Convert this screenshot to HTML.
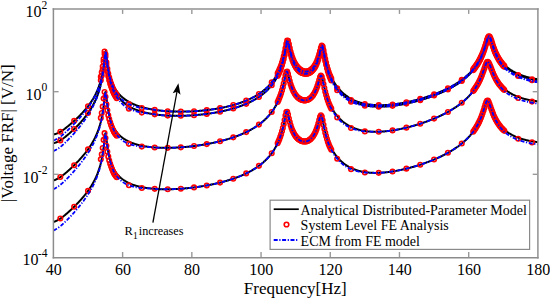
<!DOCTYPE html>
<html><head><meta charset="utf-8"><style>html,body{margin:0;padding:0;background:#fff;width:550px;height:299px;overflow:hidden}svg{display:block}</style></head>
<body><svg width="550" height="299" viewBox="0 0 550 299">
<rect width="550" height="299" fill="#fff"/>
<defs><clipPath id="cp"><rect x="53.4" y="9" width="484.5" height="248.75"/></clipPath></defs>
<g clip-path="url(#cp)"><g transform="matrix(1.001033,0,0,1,0.3452,0)">
<polyline fill="none" stroke="#000" stroke-width="2" stroke-linejoin="round" points="53.00,134.49 53.35,134.42 53.69,134.35 54.04,134.27 54.38,134.18 54.73,134.08 55.07,133.98 55.42,133.86 55.77,133.74 56.11,133.61 56.46,133.48 56.80,133.34 57.15,133.19 57.49,133.03 57.84,132.86 58.19,132.69 58.53,132.52 58.88,132.33 59.22,132.14 59.57,131.95 59.91,131.74 60.26,131.54 60.61,131.32 60.95,131.11 61.30,130.88 61.64,130.66 61.99,130.42 62.33,130.19 62.68,129.95 63.03,129.70 63.37,129.45 63.72,129.20 64.06,128.95 64.41,128.69 64.75,128.42 65.10,128.16 65.45,127.89 65.79,127.62 66.14,127.35 66.48,127.07 66.83,126.79 67.17,126.51 67.52,126.23 67.87,125.94 68.21,125.66 68.56,125.37 68.90,125.08 69.25,124.79 69.59,124.49 69.94,124.20 70.29,123.90 70.63,123.60 70.98,123.30 71.32,123.00 71.67,122.69 72.01,122.39 72.36,122.08 72.71,121.78 73.05,121.47 73.40,121.16 73.74,120.85 74.09,120.54 74.43,120.22 74.78,119.91 75.13,119.59 75.47,119.27 75.82,118.94 76.16,118.62 76.51,118.29 76.85,117.96 77.20,117.63 77.55,117.29 77.89,116.96 78.24,116.62 78.58,116.27 78.93,115.93 79.27,115.58 79.62,115.23 79.97,114.88 80.31,114.52 80.66,114.16 81.00,113.80 81.35,113.44 81.69,113.07 82.04,112.70 82.39,112.32 82.73,111.94 83.08,111.56 83.42,111.18 83.77,110.79 84.11,110.39 84.46,110.00 84.81,109.59 85.15,109.19 85.50,108.78 85.84,108.36 86.19,107.94 86.53,107.52 86.88,107.08 87.23,106.65 87.57,106.21 87.92,105.76 88.26,105.30 88.61,104.84 88.95,104.37 89.30,103.90 89.65,103.41 89.99,102.92 90.34,102.42 90.68,101.91 91.03,101.40 91.37,100.87 91.72,100.33 92.07,99.78 92.41,99.22 92.76,98.65 93.10,98.06 93.45,97.46 93.79,96.84 94.14,96.21 94.49,95.56 94.83,94.90 95.18,94.21 95.52,93.51 95.87,92.78 96.21,92.03 96.56,91.25 96.91,90.45 97.25,89.61 97.60,88.75 97.94,87.85 98.29,86.91 98.63,85.93 98.98,84.90 99.33,83.83 99.67,82.69 100.02,81.50 100.36,80.27 100.71,78.97 101.05,77.59 101.40,76.12 101.75,74.54 102.09,72.82 102.44,70.95 102.78,68.88 103.13,66.59 103.47,64.03 103.82,61.19 104.17,58.09 104.51,54.93 104.86,52.23 105.20,50.98 105.55,51.84 105.89,54.29 106.24,57.31 106.59,60.31 106.93,63.06 107.28,65.52 107.62,67.71 107.97,69.66 108.31,71.41 108.66,73.00 109.01,74.43 109.35,75.75 109.70,76.96 110.04,78.09 110.39,79.14 110.73,80.14 111.08,81.08 111.43,81.98 111.77,82.85 112.12,83.68 112.46,84.47 112.81,85.21 113.15,85.93 113.50,86.61 113.85,87.26 114.19,87.88 114.54,88.48 114.88,89.05 115.23,89.60 115.57,90.13 115.92,90.65 116.27,91.14 116.61,91.61 116.96,92.07 117.30,92.52 117.65,92.95 117.99,93.36 118.34,93.77 118.69,94.16 119.03,94.54 119.38,94.91 119.72,95.26 120.07,95.61 120.41,95.95 120.76,96.28 121.11,96.60 121.45,96.91 121.80,97.22 122.14,97.51 122.49,97.80 122.83,98.09 123.18,98.36 123.53,98.63 123.87,98.89 124.22,99.15 124.56,99.40 124.91,99.64 125.25,99.88 125.60,100.12 125.95,100.35 126.29,100.57 126.64,100.79 126.98,101.01 127.33,101.22 127.67,101.42 128.02,101.62 128.37,101.82 128.71,102.01 129.06,102.20 129.40,102.39 129.75,102.57 130.09,102.75 130.44,102.93 130.79,103.10 131.13,103.27 131.48,103.43 131.82,103.60 132.17,103.76 132.51,103.91 132.86,104.07 133.21,104.22 133.55,104.37 133.90,104.51 134.24,104.65 134.59,104.79 134.93,104.93 135.28,105.07 135.63,105.20 135.97,105.33 136.32,105.46 136.66,105.59 137.01,105.71 137.35,105.83 137.70,105.95 138.05,106.07 138.39,106.19 138.74,106.30 139.08,106.41 139.43,106.52 139.77,106.63 140.12,106.74 140.47,106.84 140.81,106.94 141.16,107.05 141.50,107.14 141.85,107.24 142.19,107.34 142.54,107.43 142.89,107.53 143.23,107.62 143.58,107.71 143.92,107.80 144.27,107.88 144.61,107.97 144.96,108.05 145.31,108.14 145.65,108.22 146.00,108.30 146.34,108.38 146.69,108.45 147.03,108.53 147.38,108.60 147.73,108.68 148.07,108.75 148.42,108.82 148.76,108.89 149.11,108.96 149.45,109.03 149.80,109.09 150.15,109.16 150.49,109.22 150.84,109.29 151.18,109.35 151.53,109.41 151.87,109.47 152.22,109.53 152.57,109.59 152.91,109.64 153.26,109.70 153.60,109.75 153.95,109.81 154.29,109.86 154.64,109.91 154.99,109.96 155.33,110.01 155.68,110.06 156.02,110.11 156.37,110.16 156.71,110.20 157.06,110.25 157.41,110.29 157.75,110.34 158.10,110.38 158.44,110.42 158.79,110.46 159.13,110.50 159.48,110.54 159.83,110.58 160.17,110.62 160.52,110.66 160.86,110.69 161.21,110.73 161.55,110.76 161.90,110.80 162.25,110.83 162.59,110.86 162.94,110.89 163.28,110.93 163.63,110.96 163.97,110.98 164.32,111.01 164.67,111.04 165.01,111.07 165.36,111.10 165.70,111.12 166.05,111.15 166.39,111.17 166.74,111.19 167.09,111.22 167.43,111.24 167.78,111.26 168.12,111.28 168.47,111.30 168.81,111.32 169.16,111.34 169.51,111.36 169.85,111.38 170.20,111.40 170.54,111.41 170.89,111.43 171.23,111.44 171.58,111.46 171.93,111.47 172.27,111.49 172.62,111.50 172.96,111.51 173.31,111.52 173.65,111.53 174.00,111.54 174.35,111.55 174.69,111.56 175.04,111.57 175.38,111.58 175.73,111.59 176.07,111.60 176.42,111.60 176.77,111.61 177.11,111.61 177.46,111.62 177.80,111.62 178.15,111.62 178.49,111.63 178.84,111.63 179.19,111.63 179.53,111.63 179.88,111.63 180.22,111.63 180.57,111.63 180.91,111.63 181.26,111.63 181.61,111.63 181.95,111.63 182.30,111.62 182.64,111.62 182.99,111.61 183.33,111.61 183.68,111.60 184.03,111.60 184.37,111.59 184.72,111.59 185.06,111.58 185.41,111.57 185.75,111.56 186.10,111.55 186.45,111.54 186.79,111.53 187.14,111.52 187.48,111.51 187.83,111.50 188.17,111.49 188.52,111.47 188.87,111.46 189.21,111.45 189.56,111.43 189.90,111.42 190.25,111.40 190.59,111.39 190.94,111.37 191.29,111.35 191.63,111.34 191.98,111.32 192.32,111.30 192.67,111.28 193.01,111.26 193.36,111.24 193.71,111.22 194.05,111.20 194.40,111.18 194.74,111.15 195.09,111.13 195.43,111.11 195.78,111.09 196.13,111.06 196.47,111.04 196.82,111.01 197.16,110.98 197.51,110.96 197.85,110.93 198.20,110.90 198.55,110.88 198.89,110.85 199.24,110.82 199.58,110.79 199.93,110.76 200.27,110.73 200.62,110.70 200.97,110.66 201.31,110.63 201.66,110.60 202.00,110.57 202.35,110.53 202.69,110.50 203.04,110.46 203.39,110.43 203.73,110.39 204.08,110.35 204.42,110.32 204.77,110.28 205.11,110.24 205.46,110.20 205.81,110.16 206.15,110.12 206.50,110.08 206.84,110.04 207.19,110.00 207.53,109.96 207.88,109.91 208.23,109.87 208.57,109.82 208.92,109.78 209.26,109.73 209.61,109.69 209.95,109.64 210.30,109.60 210.65,109.55 210.99,109.50 211.34,109.45 211.68,109.40 212.03,109.35 212.37,109.30 212.72,109.25 213.07,109.20 213.41,109.14 213.76,109.09 214.10,109.04 214.45,108.98 214.79,108.93 215.14,108.87 215.49,108.81 215.83,108.76 216.18,108.70 216.52,108.64 216.87,108.58 217.21,108.52 217.56,108.46 217.91,108.40 218.25,108.34 218.60,108.28 218.94,108.21 219.29,108.15 219.63,108.08 219.98,108.02 220.33,107.95 220.67,107.89 221.02,107.82 221.36,107.75 221.71,107.68 222.05,107.61 222.40,107.54 222.75,107.47 223.09,107.40 223.44,107.32 223.78,107.25 224.13,107.18 224.47,107.10 224.82,107.02 225.17,106.95 225.51,106.87 225.86,106.79 226.20,106.71 226.55,106.63 226.89,106.55 227.24,106.47 227.59,106.39 227.93,106.30 228.28,106.22 228.62,106.13 228.97,106.05 229.31,105.96 229.66,105.87 230.01,105.78 230.35,105.69 230.70,105.60 231.04,105.51 231.39,105.42 231.73,105.32 232.08,105.23 232.43,105.13 232.77,105.04 233.12,104.94 233.46,104.84 233.81,104.74 234.15,104.64 234.50,104.54 234.85,104.44 235.19,104.33 235.54,104.23 235.88,104.12 236.23,104.01 236.57,103.90 236.92,103.80 237.27,103.68 237.61,103.57 237.96,103.46 238.30,103.35 238.65,103.23 238.99,103.11 239.34,102.99 239.69,102.88 240.03,102.75 240.38,102.63 240.72,102.51 241.07,102.39 241.41,102.26 241.76,102.13 242.11,102.00 242.45,101.87 242.80,101.74 243.14,101.61 243.49,101.47 243.83,101.34 244.18,101.20 244.53,101.06 244.87,100.92 245.22,100.78 245.56,100.64 245.91,100.49 246.25,100.34 246.60,100.19 246.95,100.04 247.29,99.89 247.64,99.74 247.98,99.58 248.33,99.42 248.67,99.27 249.02,99.10 249.37,98.94 249.71,98.78 250.06,98.61 250.40,98.44 250.75,98.27 251.09,98.10 251.44,97.92 251.79,97.74 252.13,97.56 252.48,97.38 252.82,97.20 253.17,97.01 253.51,96.82 253.86,96.63 254.21,96.44 254.55,96.24 254.90,96.04 255.24,95.84 255.59,95.64 255.93,95.43 256.28,95.22 256.63,95.01 256.97,94.79 257.32,94.57 257.66,94.35 258.01,94.13 258.35,93.90 258.70,93.67 259.05,93.44 259.39,93.20 259.74,92.96 260.08,92.72 260.43,92.47 260.77,92.22 261.12,91.96 261.47,91.70 261.81,91.44 262.16,91.17 262.50,90.90 262.85,90.63 263.19,90.35 263.54,90.06 263.89,89.77 264.23,89.48 264.58,89.18 264.92,88.88 265.27,88.57 265.61,88.26 265.96,87.94 266.31,87.61 266.65,87.28 267.00,86.95 267.34,86.60 267.69,86.26 268.03,85.90 268.38,85.54 268.73,85.17 269.07,84.79 269.42,84.41 269.76,84.02 270.11,83.62 270.45,83.21 270.80,82.79 271.15,82.37 271.49,81.93 271.84,81.49 272.18,81.03 272.53,80.57 272.87,80.09 273.22,79.60 273.57,79.10 273.91,78.59 274.26,78.06 274.60,77.52 274.95,76.97 275.29,76.40 275.64,75.81 275.99,75.21 276.33,74.59 276.68,73.95 277.02,73.29 277.37,72.60 277.71,71.90 278.06,71.17 278.41,70.42 278.75,69.63 279.10,68.82 279.44,67.98 279.79,67.10 280.13,66.18 280.48,65.23 280.83,64.23 281.17,63.18 281.52,62.08 281.86,60.93 282.21,59.72 282.55,58.44 282.90,57.09 283.25,55.66 283.59,54.15 283.94,52.56 284.28,50.88 284.63,49.13 284.97,47.33 285.32,45.51 285.67,43.77 286.01,42.21 286.36,41.00 286.70,40.32 287.05,40.28 287.39,40.86 287.74,41.94 288.09,43.33 288.43,44.89 288.78,46.49 289.12,48.07 289.47,49.59 289.81,51.03 290.16,52.39 290.51,53.66 290.85,54.85 291.20,55.97 291.54,57.01 291.89,57.99 292.23,58.90 292.58,59.77 292.93,60.57 293.27,61.34 293.62,62.05 293.96,62.73 294.31,63.37 294.65,63.97 295.00,64.53 295.35,65.07 295.69,65.58 296.04,66.06 296.38,66.51 296.73,66.94 297.07,67.34 297.42,67.72 297.77,68.08 298.11,68.41 298.46,68.73 298.80,69.03 299.15,69.31 299.49,69.57 299.84,69.81 300.19,70.03 300.53,70.24 300.88,70.44 301.22,70.61 301.57,70.77 301.91,70.92 302.26,71.05 302.61,71.16 302.95,71.26 303.30,71.34 303.64,71.41 303.99,71.47 304.33,71.51 304.68,71.53 305.03,71.55 305.37,71.54 305.72,71.52 306.06,71.49 306.41,71.44 306.75,71.37 307.10,71.29 307.45,71.20 307.79,71.08 308.14,70.96 308.48,70.81 308.83,70.65 309.17,70.46 309.52,70.26 309.87,70.05 310.21,69.81 310.56,69.55 310.90,69.27 311.25,68.96 311.59,68.64 311.94,68.29 312.29,67.91 312.63,67.51 312.98,67.08 313.32,66.62 313.67,66.13 314.01,65.60 314.36,65.04 314.71,64.44 315.05,63.80 315.40,63.12 315.74,62.39 316.09,61.61 316.43,60.77 316.78,59.88 317.13,58.93 317.47,57.91 317.82,56.82 318.16,55.65 318.51,54.42 318.85,53.12 319.20,51.77 319.55,50.38 319.89,49.01 320.24,47.73 320.58,46.63 320.93,45.85 321.27,45.52 321.62,45.72 321.97,46.45 322.31,47.61 322.66,49.07 323.00,50.70 323.35,52.40 323.69,54.12 324.04,55.79 324.39,57.42 324.73,58.97 325.08,60.45 325.42,61.87 325.77,63.21 326.11,64.49 326.46,65.71 326.81,66.87 327.15,67.98 327.50,69.04 327.84,70.06 328.19,71.03 328.53,71.97 328.88,72.86 329.23,73.73 329.57,74.56 329.92,75.36 330.26,76.14 330.61,76.89 330.95,77.61 331.30,78.32 331.65,78.99 331.99,79.65 332.34,80.29 332.68,80.91 333.03,81.51 333.37,82.10 333.72,82.67 334.07,83.22 334.41,83.76 334.76,84.28 335.10,84.80 335.45,85.29 335.79,85.78 336.14,86.25 336.49,86.71 336.83,87.17 337.18,87.60 337.52,88.03 337.87,88.45 338.21,88.86 338.56,89.26 338.91,89.65 339.25,90.04 339.60,90.41 339.94,90.78 340.29,91.13 340.63,91.48 340.98,91.83 341.33,92.16 341.67,92.49 342.02,92.81 342.36,93.12 342.71,93.43 343.05,93.73 343.40,94.02 343.75,94.31 344.09,94.59 344.44,94.87 344.78,95.14 345.13,95.40 345.47,95.66 345.82,95.91 346.17,96.16 346.51,96.40 346.86,96.64 347.20,96.88 347.55,97.10 347.89,97.33 348.24,97.55 348.59,97.76 348.93,97.97 349.28,98.18 349.62,98.38 349.97,98.57 350.31,98.77 350.66,98.95 351.01,99.14 351.35,99.32 351.70,99.50 352.04,99.67 352.39,99.84 352.73,100.00 353.08,100.17 353.43,100.32 353.77,100.48 354.12,100.63 354.46,100.78 354.81,100.92 355.15,101.07 355.50,101.20 355.85,101.34 356.19,101.47 356.54,101.60 356.88,101.73 357.23,101.85 357.57,101.97 357.92,102.09 358.27,102.20 358.61,102.31 358.96,102.42 359.30,102.53 359.65,102.63 359.99,102.74 360.34,102.83 360.69,102.93 361.03,103.02 361.38,103.12 361.72,103.20 362.07,103.29 362.41,103.37 362.76,103.46 363.11,103.54 363.45,103.61 363.80,103.69 364.14,103.76 364.49,103.83 364.83,103.90 365.18,103.97 365.53,104.03 365.87,104.09 366.22,104.15 366.56,104.21 366.91,104.27 367.25,104.32 367.60,104.37 367.95,104.43 368.29,104.47 368.64,104.52 368.98,104.57 369.33,104.61 369.67,104.65 370.02,104.69 370.37,104.73 370.71,104.77 371.06,104.80 371.40,104.83 371.75,104.86 372.09,104.89 372.44,104.92 372.79,104.95 373.13,104.97 373.48,105.00 373.82,105.02 374.17,105.04 374.51,105.06 374.86,105.08 375.21,105.09 375.55,105.11 375.90,105.12 376.24,105.13 376.59,105.14 376.93,105.15 377.28,105.16 377.63,105.17 377.97,105.17 378.32,105.18 378.66,105.18 379.01,105.18 379.35,105.18 379.70,105.18 380.05,105.18 380.39,105.17 380.74,105.17 381.08,105.16 381.43,105.16 381.77,105.15 382.12,105.14 382.47,105.13 382.81,105.12 383.16,105.10 383.50,105.09 383.85,105.07 384.19,105.06 384.54,105.04 384.89,105.02 385.23,105.00 385.58,104.98 385.92,104.96 386.27,104.94 386.61,104.92 386.96,104.89 387.31,104.87 387.65,104.84 388.00,104.81 388.34,104.78 388.69,104.75 389.03,104.72 389.38,104.69 389.73,104.66 390.07,104.63 390.42,104.59 390.76,104.56 391.11,104.52 391.45,104.48 391.80,104.45 392.15,104.41 392.49,104.37 392.84,104.33 393.18,104.29 393.53,104.25 393.87,104.20 394.22,104.16 394.57,104.11 394.91,104.07 395.26,104.02 395.60,103.97 395.95,103.93 396.29,103.88 396.64,103.83 396.99,103.78 397.33,103.73 397.68,103.68 398.02,103.62 398.37,103.57 398.71,103.51 399.06,103.46 399.41,103.40 399.75,103.35 400.10,103.29 400.44,103.23 400.79,103.17 401.13,103.11 401.48,103.05 401.83,102.99 402.17,102.93 402.52,102.87 402.86,102.80 403.21,102.74 403.55,102.67 403.90,102.61 404.25,102.54 404.59,102.47 404.94,102.41 405.28,102.34 405.63,102.27 405.97,102.20 406.32,102.13 406.67,102.06 407.01,101.98 407.36,101.91 407.70,101.84 408.05,101.76 408.39,101.69 408.74,101.61 409.09,101.53 409.43,101.46 409.78,101.38 410.12,101.30 410.47,101.22 410.81,101.14 411.16,101.06 411.51,100.98 411.85,100.90 412.20,100.81 412.54,100.73 412.89,100.65 413.23,100.56 413.58,100.48 413.93,100.39 414.27,100.30 414.62,100.21 414.96,100.13 415.31,100.04 415.65,99.95 416.00,99.86 416.35,99.76 416.69,99.67 417.04,99.58 417.38,99.49 417.73,99.39 418.07,99.30 418.42,99.20 418.77,99.11 419.11,99.01 419.46,98.91 419.80,98.81 420.15,98.71 420.49,98.61 420.84,98.51 421.19,98.41 421.53,98.31 421.88,98.21 422.22,98.10 422.57,98.00 422.91,97.89 423.26,97.79 423.61,97.68 423.95,97.57 424.30,97.46 424.64,97.35 424.99,97.24 425.33,97.13 425.68,97.02 426.03,96.91 426.37,96.80 426.72,96.68 427.06,96.57 427.41,96.45 427.75,96.34 428.10,96.22 428.45,96.10 428.79,95.98 429.14,95.87 429.48,95.75 429.83,95.62 430.17,95.50 430.52,95.38 430.87,95.26 431.21,95.13 431.56,95.01 431.90,94.88 432.25,94.75 432.59,94.63 432.94,94.50 433.29,94.37 433.63,94.24 433.98,94.10 434.32,93.97 434.67,93.84 435.01,93.70 435.36,93.57 435.71,93.43 436.05,93.29 436.40,93.16 436.74,93.02 437.09,92.88 437.43,92.74 437.78,92.59 438.13,92.45 438.47,92.31 438.82,92.16 439.16,92.01 439.51,91.87 439.85,91.72 440.20,91.57 440.55,91.42 440.89,91.27 441.24,91.11 441.58,90.96 441.93,90.80 442.27,90.65 442.62,90.49 442.97,90.33 443.31,90.17 443.66,90.01 444.00,89.85 444.35,89.68 444.69,89.52 445.04,89.35 445.39,89.18 445.73,89.01 446.08,88.84 446.42,88.67 446.77,88.50 447.11,88.32 447.46,88.15 447.81,87.97 448.15,87.79 448.50,87.61 448.84,87.43 449.19,87.25 449.53,87.06 449.88,86.87 450.23,86.69 450.57,86.50 450.92,86.30 451.26,86.11 451.61,85.92 451.95,85.72 452.30,85.52 452.65,85.32 452.99,85.12 453.34,84.92 453.68,84.71 454.03,84.50 454.37,84.29 454.72,84.08 455.07,83.87 455.41,83.65 455.76,83.43 456.10,83.21 456.45,82.99 456.79,82.77 457.14,82.54 457.49,82.31 457.83,82.08 458.18,81.84 458.52,81.61 458.87,81.37 459.21,81.13 459.56,80.88 459.91,80.64 460.25,80.39 460.60,80.13 460.94,79.88 461.29,79.62 461.63,79.36 461.98,79.09 462.33,78.83 462.67,78.56 463.02,78.28 463.36,78.00 463.71,77.72 464.05,77.44 464.40,77.15 464.75,76.86 465.09,76.56 465.44,76.26 465.78,75.96 466.13,75.65 466.47,75.33 466.82,75.02 467.17,74.69 467.51,74.37 467.86,74.03 468.20,73.70 468.55,73.36 468.89,73.01 469.24,72.65 469.59,72.30 469.93,71.93 470.28,71.56 470.62,71.18 470.97,70.80 471.31,70.41 471.66,70.01 472.01,69.60 472.35,69.19 472.70,68.77 473.04,68.34 473.39,67.90 473.73,67.45 474.08,66.99 474.43,66.53 474.77,66.05 475.12,65.56 475.46,65.07 475.81,64.56 476.15,64.03 476.50,63.50 476.85,62.95 477.19,62.38 477.54,61.81 477.88,61.21 478.23,60.60 478.57,59.98 478.92,59.33 479.27,58.66 479.61,57.98 479.96,57.27 480.30,56.54 480.65,55.79 480.99,55.01 481.34,54.20 481.69,53.37 482.03,52.50 482.38,51.61 482.72,50.68 483.07,49.72 483.41,48.72 483.76,47.69 484.11,46.63 484.45,45.54 484.80,44.42 485.14,43.28 485.49,42.14 485.83,41.00 486.18,39.90 486.53,38.86 486.87,37.92 487.22,37.14 487.56,36.55 487.91,36.21 488.25,36.12 488.60,36.31 488.95,36.74 489.29,37.39 489.64,38.20 489.98,39.12 490.33,40.12 490.67,41.16 491.02,42.22 491.37,43.28 491.71,44.32 492.06,45.33 492.40,46.31 492.75,47.27 493.09,48.18 493.44,49.07 493.79,49.92 494.13,50.74 494.48,51.52 494.82,52.28 495.17,53.01 495.51,53.71 495.86,54.38 496.21,55.03 496.55,55.66 496.90,56.26 497.24,56.85 497.59,57.41 497.93,57.96 498.28,58.48 498.63,58.99 498.97,59.49 499.32,59.97 499.66,60.44 500.01,60.89 500.35,61.33 500.70,61.75 501.05,62.17 501.39,62.57 501.74,62.96 502.08,63.34 502.43,63.72 502.77,64.08 503.12,64.43 503.47,64.78 503.81,65.11 504.16,65.44 504.50,65.76 504.85,66.07 505.19,66.38 505.54,66.68 505.89,66.97 506.23,67.25 506.58,67.53 506.92,67.80 507.27,68.07 507.61,68.33 507.96,68.59 508.31,68.84 508.65,69.08 509.00,69.32 509.34,69.56 509.69,69.79 510.03,70.01 510.38,70.24 510.73,70.45 511.07,70.66 511.42,70.87 511.76,71.08 512.11,71.28 512.45,71.48 512.80,71.67 513.15,71.86 513.49,72.04 513.84,72.23 514.18,72.41 514.53,72.58 514.87,72.76 515.22,72.92 515.57,73.09 515.91,73.26 516.26,73.42 516.60,73.57 516.95,73.73 517.29,73.88 517.64,74.03 517.99,74.18 518.33,74.32 518.68,74.46 519.02,74.60 519.37,74.74 519.71,74.88 520.06,75.01 520.41,75.14 520.75,75.27 521.10,75.39 521.44,75.51 521.79,75.64 522.13,75.75 522.48,75.87 522.83,75.99 523.17,76.10 523.52,76.21 523.86,76.32 524.21,76.43 524.55,76.53 524.90,76.64 525.25,76.74 525.59,76.84 525.94,76.94 526.28,77.03 526.63,77.13 526.97,77.22 527.32,77.31 527.67,77.40 528.01,77.49 528.36,77.58 528.70,77.66 529.05,77.74 529.39,77.83 529.74,77.91 530.09,77.99 530.43,78.06 530.78,78.14 531.12,78.21 531.47,78.29 531.81,78.36 532.16,78.43 532.51,78.50 532.85,78.57 533.20,78.63 533.54,78.70 533.89,78.76 534.23,78.82 534.58,78.88 534.93,78.94 535.27,79.00 535.62,79.06 535.96,79.12 536.31,79.17 536.65,79.23 537.00,79.28"/>
<polyline fill="none" stroke="#000" stroke-width="2" stroke-linejoin="round" points="53.00,143.19 53.35,143.12 53.69,143.05 54.04,142.96 54.38,142.87 54.73,142.78 55.07,142.67 55.42,142.55 55.77,142.43 56.11,142.30 56.46,142.16 56.80,142.01 57.15,141.86 57.49,141.70 57.84,141.53 58.19,141.35 58.53,141.17 58.88,140.98 59.22,140.79 59.57,140.58 59.91,140.38 60.26,140.16 60.61,139.94 60.95,139.72 61.30,139.49 61.64,139.25 61.99,139.01 62.33,138.77 62.68,138.52 63.03,138.27 63.37,138.01 63.72,137.75 64.06,137.48 64.41,137.21 64.75,136.94 65.10,136.67 65.45,136.39 65.79,136.11 66.14,135.82 66.48,135.54 66.83,135.25 67.17,134.96 67.52,134.66 67.87,134.36 68.21,134.07 68.56,133.77 68.90,133.46 69.25,133.16 69.59,132.85 69.94,132.54 70.29,132.23 70.63,131.92 70.98,131.61 71.32,131.29 71.67,130.98 72.01,130.66 72.36,130.34 72.71,130.02 73.05,129.70 73.40,129.37 73.74,129.05 74.09,128.72 74.43,128.39 74.78,128.06 75.13,127.72 75.47,127.38 75.82,127.03 76.16,126.68 76.51,126.33 76.85,125.97 77.20,125.61 77.55,125.25 77.89,124.88 78.24,124.51 78.58,124.14 78.93,123.76 79.27,123.38 79.62,123.00 79.97,122.61 80.31,122.21 80.66,121.82 81.00,121.42 81.35,121.01 81.69,120.61 82.04,120.19 82.39,119.78 82.73,119.36 83.08,118.94 83.42,118.51 83.77,118.08 84.11,117.64 84.46,117.20 84.81,116.75 85.15,116.30 85.50,115.85 85.84,115.39 86.19,114.92 86.53,114.45 86.88,113.97 87.23,113.49 87.57,113.01 87.92,112.51 88.26,112.01 88.61,111.50 88.95,110.99 89.30,110.46 89.65,109.93 89.99,109.39 90.34,108.84 90.68,108.28 91.03,107.72 91.37,107.14 91.72,106.54 92.07,105.94 92.41,105.32 92.76,104.69 93.10,104.04 93.45,103.38 93.79,102.71 94.14,102.01 94.49,101.30 94.83,100.57 95.18,99.81 95.52,99.04 95.87,98.24 96.21,97.42 96.56,96.57 96.91,95.69 97.25,94.78 97.60,93.83 97.94,92.85 98.29,91.82 98.63,90.72 98.98,89.57 99.33,88.35 99.67,87.07 100.02,85.72 100.36,84.32 100.71,82.85 101.05,81.30 101.40,79.66 101.75,77.92 102.09,76.04 102.44,74.02 102.78,71.82 103.13,69.40 103.47,66.74 103.82,63.81 104.17,60.65 104.51,57.44 104.86,54.73 105.20,53.48 105.55,54.35 105.89,56.80 106.24,59.83 106.59,62.84 106.93,65.61 107.28,68.08 107.62,70.29 107.97,72.26 108.31,74.03 108.66,75.63 109.01,77.09 109.35,78.43 109.70,79.67 110.04,80.82 110.39,81.91 110.73,82.92 111.08,83.89 111.43,84.82 111.77,85.72 112.12,86.57 112.46,87.39 112.81,88.16 113.15,88.90 113.50,89.61 113.85,90.29 114.19,90.94 114.54,91.56 114.88,92.17 115.23,92.76 115.57,93.32 115.92,93.87 116.27,94.41 116.61,94.92 116.96,95.43 117.30,95.91 117.65,96.39 117.99,96.85 118.34,97.30 118.69,97.74 119.03,98.17 119.38,98.58 119.72,98.99 120.07,99.39 120.41,99.77 120.76,100.15 121.11,100.52 121.45,100.88 121.80,101.23 122.14,101.57 122.49,101.90 122.83,102.23 123.18,102.55 123.53,102.86 123.87,103.16 124.22,103.46 124.56,103.74 124.91,104.02 125.25,104.29 125.60,104.56 125.95,104.82 126.29,105.07 126.64,105.31 126.98,105.54 127.33,105.77 127.67,105.99 128.02,106.21 128.37,106.41 128.71,106.61 129.06,106.80 129.40,106.99 129.75,107.17 130.09,107.35 130.44,107.53 130.79,107.70 131.13,107.87 131.48,108.03 131.82,108.19 132.17,108.35 132.51,108.51 132.86,108.66 133.21,108.81 133.55,108.96 133.90,109.11 134.24,109.25 134.59,109.39 134.93,109.53 135.28,109.66 135.63,109.79 135.97,109.92 136.32,110.05 136.66,110.18 137.01,110.30 137.35,110.42 137.70,110.54 138.05,110.66 138.39,110.77 138.74,110.88 139.08,110.99 139.43,111.10 139.77,111.21 140.12,111.32 140.47,111.42 140.81,111.52 141.16,111.62 141.50,111.72 141.85,111.82 142.19,111.91 142.54,112.00 142.89,112.10 143.23,112.19 143.58,112.27 143.92,112.36 144.27,112.45 144.61,112.53 144.96,112.61 145.31,112.70 145.65,112.78 146.00,112.85 146.34,112.93 146.69,113.01 147.03,113.08 147.38,113.15 147.73,113.23 148.07,113.30 148.42,113.37 148.76,113.43 149.11,113.50 149.45,113.57 149.80,113.63 150.15,113.70 150.49,113.76 150.84,113.82 151.18,113.88 151.53,113.94 151.87,114.00 152.22,114.05 152.57,114.11 152.91,114.16 153.26,114.22 153.60,114.27 153.95,114.32 154.29,114.37 154.64,114.42 154.99,114.47 155.33,114.52 155.68,114.57 156.02,114.61 156.37,114.66 156.71,114.70 157.06,114.75 157.41,114.79 157.75,114.83 158.10,114.87 158.44,114.91 158.79,114.95 159.13,114.99 159.48,115.02 159.83,115.06 160.17,115.09 160.52,115.13 160.86,115.16 161.21,115.19 161.55,115.22 161.90,115.25 162.25,115.28 162.59,115.31 162.94,115.34 163.28,115.37 163.63,115.39 163.97,115.42 164.32,115.44 164.67,115.47 165.01,115.49 165.36,115.51 165.70,115.53 166.05,115.56 166.39,115.58 166.74,115.59 167.09,115.61 167.43,115.63 167.78,115.65 168.12,115.66 168.47,115.68 168.81,115.69 169.16,115.71 169.51,115.72 169.85,115.73 170.20,115.75 170.54,115.76 170.89,115.77 171.23,115.78 171.58,115.79 171.93,115.79 172.27,115.80 172.62,115.81 172.96,115.82 173.31,115.82 173.65,115.83 174.00,115.83 174.35,115.84 174.69,115.84 175.04,115.84 175.38,115.85 175.73,115.85 176.07,115.85 176.42,115.85 176.77,115.85 177.11,115.85 177.46,115.85 177.80,115.84 178.15,115.84 178.49,115.84 178.84,115.84 179.19,115.83 179.53,115.83 179.88,115.82 180.22,115.81 180.57,115.81 180.91,115.80 181.26,115.79 181.61,115.79 181.95,115.78 182.30,115.77 182.64,115.76 182.99,115.75 183.33,115.74 183.68,115.73 184.03,115.71 184.37,115.70 184.72,115.69 185.06,115.68 185.41,115.66 185.75,115.65 186.10,115.63 186.45,115.62 186.79,115.60 187.14,115.59 187.48,115.57 187.83,115.55 188.17,115.53 188.52,115.52 188.87,115.50 189.21,115.48 189.56,115.46 189.90,115.44 190.25,115.42 190.59,115.40 190.94,115.38 191.29,115.35 191.63,115.33 191.98,115.31 192.32,115.28 192.67,115.26 193.01,115.24 193.36,115.21 193.71,115.18 194.05,115.16 194.40,115.13 194.74,115.10 195.09,115.08 195.43,115.05 195.78,115.02 196.13,114.99 196.47,114.96 196.82,114.93 197.16,114.90 197.51,114.87 197.85,114.84 198.20,114.80 198.55,114.77 198.89,114.74 199.24,114.70 199.58,114.67 199.93,114.63 200.27,114.60 200.62,114.56 200.97,114.52 201.31,114.49 201.66,114.45 202.00,114.41 202.35,114.37 202.69,114.33 203.04,114.29 203.39,114.25 203.73,114.21 204.08,114.17 204.42,114.13 204.77,114.08 205.11,114.04 205.46,114.00 205.81,113.95 206.15,113.91 206.50,113.86 206.84,113.81 207.19,113.77 207.53,113.72 207.88,113.67 208.23,113.62 208.57,113.57 208.92,113.53 209.26,113.47 209.61,113.42 209.95,113.37 210.30,113.32 210.65,113.27 210.99,113.21 211.34,113.16 211.68,113.11 212.03,113.05 212.37,112.99 212.72,112.94 213.07,112.88 213.41,112.82 213.76,112.77 214.10,112.71 214.45,112.65 214.79,112.59 215.14,112.53 215.49,112.46 215.83,112.40 216.18,112.34 216.52,112.28 216.87,112.21 217.21,112.15 217.56,112.08 217.91,112.01 218.25,111.95 218.60,111.88 218.94,111.81 219.29,111.74 219.63,111.67 219.98,111.60 220.33,111.53 220.67,111.46 221.02,111.39 221.36,111.31 221.71,111.24 222.05,111.17 222.40,111.09 222.75,111.01 223.09,110.94 223.44,110.86 223.78,110.78 224.13,110.70 224.47,110.62 224.82,110.54 225.17,110.46 225.51,110.37 225.86,110.29 226.20,110.21 226.55,110.12 226.89,110.04 227.24,109.95 227.59,109.86 227.93,109.77 228.28,109.68 228.62,109.59 228.97,109.50 229.31,109.41 229.66,109.32 230.01,109.22 230.35,109.13 230.70,109.03 231.04,108.94 231.39,108.84 231.73,108.74 232.08,108.64 232.43,108.54 232.77,108.44 233.12,108.34 233.46,108.23 233.81,108.13 234.15,108.02 234.50,107.92 234.85,107.81 235.19,107.70 235.54,107.59 235.88,107.48 236.23,107.37 236.57,107.25 236.92,107.14 237.27,107.02 237.61,106.91 237.96,106.79 238.30,106.67 238.65,106.55 238.99,106.43 239.34,106.30 239.69,106.18 240.03,106.05 240.38,105.93 240.72,105.80 241.07,105.67 241.41,105.54 241.76,105.41 242.11,105.27 242.45,105.14 242.80,105.00 243.14,104.86 243.49,104.73 243.83,104.58 244.18,104.44 244.53,104.30 244.87,104.15 245.22,104.01 245.56,103.86 245.91,103.71 246.25,103.55 246.60,103.40 246.95,103.25 247.29,103.09 247.64,102.93 247.98,102.77 248.33,102.61 248.67,102.44 249.02,102.28 249.37,102.11 249.71,101.94 250.06,101.77 250.40,101.59 250.75,101.41 251.09,101.24 251.44,101.06 251.79,100.87 252.13,100.69 252.48,100.50 252.82,100.31 253.17,100.12 253.51,99.93 253.86,99.73 254.21,99.53 254.55,99.33 254.90,99.13 255.24,98.92 255.59,98.71 255.93,98.50 256.28,98.28 256.63,98.07 256.97,97.85 257.32,97.62 257.66,97.40 258.01,97.17 258.35,96.93 258.70,96.70 259.05,96.46 259.39,96.22 259.74,95.97 260.08,95.72 260.43,95.47 260.77,95.21 261.12,94.95 261.47,94.69 261.81,94.42 262.16,94.15 262.50,93.87 262.85,93.59 263.19,93.30 263.54,93.01 263.89,92.72 264.23,92.42 264.58,92.11 264.92,91.81 265.27,91.49 265.61,91.17 265.96,90.85 266.31,90.52 266.65,90.18 267.00,89.84 267.34,89.49 267.69,89.13 268.03,88.77 268.38,88.40 268.73,88.03 269.07,87.64 269.42,87.25 269.76,86.86 270.11,86.45 270.45,86.04 270.80,85.61 271.15,85.18 271.49,84.74 271.84,84.29 272.18,83.83 272.53,83.36 272.87,82.87 273.22,82.38 273.57,81.87 273.91,81.35 274.26,80.82 274.60,80.27 274.95,79.71 275.29,79.14 275.64,78.54 275.99,77.93 276.33,77.31 276.68,76.66 277.02,75.99 277.37,75.30 277.71,74.59 278.06,73.86 278.41,73.10 278.75,72.31 279.10,71.49 279.44,70.64 279.79,69.75 280.13,68.83 280.48,67.87 280.83,66.86 281.17,65.81 281.52,64.71 281.86,63.55 282.21,62.33 282.55,61.04 282.90,59.69 283.25,58.25 283.59,56.74 283.94,55.14 284.28,53.46 284.63,51.70 284.97,49.89 285.32,48.07 285.67,46.32 286.01,44.75 286.36,43.54 286.70,42.85 287.05,42.80 287.39,43.38 287.74,44.45 288.09,45.84 288.43,47.39 288.78,48.99 289.12,50.56 289.47,52.07 289.81,53.51 290.16,54.86 290.51,56.13 290.85,57.31 291.20,58.42 291.54,59.46 291.89,60.43 292.23,61.35 292.58,62.20 292.93,63.01 293.27,63.76 293.62,64.47 293.96,65.14 294.31,65.78 294.65,66.37 295.00,66.93 295.35,67.47 295.69,67.97 296.04,68.44 296.38,68.89 296.73,69.31 297.07,69.71 297.42,70.08 297.77,70.44 298.11,70.77 298.46,71.08 298.80,71.37 299.15,71.65 299.49,71.90 299.84,72.14 300.19,72.36 300.53,72.57 300.88,72.75 301.22,72.92 301.57,73.08 301.91,73.22 302.26,73.34 302.61,73.45 302.95,73.55 303.30,73.63 303.64,73.69 303.99,73.74 304.33,73.78 304.68,73.80 305.03,73.81 305.37,73.80 305.72,73.77 306.06,73.73 306.41,73.68 306.75,73.61 307.10,73.53 307.45,73.42 307.79,73.31 308.14,73.17 308.48,73.02 308.83,72.85 309.17,72.67 309.52,72.46 309.87,72.24 310.21,72.00 310.56,71.73 310.90,71.45 311.25,71.14 311.59,70.81 311.94,70.45 312.29,70.07 312.63,69.67 312.98,69.23 313.32,68.77 313.67,68.27 314.01,67.74 314.36,67.18 314.71,66.57 315.05,65.93 315.40,65.24 315.74,64.50 316.09,63.72 316.43,62.88 316.78,61.98 317.13,61.02 317.47,60.00 317.82,58.91 318.16,57.74 318.51,56.50 318.85,55.20 319.20,53.84 319.55,52.45 319.89,51.07 320.24,49.78 320.58,48.68 320.93,47.90 321.27,47.57 321.62,47.77 321.97,48.49 322.31,49.64 322.66,51.09 323.00,52.72 323.35,54.42 323.69,56.13 324.04,57.81 324.39,59.42 324.73,60.97 325.08,62.45 325.42,63.86 325.77,65.20 326.11,66.47 326.46,67.69 326.81,68.85 327.15,69.95 327.50,71.01 327.84,72.02 328.19,72.99 328.53,73.92 328.88,74.82 329.23,75.68 329.57,76.51 329.92,77.30 330.26,78.08 330.61,78.82 330.95,79.54 331.30,80.24 331.65,80.91 331.99,81.57 332.34,82.20 332.68,82.82 333.03,83.42 333.37,84.00 333.72,84.56 334.07,85.11 334.41,85.65 334.76,86.17 335.10,86.68 335.45,87.17 335.79,87.65 336.14,88.12 336.49,88.58 336.83,89.03 337.18,89.46 337.52,89.89 337.87,90.30 338.21,90.71 338.56,91.10 338.91,91.49 339.25,91.87 339.60,92.24 339.94,92.60 340.29,92.96 340.63,93.30 340.98,93.64 341.33,93.97 341.67,94.29 342.02,94.61 342.36,94.92 342.71,95.22 343.05,95.52 343.40,95.81 343.75,96.10 344.09,96.37 344.44,96.65 344.78,96.91 345.13,97.17 345.47,97.43 345.82,97.68 346.17,97.92 346.51,98.16 346.86,98.40 347.20,98.63 347.55,98.85 347.89,99.07 348.24,99.29 348.59,99.50 348.93,99.70 349.28,99.91 349.62,100.10 349.97,100.30 350.31,100.49 350.66,100.67 351.01,100.85 351.35,101.03 351.70,101.20 352.04,101.37 352.39,101.54 352.73,101.70 353.08,101.86 353.43,102.02 353.77,102.17 354.12,102.32 354.46,102.46 354.81,102.60 355.15,102.74 355.50,102.88 355.85,103.01 356.19,103.14 356.54,103.26 356.88,103.39 357.23,103.51 357.57,103.62 357.92,103.74 358.27,103.85 358.61,103.96 358.96,104.07 359.30,104.17 359.65,104.27 359.99,104.37 360.34,104.46 360.69,104.56 361.03,104.65 361.38,104.74 361.72,104.82 362.07,104.91 362.41,104.99 362.76,105.07 363.11,105.14 363.45,105.22 363.80,105.29 364.14,105.36 364.49,105.43 364.83,105.49 365.18,105.56 365.53,105.62 365.87,105.68 366.22,105.74 366.56,105.79 366.91,105.85 367.25,105.90 367.60,105.95 367.95,106.00 368.29,106.04 368.64,106.09 368.98,106.13 369.33,106.17 369.67,106.21 370.02,106.25 370.37,106.28 370.71,106.32 371.06,106.35 371.40,106.38 371.75,106.41 372.09,106.43 372.44,106.46 372.79,106.48 373.13,106.51 373.48,106.53 373.82,106.55 374.17,106.57 374.51,106.58 374.86,106.60 375.21,106.61 375.55,106.62 375.90,106.63 376.24,106.64 376.59,106.65 376.93,106.66 377.28,106.66 377.63,106.67 377.97,106.67 378.32,106.67 378.66,106.67 379.01,106.67 379.35,106.67 379.70,106.67 380.05,106.66 380.39,106.66 380.74,106.65 381.08,106.64 381.43,106.63 381.77,106.62 382.12,106.61 382.47,106.60 382.81,106.58 383.16,106.57 383.50,106.55 383.85,106.53 384.19,106.51 384.54,106.49 384.89,106.47 385.23,106.45 385.58,106.43 385.92,106.41 386.27,106.38 386.61,106.36 386.96,106.33 387.31,106.30 387.65,106.27 388.00,106.24 388.34,106.21 388.69,106.18 389.03,106.15 389.38,106.11 389.73,106.08 390.07,106.04 390.42,106.01 390.76,105.97 391.11,105.93 391.45,105.89 391.80,105.85 392.15,105.81 392.49,105.77 392.84,105.73 393.18,105.69 393.53,105.64 393.87,105.60 394.22,105.55 394.57,105.50 394.91,105.46 395.26,105.41 395.60,105.36 395.95,105.31 396.29,105.26 396.64,105.21 396.99,105.15 397.33,105.10 397.68,105.05 398.02,104.99 398.37,104.94 398.71,104.88 399.06,104.82 399.41,104.77 399.75,104.71 400.10,104.65 400.44,104.59 400.79,104.53 401.13,104.46 401.48,104.40 401.83,104.34 402.17,104.27 402.52,104.21 402.86,104.14 403.21,104.08 403.55,104.01 403.90,103.94 404.25,103.88 404.59,103.81 404.94,103.74 405.28,103.67 405.63,103.60 405.97,103.52 406.32,103.45 406.67,103.38 407.01,103.30 407.36,103.23 407.70,103.15 408.05,103.08 408.39,103.00 408.74,102.92 409.09,102.84 409.43,102.76 409.78,102.68 410.12,102.60 410.47,102.52 410.81,102.44 411.16,102.36 411.51,102.28 411.85,102.19 412.20,102.11 412.54,102.02 412.89,101.94 413.23,101.85 413.58,101.76 413.93,101.67 414.27,101.59 414.62,101.50 414.96,101.41 415.31,101.31 415.65,101.22 416.00,101.13 416.35,101.04 416.69,100.94 417.04,100.85 417.38,100.75 417.73,100.66 418.07,100.56 418.42,100.46 418.77,100.37 419.11,100.27 419.46,100.17 419.80,100.07 420.15,99.97 420.49,99.87 420.84,99.76 421.19,99.66 421.53,99.56 421.88,99.45 422.22,99.35 422.57,99.24 422.91,99.13 423.26,99.03 423.61,98.92 423.95,98.81 424.30,98.70 424.64,98.59 424.99,98.48 425.33,98.37 425.68,98.25 426.03,98.14 426.37,98.03 426.72,97.91 427.06,97.79 427.41,97.68 427.75,97.56 428.10,97.44 428.45,97.32 428.79,97.20 429.14,97.08 429.48,96.96 429.83,96.84 430.17,96.71 430.52,96.59 430.87,96.47 431.21,96.34 431.56,96.21 431.90,96.09 432.25,95.96 432.59,95.83 432.94,95.70 433.29,95.57 433.63,95.43 433.98,95.30 434.32,95.17 434.67,95.03 435.01,94.90 435.36,94.76 435.71,94.62 436.05,94.48 436.40,94.34 436.74,94.20 437.09,94.06 437.43,93.92 437.78,93.78 438.13,93.63 438.47,93.49 438.82,93.34 439.16,93.19 439.51,93.04 439.85,92.89 440.20,92.74 440.55,92.59 440.89,92.44 441.24,92.28 441.58,92.13 441.93,91.97 442.27,91.81 442.62,91.65 442.97,91.49 443.31,91.33 443.66,91.17 444.00,91.01 444.35,90.84 444.69,90.67 445.04,90.51 445.39,90.34 445.73,90.17 446.08,90.00 446.42,89.82 446.77,89.65 447.11,89.47 447.46,89.29 447.81,89.12 448.15,88.94 448.50,88.75 448.84,88.57 449.19,88.39 449.53,88.20 449.88,88.01 450.23,87.82 450.57,87.63 450.92,87.44 451.26,87.24 451.61,87.05 451.95,86.85 452.30,86.65 452.65,86.45 452.99,86.25 453.34,86.04 453.68,85.83 454.03,85.62 454.37,85.41 454.72,85.20 455.07,84.99 455.41,84.77 455.76,84.55 456.10,84.33 456.45,84.10 456.79,83.88 457.14,83.65 457.49,83.42 457.83,83.19 458.18,82.95 458.52,82.71 458.87,82.47 459.21,82.23 459.56,81.99 459.91,81.74 460.25,81.49 460.60,81.23 460.94,80.98 461.29,80.72 461.63,80.45 461.98,80.19 462.33,79.92 462.67,79.65 463.02,79.37 463.36,79.09 463.71,78.81 464.05,78.52 464.40,78.23 464.75,77.94 465.09,77.64 465.44,77.34 465.78,77.04 466.13,76.73 466.47,76.41 466.82,76.09 467.17,75.77 467.51,75.44 467.86,75.11 468.20,74.77 468.55,74.43 468.89,74.08 469.24,73.72 469.59,73.36 469.93,73.00 470.28,72.63 470.62,72.25 470.97,71.86 471.31,71.47 471.66,71.07 472.01,70.66 472.35,70.25 472.70,69.83 473.04,69.39 473.39,68.96 473.73,68.51 474.08,68.05 474.43,67.58 474.77,67.10 475.12,66.61 475.46,66.11 475.81,65.60 476.15,65.08 476.50,64.54 476.85,63.99 477.19,63.43 477.54,62.85 477.88,62.25 478.23,61.64 478.57,61.01 478.92,60.37 479.27,59.70 479.61,59.01 479.96,58.31 480.30,57.58 480.65,56.82 480.99,56.04 481.34,55.23 481.69,54.40 482.03,53.53 482.38,52.63 482.72,51.70 483.07,50.74 483.41,49.75 483.76,48.72 484.11,47.65 484.45,46.56 484.80,45.44 485.14,44.30 485.49,43.15 485.83,42.02 486.18,40.91 486.53,39.87 486.87,38.94 487.22,38.15 487.56,37.57 487.91,37.22 488.25,37.13 488.60,37.32 488.95,37.75 489.29,38.39 489.64,39.20 489.98,40.13 490.33,41.13 490.67,42.17 491.02,43.22 491.37,44.28 491.71,45.32 492.06,46.33 492.40,47.31 492.75,48.26 493.09,49.18 493.44,50.06 493.79,50.91 494.13,51.73 494.48,52.51 494.82,53.27 495.17,54.00 495.51,54.70 495.86,55.37 496.21,56.02 496.55,56.64 496.90,57.25 497.24,57.83 497.59,58.39 497.93,58.94 498.28,59.47 498.63,59.98 498.97,60.47 499.32,60.95 499.66,61.41 500.01,61.87 500.35,62.30 500.70,62.73 501.05,63.14 501.39,63.54 501.74,63.94 502.08,64.32 502.43,64.69 502.77,65.05 503.12,65.40 503.47,65.75 503.81,66.08 504.16,66.41 504.50,66.73 504.85,67.04 505.19,67.34 505.54,67.64 505.89,67.93 506.23,68.22 506.58,68.49 506.92,68.76 507.27,69.03 507.61,69.29 507.96,69.55 508.31,69.79 508.65,70.04 509.00,70.28 509.34,70.51 509.69,70.74 510.03,70.97 510.38,71.19 510.73,71.40 511.07,71.62 511.42,71.82 511.76,72.03 512.11,72.23 512.45,72.42 512.80,72.62 513.15,72.80 513.49,72.99 513.84,73.17 514.18,73.35 514.53,73.53 514.87,73.70 515.22,73.87 515.57,74.03 515.91,74.20 516.26,74.36 516.60,74.51 516.95,74.67 517.29,74.82 517.64,74.97 517.99,75.11 518.33,75.26 518.68,75.40 519.02,75.54 519.37,75.67 519.71,75.81 520.06,75.94 520.41,76.07 520.75,76.20 521.10,76.32 521.44,76.44 521.79,76.56 522.13,76.68 522.48,76.80 522.83,76.91 523.17,77.03 523.52,77.14 523.86,77.25 524.21,77.35 524.55,77.46 524.90,77.56 525.25,77.66 525.59,77.76 525.94,77.86 526.28,77.95 526.63,78.05 526.97,78.14 527.32,78.23 527.67,78.32 528.01,78.41 528.36,78.49 528.70,78.58 529.05,78.66 529.39,78.74 529.74,78.82 530.09,78.90 530.43,78.98 530.78,79.05 531.12,79.13 531.47,79.20 531.81,79.27 532.16,79.34 532.51,79.41 532.85,79.48 533.20,79.54 533.54,79.61 533.89,79.67 534.23,79.73 534.58,79.79 534.93,79.85 535.27,79.91 535.62,79.97 535.96,80.02 536.31,80.08 536.65,80.13 537.00,80.18"/>
<polyline fill="none" stroke="#000" stroke-width="2" stroke-linejoin="round" points="53.00,180.50 53.35,180.39 53.69,180.27 54.04,180.15 54.38,180.02 54.73,179.88 55.07,179.74 55.42,179.59 55.77,179.43 56.11,179.27 56.46,179.10 56.80,178.92 57.15,178.74 57.49,178.55 57.84,178.35 58.19,178.15 58.53,177.94 58.88,177.73 59.22,177.51 59.57,177.29 59.91,177.06 60.26,176.83 60.61,176.59 60.95,176.34 61.30,176.10 61.64,175.84 61.99,175.59 62.33,175.33 62.68,175.06 63.03,174.80 63.37,174.53 63.72,174.25 64.06,173.97 64.41,173.69 64.75,173.41 65.10,173.12 65.45,172.83 65.79,172.54 66.14,172.25 66.48,171.95 66.83,171.65 67.17,171.35 67.52,171.04 67.87,170.73 68.21,170.43 68.56,170.11 68.90,169.80 69.25,169.49 69.59,169.17 69.94,168.85 70.29,168.53 70.63,168.21 70.98,167.88 71.32,167.55 71.67,167.23 72.01,166.90 72.36,166.56 72.71,166.23 73.05,165.89 73.40,165.55 73.74,165.21 74.09,164.87 74.43,164.53 74.78,164.18 75.13,163.83 75.47,163.48 75.82,163.13 76.16,162.78 76.51,162.42 76.85,162.06 77.20,161.70 77.55,161.34 77.89,160.97 78.24,160.60 78.58,160.23 78.93,159.86 79.27,159.48 79.62,159.10 79.97,158.72 80.31,158.34 80.66,157.95 81.00,157.56 81.35,157.17 81.69,156.77 82.04,156.37 82.39,155.96 82.73,155.55 83.08,155.14 83.42,154.73 83.77,154.31 84.11,153.88 84.46,153.45 84.81,153.02 85.15,152.58 85.50,152.14 85.84,151.69 86.19,151.24 86.53,150.78 86.88,150.31 87.23,149.84 87.57,149.36 87.92,148.88 88.26,148.39 88.61,147.89 88.95,147.39 89.30,146.87 89.65,146.35 89.99,145.82 90.34,145.29 90.68,144.74 91.03,144.18 91.37,143.61 91.72,143.03 92.07,142.44 92.41,141.84 92.76,141.22 93.10,140.59 93.45,139.95 93.79,139.29 94.14,138.61 94.49,137.92 94.83,137.21 95.18,136.48 95.52,135.73 95.87,134.95 96.21,134.15 96.56,133.33 96.91,132.47 97.25,131.59 97.60,130.67 97.94,129.72 98.29,128.72 98.63,127.68 98.98,126.60 99.33,125.46 99.67,124.26 100.02,122.99 100.36,121.64 100.71,120.21 101.05,118.69 101.40,117.05 101.75,115.28 102.09,113.35 102.44,111.26 102.78,108.95 103.13,106.40 103.47,103.60 103.82,100.53 104.17,97.31 104.51,94.29 104.86,92.26 105.20,92.13 105.55,93.90 105.89,96.69 106.24,99.69 106.59,102.54 106.93,105.13 107.28,107.46 107.62,109.56 107.97,111.44 108.31,113.14 108.66,114.70 109.01,116.12 109.35,117.43 109.70,118.64 110.04,119.76 110.39,120.81 110.73,121.79 111.08,122.71 111.43,123.58 111.77,124.40 112.12,125.17 112.46,125.90 112.81,126.60 113.15,127.26 113.50,127.89 113.85,128.50 114.19,129.07 114.54,129.63 114.88,130.16 115.23,130.66 115.57,131.15 115.92,131.62 116.27,132.07 116.61,132.51 116.96,132.93 117.30,133.34 117.65,133.73 117.99,134.11 118.34,134.47 118.69,134.83 119.03,135.17 119.38,135.50 119.72,135.82 120.07,136.13 120.41,136.44 120.76,136.73 121.11,137.02 121.45,137.30 121.80,137.57 122.14,137.83 122.49,138.08 122.83,138.33 123.18,138.57 123.53,138.81 123.87,139.04 124.22,139.26 124.56,139.48 124.91,139.69 125.25,139.90 125.60,140.10 125.95,140.30 126.29,140.49 126.64,140.68 126.98,140.86 127.33,141.04 127.67,141.21 128.02,141.38 128.37,141.55 128.71,141.71 129.06,141.87 129.40,142.03 129.75,142.18 130.09,142.32 130.44,142.47 130.79,142.61 131.13,142.75 131.48,142.88 131.82,143.02 132.17,143.15 132.51,143.27 132.86,143.40 133.21,143.52 133.55,143.64 133.90,143.75 134.24,143.86 134.59,143.97 134.93,144.08 135.28,144.19 135.63,144.29 135.97,144.39 136.32,144.49 136.66,144.59 137.01,144.69 137.35,144.78 137.70,144.87 138.05,144.96 138.39,145.04 138.74,145.13 139.08,145.21 139.43,145.29 139.77,145.37 140.12,145.45 140.47,145.53 140.81,145.60 141.16,145.68 141.50,145.75 141.85,145.82 142.19,145.88 142.54,145.95 142.89,146.02 143.23,146.08 143.58,146.14 143.92,146.20 144.27,146.26 144.61,146.32 144.96,146.37 145.31,146.43 145.65,146.48 146.00,146.54 146.34,146.59 146.69,146.64 147.03,146.68 147.38,146.73 147.73,146.78 148.07,146.82 148.42,146.87 148.76,146.91 149.11,146.95 149.45,146.99 149.80,147.03 150.15,147.07 150.49,147.11 150.84,147.14 151.18,147.18 151.53,147.21 151.87,147.24 152.22,147.28 152.57,147.31 152.91,147.34 153.26,147.37 153.60,147.40 153.95,147.42 154.29,147.45 154.64,147.47 154.99,147.50 155.33,147.52 155.68,147.54 156.02,147.57 156.37,147.59 156.71,147.61 157.06,147.63 157.41,147.64 157.75,147.66 158.10,147.68 158.44,147.70 158.79,147.71 159.13,147.72 159.48,147.74 159.83,147.75 160.17,147.76 160.52,147.77 160.86,147.78 161.21,147.79 161.55,147.80 161.90,147.81 162.25,147.82 162.59,147.83 162.94,147.83 163.28,147.84 163.63,147.84 163.97,147.85 164.32,147.85 164.67,147.85 165.01,147.85 165.36,147.86 165.70,147.86 166.05,147.86 166.39,147.86 166.74,147.85 167.09,147.85 167.43,147.85 167.78,147.85 168.12,147.84 168.47,147.84 168.81,147.83 169.16,147.83 169.51,147.82 169.85,147.81 170.20,147.81 170.54,147.80 170.89,147.79 171.23,147.78 171.58,147.77 171.93,147.76 172.27,147.75 172.62,147.74 172.96,147.72 173.31,147.71 173.65,147.70 174.00,147.68 174.35,147.67 174.69,147.65 175.04,147.64 175.38,147.62 175.73,147.60 176.07,147.59 176.42,147.57 176.77,147.55 177.11,147.53 177.46,147.51 177.80,147.49 178.15,147.47 178.49,147.45 178.84,147.43 179.19,147.41 179.53,147.38 179.88,147.36 180.22,147.34 180.57,147.31 180.91,147.29 181.26,147.26 181.61,147.24 181.95,147.21 182.30,147.18 182.64,147.16 182.99,147.13 183.33,147.10 183.68,147.07 184.03,147.04 184.37,147.01 184.72,146.98 185.06,146.95 185.41,146.92 185.75,146.89 186.10,146.85 186.45,146.82 186.79,146.79 187.14,146.75 187.48,146.72 187.83,146.68 188.17,146.65 188.52,146.61 188.87,146.57 189.21,146.54 189.56,146.50 189.90,146.46 190.25,146.42 190.59,146.38 190.94,146.35 191.29,146.31 191.63,146.26 191.98,146.22 192.32,146.18 192.67,146.14 193.01,146.10 193.36,146.05 193.71,146.01 194.05,145.97 194.40,145.92 194.74,145.88 195.09,145.83 195.43,145.79 195.78,145.74 196.13,145.69 196.47,145.64 196.82,145.60 197.16,145.55 197.51,145.50 197.85,145.45 198.20,145.40 198.55,145.35 198.89,145.30 199.24,145.25 199.58,145.19 199.93,145.14 200.27,145.09 200.62,145.03 200.97,144.98 201.31,144.92 201.66,144.87 202.00,144.81 202.35,144.76 202.69,144.70 203.04,144.64 203.39,144.58 203.73,144.53 204.08,144.47 204.42,144.41 204.77,144.35 205.11,144.29 205.46,144.23 205.81,144.16 206.15,144.10 206.50,144.04 206.84,143.98 207.19,143.91 207.53,143.85 207.88,143.78 208.23,143.72 208.57,143.65 208.92,143.58 209.26,143.52 209.61,143.45 209.95,143.38 210.30,143.31 210.65,143.24 210.99,143.17 211.34,143.10 211.68,143.03 212.03,142.96 212.37,142.88 212.72,142.81 213.07,142.74 213.41,142.66 213.76,142.59 214.10,142.51 214.45,142.43 214.79,142.36 215.14,142.28 215.49,142.20 215.83,142.12 216.18,142.04 216.52,141.96 216.87,141.88 217.21,141.80 217.56,141.72 217.91,141.64 218.25,141.55 218.60,141.47 218.94,141.38 219.29,141.30 219.63,141.21 219.98,141.12 220.33,141.04 220.67,140.95 221.02,140.86 221.36,140.77 221.71,140.68 222.05,140.59 222.40,140.49 222.75,140.40 223.09,140.31 223.44,140.21 223.78,140.12 224.13,140.02 224.47,139.93 224.82,139.83 225.17,139.73 225.51,139.63 225.86,139.53 226.20,139.43 226.55,139.33 226.89,139.23 227.24,139.12 227.59,139.02 227.93,138.91 228.28,138.81 228.62,138.70 228.97,138.59 229.31,138.48 229.66,138.37 230.01,138.26 230.35,138.15 230.70,138.04 231.04,137.93 231.39,137.81 231.73,137.70 232.08,137.58 232.43,137.47 232.77,137.35 233.12,137.23 233.46,137.11 233.81,136.99 234.15,136.86 234.50,136.74 234.85,136.62 235.19,136.49 235.54,136.36 235.88,136.24 236.23,136.11 236.57,135.98 236.92,135.85 237.27,135.71 237.61,135.58 237.96,135.45 238.30,135.31 238.65,135.17 238.99,135.03 239.34,134.89 239.69,134.75 240.03,134.61 240.38,134.47 240.72,134.32 241.07,134.18 241.41,134.03 241.76,133.88 242.11,133.73 242.45,133.58 242.80,133.42 243.14,133.27 243.49,133.11 243.83,132.96 244.18,132.80 244.53,132.63 244.87,132.47 245.22,132.31 245.56,132.14 245.91,131.97 246.25,131.81 246.60,131.63 246.95,131.46 247.29,131.29 247.64,131.11 247.98,130.93 248.33,130.75 248.67,130.57 249.02,130.39 249.37,130.20 249.71,130.01 250.06,129.83 250.40,129.63 250.75,129.44 251.09,129.24 251.44,129.05 251.79,128.84 252.13,128.64 252.48,128.44 252.82,128.23 253.17,128.02 253.51,127.81 253.86,127.59 254.21,127.38 254.55,127.16 254.90,126.93 255.24,126.71 255.59,126.48 255.93,126.25 256.28,126.02 256.63,125.78 256.97,125.54 257.32,125.30 257.66,125.05 258.01,124.81 258.35,124.55 258.70,124.30 259.05,124.04 259.39,123.78 259.74,123.51 260.08,123.24 260.43,122.97 260.77,122.69 261.12,122.41 261.47,122.13 261.81,121.84 262.16,121.54 262.50,121.25 262.85,120.95 263.19,120.64 263.54,120.33 263.89,120.01 264.23,119.69 264.58,119.36 264.92,119.03 265.27,118.70 265.61,118.35 265.96,118.00 266.31,117.65 266.65,117.29 267.00,116.92 267.34,116.55 267.69,116.17 268.03,115.78 268.38,115.39 268.73,114.99 269.07,114.58 269.42,114.16 269.76,113.74 270.11,113.30 270.45,112.86 270.80,112.41 271.15,111.94 271.49,111.47 271.84,110.99 272.18,110.50 272.53,109.99 272.87,109.47 273.22,108.94 273.57,108.40 273.91,107.84 274.26,107.27 274.60,106.69 274.95,106.08 275.29,105.46 275.64,104.83 275.99,104.17 276.33,103.49 276.68,102.80 277.02,102.08 277.37,101.33 277.71,100.56 278.06,99.77 278.41,98.94 278.75,98.08 279.10,97.19 279.44,96.26 279.79,95.30 280.13,94.29 280.48,93.24 280.83,92.13 281.17,90.98 281.52,89.76 281.86,88.49 282.21,87.15 282.55,85.74 282.90,84.25 283.25,82.70 283.59,81.08 283.94,79.40 284.28,77.69 284.63,76.00 284.97,74.40 285.32,73.01 285.67,71.97 286.01,71.40 286.36,71.38 286.70,71.89 287.05,72.84 287.39,74.08 287.74,75.47 288.09,76.92 288.43,78.37 288.78,79.78 289.12,81.13 289.47,82.41 289.81,83.61 290.16,84.74 290.51,85.80 290.85,86.80 291.20,87.73 291.54,88.61 291.89,89.43 292.23,90.21 292.58,90.93 292.93,91.62 293.27,92.27 293.62,92.88 293.96,93.45 294.31,94.00 294.65,94.51 295.00,94.99 295.35,95.44 295.69,95.87 296.04,96.28 296.38,96.66 296.73,97.02 297.07,97.35 297.42,97.67 297.77,97.97 298.11,98.24 298.46,98.50 298.80,98.74 299.15,98.96 299.49,99.17 299.84,99.36 300.19,99.53 300.53,99.69 300.88,99.83 301.22,99.95 301.57,100.06 301.91,100.16 302.26,100.24 302.61,100.30 302.95,100.35 303.30,100.38 303.64,100.40 303.99,100.41 304.33,100.40 304.68,100.38 305.03,100.34 305.37,100.28 305.72,100.21 306.06,100.13 306.41,100.03 306.75,99.91 307.10,99.77 307.45,99.62 307.79,99.45 308.14,99.27 308.48,99.06 308.83,98.84 309.17,98.60 309.52,98.34 309.87,98.05 310.21,97.75 310.56,97.42 310.90,97.07 311.25,96.70 311.59,96.29 311.94,95.87 312.29,95.41 312.63,94.92 312.98,94.40 313.32,93.85 313.67,93.26 314.01,92.63 314.36,91.96 314.71,91.25 315.05,90.49 315.40,89.68 315.74,88.82 316.09,87.90 316.43,86.93 316.78,85.89 317.13,84.80 317.47,83.65 317.82,82.45 318.16,81.21 318.51,79.96 318.85,78.74 319.20,77.61 319.55,76.65 319.89,75.96 320.24,75.64 320.58,75.76 320.93,76.31 321.27,77.25 321.62,78.48 321.97,79.89 322.31,81.41 322.66,82.97 323.00,84.52 323.35,86.04 323.69,87.51 324.04,88.93 324.39,90.28 324.73,91.58 325.08,92.82 325.42,94.00 325.77,95.14 326.11,96.22 326.46,97.26 326.81,98.26 327.15,99.21 327.50,100.13 327.84,101.01 328.19,101.86 328.53,102.68 328.88,103.47 329.23,104.23 329.57,104.97 329.92,105.68 330.26,106.37 330.61,107.04 330.95,107.68 331.30,108.31 331.65,108.92 331.99,109.51 332.34,110.09 332.68,110.65 333.03,111.19 333.37,111.72 333.72,112.23 334.07,112.73 334.41,113.22 334.76,113.70 335.10,114.16 335.45,114.61 335.79,115.05 336.14,115.48 336.49,115.90 336.83,116.31 337.18,116.71 337.52,117.10 337.87,117.49 338.21,117.86 338.56,118.22 338.91,118.58 339.25,118.93 339.60,119.27 339.94,119.60 340.29,119.92 340.63,120.24 340.98,120.55 341.33,120.85 341.67,121.15 342.02,121.44 342.36,121.73 342.71,122.00 343.05,122.28 343.40,122.54 343.75,122.80 344.09,123.06 344.44,123.31 344.78,123.55 345.13,123.79 345.47,124.02 345.82,124.25 346.17,124.47 346.51,124.69 346.86,124.90 347.20,125.11 347.55,125.31 347.89,125.51 348.24,125.71 348.59,125.90 348.93,126.09 349.28,126.27 349.62,126.45 349.97,126.62 350.31,126.79 350.66,126.96 351.01,127.12 351.35,127.28 351.70,127.43 352.04,127.58 352.39,127.73 352.73,127.88 353.08,128.02 353.43,128.16 353.77,128.29 354.12,128.42 354.46,128.55 354.81,128.67 355.15,128.79 355.50,128.91 355.85,129.03 356.19,129.14 356.54,129.25 356.88,129.36 357.23,129.46 357.57,129.56 357.92,129.66 358.27,129.76 358.61,129.85 358.96,129.94 359.30,130.03 359.65,130.11 359.99,130.19 360.34,130.27 360.69,130.35 361.03,130.43 361.38,130.50 361.72,130.57 362.07,130.64 362.41,130.70 362.76,130.77 363.11,130.83 363.45,130.89 363.80,130.95 364.14,131.00 364.49,131.05 364.83,131.10 365.18,131.15 365.53,131.20 365.87,131.24 366.22,131.29 366.56,131.33 366.91,131.37 367.25,131.40 367.60,131.44 367.95,131.47 368.29,131.51 368.64,131.54 368.98,131.56 369.33,131.59 369.67,131.61 370.02,131.64 370.37,131.66 370.71,131.68 371.06,131.70 371.40,131.71 371.75,131.73 372.09,131.74 372.44,131.75 372.79,131.76 373.13,131.77 373.48,131.78 373.82,131.79 374.17,131.79 374.51,131.79 374.86,131.79 375.21,131.79 375.55,131.79 375.90,131.79 376.24,131.79 376.59,131.78 376.93,131.77 377.28,131.77 377.63,131.76 377.97,131.75 378.32,131.73 378.66,131.72 379.01,131.71 379.35,131.69 379.70,131.67 380.05,131.66 380.39,131.64 380.74,131.62 381.08,131.59 381.43,131.57 381.77,131.55 382.12,131.52 382.47,131.50 382.81,131.47 383.16,131.44 383.50,131.41 383.85,131.38 384.19,131.35 384.54,131.32 384.89,131.28 385.23,131.25 385.58,131.21 385.92,131.18 386.27,131.14 386.61,131.10 386.96,131.06 387.31,131.02 387.65,130.98 388.00,130.94 388.34,130.89 388.69,130.85 389.03,130.80 389.38,130.76 389.73,130.71 390.07,130.66 390.42,130.61 390.76,130.56 391.11,130.51 391.45,130.46 391.80,130.41 392.15,130.36 392.49,130.30 392.84,130.25 393.18,130.19 393.53,130.13 393.87,130.08 394.22,130.02 394.57,129.96 394.91,129.90 395.26,129.84 395.60,129.77 395.95,129.71 396.29,129.65 396.64,129.58 396.99,129.52 397.33,129.45 397.68,129.39 398.02,129.32 398.37,129.25 398.71,129.18 399.06,129.11 399.41,129.04 399.75,128.97 400.10,128.90 400.44,128.83 400.79,128.75 401.13,128.68 401.48,128.60 401.83,128.53 402.17,128.45 402.52,128.37 402.86,128.30 403.21,128.22 403.55,128.14 403.90,128.06 404.25,127.98 404.59,127.90 404.94,127.81 405.28,127.73 405.63,127.65 405.97,127.56 406.32,127.48 406.67,127.39 407.01,127.31 407.36,127.22 407.70,127.13 408.05,127.04 408.39,126.95 408.74,126.86 409.09,126.77 409.43,126.68 409.78,126.59 410.12,126.49 410.47,126.40 410.81,126.31 411.16,126.21 411.51,126.12 411.85,126.02 412.20,125.92 412.54,125.82 412.89,125.73 413.23,125.63 413.58,125.53 413.93,125.43 414.27,125.32 414.62,125.22 414.96,125.12 415.31,125.02 415.65,124.91 416.00,124.81 416.35,124.70 416.69,124.60 417.04,124.49 417.38,124.38 417.73,124.27 418.07,124.16 418.42,124.05 418.77,123.94 419.11,123.83 419.46,123.72 419.80,123.61 420.15,123.49 420.49,123.38 420.84,123.26 421.19,123.15 421.53,123.03 421.88,122.91 422.22,122.80 422.57,122.68 422.91,122.56 423.26,122.44 423.61,122.32 423.95,122.20 424.30,122.07 424.64,121.95 424.99,121.83 425.33,121.70 425.68,121.57 426.03,121.45 426.37,121.32 426.72,121.19 427.06,121.06 427.41,120.93 427.75,120.80 428.10,120.67 428.45,120.54 428.79,120.41 429.14,120.27 429.48,120.14 429.83,120.00 430.17,119.87 430.52,119.73 430.87,119.59 431.21,119.45 431.56,119.31 431.90,119.17 432.25,119.03 432.59,118.89 432.94,118.74 433.29,118.60 433.63,118.45 433.98,118.31 434.32,118.16 434.67,118.01 435.01,117.86 435.36,117.71 435.71,117.56 436.05,117.41 436.40,117.26 436.74,117.10 437.09,116.95 437.43,116.79 437.78,116.63 438.13,116.47 438.47,116.31 438.82,116.15 439.16,115.99 439.51,115.83 439.85,115.67 440.20,115.50 440.55,115.33 440.89,115.17 441.24,115.00 441.58,114.83 441.93,114.66 442.27,114.49 442.62,114.31 442.97,114.14 443.31,113.96 443.66,113.78 444.00,113.61 444.35,113.43 444.69,113.25 445.04,113.06 445.39,112.88 445.73,112.69 446.08,112.51 446.42,112.32 446.77,112.13 447.11,111.94 447.46,111.75 447.81,111.55 448.15,111.36 448.50,111.16 448.84,110.96 449.19,110.76 449.53,110.56 449.88,110.35 450.23,110.15 450.57,109.94 450.92,109.73 451.26,109.52 451.61,109.31 451.95,109.10 452.30,108.88 452.65,108.66 452.99,108.44 453.34,108.22 453.68,108.00 454.03,107.77 454.37,107.54 454.72,107.31 455.07,107.08 455.41,106.84 455.76,106.61 456.10,106.37 456.45,106.13 456.79,105.88 457.14,105.63 457.49,105.39 457.83,105.13 458.18,104.88 458.52,104.62 458.87,104.36 459.21,104.10 459.56,103.83 459.91,103.57 460.25,103.30 460.60,103.02 460.94,102.74 461.29,102.46 461.63,102.18 461.98,101.89 462.33,101.60 462.67,101.31 463.02,101.01 463.36,100.71 463.71,100.40 464.05,100.09 464.40,99.78 464.75,99.46 465.09,99.14 465.44,98.81 465.78,98.48 466.13,98.14 466.47,97.80 466.82,97.46 467.17,97.10 467.51,96.75 467.86,96.39 468.20,96.02 468.55,95.65 468.89,95.27 469.24,94.88 469.59,94.49 469.93,94.09 470.28,93.68 470.62,93.27 470.97,92.85 471.31,92.42 471.66,91.98 472.01,91.54 472.35,91.09 472.70,90.62 473.04,90.15 473.39,89.67 473.73,89.18 474.08,88.67 474.43,88.16 474.77,87.63 475.12,87.10 475.46,86.54 475.81,85.98 476.15,85.40 476.50,84.81 476.85,84.20 477.19,83.57 477.54,82.93 477.88,82.27 478.23,81.59 478.57,80.89 478.92,80.18 479.27,79.44 479.61,78.67 479.96,77.89 480.30,77.08 480.65,76.24 480.99,75.38 481.34,74.49 481.69,73.58 482.03,72.64 482.38,71.68 482.72,70.70 483.07,69.70 483.41,68.68 483.76,67.67 484.11,66.66 484.45,65.68 484.80,64.75 485.14,63.89 485.49,63.13 485.83,62.51 486.18,62.05 486.53,61.78 486.87,61.72 487.22,61.86 487.56,62.19 487.91,62.68 488.25,63.32 488.60,64.06 488.95,64.88 489.29,65.75 489.64,66.65 489.98,67.55 490.33,68.46 490.67,69.36 491.02,70.24 491.37,71.10 491.71,71.93 492.06,72.74 492.40,73.52 492.75,74.28 493.09,75.02 493.44,75.72 493.79,76.41 494.13,77.06 494.48,77.70 494.82,78.32 495.17,78.91 495.51,79.49 495.86,80.04 496.21,80.58 496.55,81.10 496.90,81.60 497.24,82.09 497.59,82.57 497.93,83.03 498.28,83.47 498.63,83.91 498.97,84.33 499.32,84.74 499.66,85.13 500.01,85.52 500.35,85.90 500.70,86.26 501.05,86.62 501.39,86.97 501.74,87.31 502.08,87.64 502.43,87.96 502.77,88.27 503.12,88.58 503.47,88.88 503.81,89.17 504.16,89.46 504.50,89.74 504.85,90.01 505.19,90.28 505.54,90.54 505.89,90.79 506.23,91.04 506.58,91.29 506.92,91.53 507.27,91.76 507.61,91.99 507.96,92.21 508.31,92.43 508.65,92.65 509.00,92.86 509.34,93.06 509.69,93.27 510.03,93.46 510.38,93.66 510.73,93.85 511.07,94.04 511.42,94.22 511.76,94.40 512.11,94.57 512.45,94.75 512.80,94.92 513.15,95.08 513.49,95.24 513.84,95.40 514.18,95.56 514.53,95.72 514.87,95.87 515.22,96.01 515.57,96.16 515.91,96.30 516.26,96.44 516.60,96.58 516.95,96.72 517.29,96.85 517.64,96.98 517.99,97.11 518.33,97.23 518.68,97.35 519.02,97.47 519.37,97.59 519.71,97.71 520.06,97.82 520.41,97.94 520.75,98.05 521.10,98.15 521.44,98.26 521.79,98.36 522.13,98.47 522.48,98.57 522.83,98.66 523.17,98.76 523.52,98.85 523.86,98.95 524.21,99.04 524.55,99.13 524.90,99.22 525.25,99.30 525.59,99.39 525.94,99.47 526.28,99.55 526.63,99.63 526.97,99.71 527.32,99.78 527.67,99.86 528.01,99.93 528.36,100.00 528.70,100.07 529.05,100.14 529.39,100.21 529.74,100.27 530.09,100.34 530.43,100.40 530.78,100.46 531.12,100.52 531.47,100.58 531.81,100.64 532.16,100.70 532.51,100.75 532.85,100.81 533.20,100.86 533.54,100.91 533.89,100.96 534.23,101.01 534.58,101.06 534.93,101.10 535.27,101.15 535.62,101.19 535.96,101.24 536.31,101.28 536.65,101.32 537.00,101.36"/>
<polyline fill="none" stroke="#000" stroke-width="2" stroke-linejoin="round" points="53.00,222.01 53.35,221.90 53.69,221.79 54.04,221.66 54.38,221.53 54.73,221.40 55.07,221.25 55.42,221.10 55.77,220.94 56.11,220.78 56.46,220.61 56.80,220.43 57.15,220.25 57.49,220.06 57.84,219.86 58.19,219.66 58.53,219.45 58.88,219.24 59.22,219.02 59.57,218.80 59.91,218.57 60.26,218.34 60.61,218.10 60.95,217.85 61.30,217.61 61.64,217.35 61.99,217.10 62.33,216.84 62.68,216.57 63.03,216.31 63.37,216.03 63.72,215.76 64.06,215.48 64.41,215.20 64.75,214.92 65.10,214.63 65.45,214.34 65.79,214.05 66.14,213.75 66.48,213.45 66.83,213.15 67.17,212.85 67.52,212.55 67.87,212.24 68.21,211.93 68.56,211.62 68.90,211.31 69.25,210.99 69.59,210.67 69.94,210.35 70.29,210.03 70.63,209.71 70.98,209.38 71.32,209.06 71.67,208.73 72.01,208.40 72.36,208.06 72.71,207.73 73.05,207.39 73.40,207.05 73.74,206.71 74.09,206.37 74.43,206.03 74.78,205.68 75.13,205.33 75.47,204.98 75.82,204.63 76.16,204.28 76.51,203.92 76.85,203.56 77.20,203.20 77.55,202.83 77.89,202.47 78.24,202.10 78.58,201.73 78.93,201.35 79.27,200.98 79.62,200.60 79.97,200.22 80.31,199.83 80.66,199.44 81.00,199.05 81.35,198.66 81.69,198.26 82.04,197.86 82.39,197.45 82.73,197.05 83.08,196.63 83.42,196.22 83.77,195.80 84.11,195.37 84.46,194.94 84.81,194.51 85.15,194.07 85.50,193.63 85.84,193.18 86.19,192.73 86.53,192.27 86.88,191.80 87.23,191.33 87.57,190.85 87.92,190.37 88.26,189.88 88.61,189.38 88.95,188.87 89.30,188.36 89.65,187.84 89.99,187.31 90.34,186.77 90.68,186.22 91.03,185.66 91.37,185.09 91.72,184.51 92.07,183.92 92.41,183.32 92.76,182.70 93.10,182.07 93.45,181.43 93.79,180.77 94.14,180.09 94.49,179.40 94.83,178.69 95.18,177.96 95.52,177.20 95.87,176.43 96.21,175.63 96.56,174.80 96.91,173.95 97.25,173.06 97.60,172.14 97.94,171.19 98.29,170.19 98.63,169.15 98.98,168.06 99.33,166.92 99.67,165.72 100.02,164.45 100.36,163.10 100.71,161.67 101.05,160.14 101.40,158.50 101.75,156.72 102.09,154.79 102.44,152.68 102.78,150.36 103.13,147.80 103.47,144.97 103.82,141.86 104.17,138.59 104.51,135.51 104.86,133.43 105.20,133.31 105.55,135.15 105.89,138.00 106.24,141.05 106.59,143.94 106.93,146.56 107.28,148.90 107.62,151.00 107.97,152.89 108.31,154.60 108.66,156.15 109.01,157.58 109.35,158.89 109.70,160.10 110.04,161.23 110.39,162.28 110.73,163.26 111.08,164.18 111.43,165.04 111.77,165.86 112.12,166.64 112.46,167.37 112.81,168.07 113.15,168.73 113.50,169.36 113.85,169.96 114.19,170.54 114.54,171.09 114.88,171.62 115.23,172.13 115.57,172.62 115.92,173.09 116.27,173.54 116.61,173.97 116.96,174.39 117.30,174.80 117.65,175.19 117.99,175.57 118.34,175.93 118.69,176.29 119.03,176.63 119.38,176.96 119.72,177.28 120.07,177.60 120.41,177.90 120.76,178.19 121.11,178.48 121.45,178.76 121.80,179.03 122.14,179.29 122.49,179.54 122.83,179.79 123.18,180.03 123.53,180.27 123.87,180.50 124.22,180.72 124.56,180.94 124.91,181.15 125.25,181.36 125.60,181.56 125.95,181.75 126.29,181.94 126.64,182.13 126.98,182.31 127.33,182.49 127.67,182.67 128.02,182.84 128.37,183.00 128.71,183.16 129.06,183.32 129.40,183.48 129.75,183.63 130.09,183.78 130.44,183.92 130.79,184.06 131.13,184.20 131.48,184.33 131.82,184.47 132.17,184.59 132.51,184.72 132.86,184.84 133.21,184.96 133.55,185.08 133.90,185.20 134.24,185.31 134.59,185.42 134.93,185.53 135.28,185.63 135.63,185.74 135.97,185.84 136.32,185.94 136.66,186.03 137.01,186.13 137.35,186.22 137.70,186.31 138.05,186.40 138.39,186.49 138.74,186.57 139.08,186.65 139.43,186.74 139.77,186.81 140.12,186.89 140.47,186.97 140.81,187.04 141.16,187.11 141.50,187.19 141.85,187.25 142.19,187.32 142.54,187.39 142.89,187.45 143.23,187.52 143.58,187.58 143.92,187.64 144.27,187.70 144.61,187.75 144.96,187.81 145.31,187.86 145.65,187.92 146.00,187.97 146.34,188.02 146.69,188.07 147.03,188.12 147.38,188.16 147.73,188.21 148.07,188.26 148.42,188.30 148.76,188.34 149.11,188.38 149.45,188.42 149.80,188.46 150.15,188.50 150.49,188.54 150.84,188.57 151.18,188.61 151.53,188.64 151.87,188.67 152.22,188.70 152.57,188.73 152.91,188.76 153.26,188.79 153.60,188.82 153.95,188.85 154.29,188.87 154.64,188.90 154.99,188.92 155.33,188.95 155.68,188.97 156.02,188.99 156.37,189.01 156.71,189.03 157.06,189.05 157.41,189.07 157.75,189.08 158.10,189.10 158.44,189.11 158.79,189.13 159.13,189.14 159.48,189.16 159.83,189.17 160.17,189.18 160.52,189.19 160.86,189.20 161.21,189.21 161.55,189.22 161.90,189.23 162.25,189.23 162.59,189.24 162.94,189.25 163.28,189.25 163.63,189.26 163.97,189.26 164.32,189.26 164.67,189.26 165.01,189.27 165.36,189.27 165.70,189.27 166.05,189.27 166.39,189.27 166.74,189.26 167.09,189.26 167.43,189.26 167.78,189.25 168.12,189.25 168.47,189.24 168.81,189.24 169.16,189.23 169.51,189.23 169.85,189.22 170.20,189.21 170.54,189.20 170.89,189.19 171.23,189.18 171.58,189.17 171.93,189.16 172.27,189.15 172.62,189.14 172.96,189.13 173.31,189.11 173.65,189.10 174.00,189.08 174.35,189.07 174.69,189.05 175.04,189.04 175.38,189.02 175.73,189.00 176.07,188.99 176.42,188.97 176.77,188.95 177.11,188.93 177.46,188.91 177.80,188.89 178.15,188.87 178.49,188.85 178.84,188.82 179.19,188.80 179.53,188.78 179.88,188.75 180.22,188.73 180.57,188.70 180.91,188.68 181.26,188.65 181.61,188.63 181.95,188.60 182.30,188.57 182.64,188.54 182.99,188.52 183.33,188.49 183.68,188.46 184.03,188.43 184.37,188.40 184.72,188.37 185.06,188.34 185.41,188.30 185.75,188.27 186.10,188.24 186.45,188.20 186.79,188.17 187.14,188.14 187.48,188.10 187.83,188.07 188.17,188.03 188.52,187.99 188.87,187.96 189.21,187.92 189.56,187.88 189.90,187.84 190.25,187.80 190.59,187.76 190.94,187.72 191.29,187.68 191.63,187.64 191.98,187.60 192.32,187.56 192.67,187.52 193.01,187.47 193.36,187.43 193.71,187.38 194.05,187.34 194.40,187.30 194.74,187.25 195.09,187.20 195.43,187.16 195.78,187.11 196.13,187.06 196.47,187.01 196.82,186.97 197.16,186.92 197.51,186.87 197.85,186.82 198.20,186.77 198.55,186.72 198.89,186.66 199.24,186.61 199.58,186.56 199.93,186.51 200.27,186.45 200.62,186.40 200.97,186.34 201.31,186.29 201.66,186.23 202.00,186.18 202.35,186.12 202.69,186.06 203.04,186.00 203.39,185.94 203.73,185.89 204.08,185.83 204.42,185.77 204.77,185.71 205.11,185.64 205.46,185.58 205.81,185.52 206.15,185.46 206.50,185.39 206.84,185.33 207.19,185.27 207.53,185.20 207.88,185.14 208.23,185.07 208.57,185.00 208.92,184.94 209.26,184.87 209.61,184.80 209.95,184.73 210.30,184.66 210.65,184.59 210.99,184.52 211.34,184.45 211.68,184.38 212.03,184.30 212.37,184.23 212.72,184.16 213.07,184.08 213.41,184.01 213.76,183.93 214.10,183.85 214.45,183.78 214.79,183.70 215.14,183.62 215.49,183.54 215.83,183.46 216.18,183.38 216.52,183.30 216.87,183.22 217.21,183.14 217.56,183.06 217.91,182.97 218.25,182.89 218.60,182.80 218.94,182.72 219.29,182.63 219.63,182.55 219.98,182.46 220.33,182.37 220.67,182.28 221.02,182.19 221.36,182.10 221.71,182.01 222.05,181.92 222.40,181.82 222.75,181.73 223.09,181.64 223.44,181.54 223.78,181.45 224.13,181.35 224.47,181.25 224.82,181.15 225.17,181.06 225.51,180.96 225.86,180.86 226.20,180.75 226.55,180.65 226.89,180.55 227.24,180.44 227.59,180.34 227.93,180.23 228.28,180.13 228.62,180.02 228.97,179.91 229.31,179.80 229.66,179.69 230.01,179.58 230.35,179.47 230.70,179.36 231.04,179.24 231.39,179.13 231.73,179.01 232.08,178.90 232.43,178.78 232.77,178.66 233.12,178.54 233.46,178.42 233.81,178.30 234.15,178.17 234.50,178.05 234.85,177.93 235.19,177.80 235.54,177.67 235.88,177.54 236.23,177.41 236.57,177.28 236.92,177.15 237.27,177.02 237.61,176.88 237.96,176.75 238.30,176.61 238.65,176.47 238.99,176.34 239.34,176.20 239.69,176.05 240.03,175.91 240.38,175.77 240.72,175.62 241.07,175.47 241.41,175.33 241.76,175.18 242.11,175.02 242.45,174.87 242.80,174.72 243.14,174.56 243.49,174.41 243.83,174.25 244.18,174.09 244.53,173.92 244.87,173.76 245.22,173.60 245.56,173.43 245.91,173.26 246.25,173.09 246.60,172.92 246.95,172.75 247.29,172.57 247.64,172.40 247.98,172.22 248.33,172.04 248.67,171.85 249.02,171.67 249.37,171.48 249.71,171.29 250.06,171.10 250.40,170.91 250.75,170.72 251.09,170.52 251.44,170.32 251.79,170.12 252.13,169.92 252.48,169.71 252.82,169.50 253.17,169.29 253.51,169.08 253.86,168.86 254.21,168.64 254.55,168.42 254.90,168.20 255.24,167.97 255.59,167.75 255.93,167.51 256.28,167.28 256.63,167.04 256.97,166.80 257.32,166.56 257.66,166.31 258.01,166.06 258.35,165.81 258.70,165.55 259.05,165.29 259.39,165.03 259.74,164.76 260.08,164.49 260.43,164.22 260.77,163.94 261.12,163.66 261.47,163.37 261.81,163.08 262.16,162.79 262.50,162.49 262.85,162.19 263.19,161.88 263.54,161.57 263.89,161.25 264.23,160.93 264.58,160.60 264.92,160.27 265.27,159.93 265.61,159.59 265.96,159.24 266.31,158.88 266.65,158.52 267.00,158.15 267.34,157.78 267.69,157.39 268.03,157.01 268.38,156.61 268.73,156.21 269.07,155.80 269.42,155.38 269.76,154.95 270.11,154.51 270.45,154.07 270.80,153.61 271.15,153.15 271.49,152.67 271.84,152.19 272.18,151.69 272.53,151.18 272.87,150.66 273.22,150.13 273.57,149.59 273.91,149.03 274.26,148.45 274.60,147.86 274.95,147.25 275.29,146.63 275.64,145.99 275.99,145.33 276.33,144.65 276.68,143.94 277.02,143.22 277.37,142.47 277.71,141.69 278.06,140.89 278.41,140.05 278.75,139.18 279.10,138.28 279.44,137.34 279.79,136.36 280.13,135.34 280.48,134.27 280.83,133.15 281.17,131.97 281.52,130.73 281.86,129.42 282.21,128.05 282.55,126.59 282.90,125.06 283.25,123.44 283.59,121.74 283.94,119.97 284.28,118.16 284.63,116.35 284.97,114.62 285.32,113.11 285.67,111.97 286.01,111.39 286.36,111.43 286.70,112.08 287.05,113.19 287.39,114.58 287.74,116.12 288.09,117.69 288.43,119.23 288.78,120.72 289.12,122.12 289.47,123.44 289.81,124.67 290.16,125.83 290.51,126.91 290.85,127.93 291.20,128.87 291.54,129.76 291.89,130.59 292.23,131.38 292.58,132.11 292.93,132.80 293.27,133.45 293.62,134.07 293.96,134.64 294.31,135.19 294.65,135.70 295.00,136.18 295.35,136.64 295.69,137.07 296.04,137.47 296.38,137.85 296.73,138.21 297.07,138.55 297.42,138.86 297.77,139.16 298.11,139.44 298.46,139.69 298.80,139.93 299.15,140.15 299.49,140.36 299.84,140.54 300.19,140.71 300.53,140.87 300.88,141.01 301.22,141.13 301.57,141.24 301.91,141.33 302.26,141.41 302.61,141.47 302.95,141.52 303.30,141.55 303.64,141.57 303.99,141.57 304.33,141.56 304.68,141.53 305.03,141.49 305.37,141.43 305.72,141.36 306.06,141.27 306.41,141.17 306.75,141.05 307.10,140.91 307.45,140.75 307.79,140.58 308.14,140.39 308.48,140.18 308.83,139.95 309.17,139.71 309.52,139.44 309.87,139.15 310.21,138.84 310.56,138.50 310.90,138.14 311.25,137.76 311.59,137.35 311.94,136.91 312.29,136.44 312.63,135.94 312.98,135.41 313.32,134.84 313.67,134.24 314.01,133.59 314.36,132.90 314.71,132.16 315.05,131.38 315.40,130.54 315.74,129.64 316.09,128.68 316.43,127.66 316.78,126.57 317.13,125.40 317.47,124.17 317.82,122.88 318.16,121.53 318.51,120.15 318.85,118.78 319.20,117.50 319.55,116.40 319.89,115.62 320.24,115.27 320.58,115.44 320.93,116.12 321.27,117.23 321.62,118.65 321.97,120.25 322.31,121.92 322.66,123.61 323.00,125.27 323.35,126.87 323.69,128.41 324.04,129.88 324.39,131.28 324.73,132.61 325.08,133.87 325.42,135.08 325.77,136.23 326.11,137.33 326.46,138.38 326.81,139.39 327.15,140.35 327.50,141.28 327.84,142.17 328.19,143.02 328.53,143.84 328.88,144.64 329.23,145.40 329.57,146.14 329.92,146.86 330.26,147.55 330.61,148.22 330.95,148.87 331.30,149.49 331.65,150.10 331.99,150.70 332.34,151.27 332.68,151.83 333.03,152.37 333.37,152.90 333.72,153.42 334.07,153.92 334.41,154.41 334.76,154.88 335.10,155.34 335.45,155.80 335.79,156.24 336.14,156.67 336.49,157.09 336.83,157.49 337.18,157.89 337.52,158.28 337.87,158.67 338.21,159.04 338.56,159.40 338.91,159.76 339.25,160.10 339.60,160.44 339.94,160.77 340.29,161.10 340.63,161.41 340.98,161.72 341.33,162.03 341.67,162.32 342.02,162.61 342.36,162.90 342.71,163.17 343.05,163.44 343.40,163.71 343.75,163.97 344.09,164.22 344.44,164.47 344.78,164.71 345.13,164.95 345.47,165.18 345.82,165.41 346.17,165.63 346.51,165.85 346.86,166.06 347.20,166.27 347.55,166.47 347.89,166.67 348.24,166.86 348.59,167.05 348.93,167.24 349.28,167.42 349.62,167.60 349.97,167.77 350.31,167.94 350.66,168.11 351.01,168.27 351.35,168.43 351.70,168.58 352.04,168.73 352.39,168.88 352.73,169.02 353.08,169.16 353.43,169.30 353.77,169.43 354.12,169.56 354.46,169.69 354.81,169.81 355.15,169.93 355.50,170.05 355.85,170.17 356.19,170.28 356.54,170.39 356.88,170.49 357.23,170.59 357.57,170.69 357.92,170.79 358.27,170.89 358.61,170.98 358.96,171.07 359.30,171.16 359.65,171.24 359.99,171.32 360.34,171.40 360.69,171.48 361.03,171.55 361.38,171.62 361.72,171.69 362.07,171.76 362.41,171.83 362.76,171.89 363.11,171.95 363.45,172.01 363.80,172.06 364.14,172.12 364.49,172.17 364.83,172.22 365.18,172.27 365.53,172.31 365.87,172.36 366.22,172.40 366.56,172.44 366.91,172.48 367.25,172.51 367.60,172.55 367.95,172.58 368.29,172.61 368.64,172.64 368.98,172.67 369.33,172.69 369.67,172.72 370.02,172.74 370.37,172.76 370.71,172.78 371.06,172.80 371.40,172.81 371.75,172.83 372.09,172.84 372.44,172.85 372.79,172.86 373.13,172.87 373.48,172.87 373.82,172.88 374.17,172.88 374.51,172.89 374.86,172.89 375.21,172.88 375.55,172.88 375.90,172.88 376.24,172.87 376.59,172.87 376.93,172.86 377.28,172.85 377.63,172.84 377.97,172.83 378.32,172.82 378.66,172.80 379.01,172.79 379.35,172.77 379.70,172.75 380.05,172.74 380.39,172.72 380.74,172.69 381.08,172.67 381.43,172.65 381.77,172.62 382.12,172.60 382.47,172.57 382.81,172.54 383.16,172.51 383.50,172.48 383.85,172.45 384.19,172.42 384.54,172.39 384.89,172.35 385.23,172.32 385.58,172.28 385.92,172.24 386.27,172.20 386.61,172.16 386.96,172.12 387.31,172.08 387.65,172.04 388.00,172.00 388.34,171.95 388.69,171.91 389.03,171.86 389.38,171.81 389.73,171.77 390.07,171.72 390.42,171.67 390.76,171.62 391.11,171.56 391.45,171.51 391.80,171.46 392.15,171.40 392.49,171.35 392.84,171.29 393.18,171.24 393.53,171.18 393.87,171.12 394.22,171.06 394.57,171.00 394.91,170.94 395.26,170.88 395.60,170.82 395.95,170.75 396.29,170.69 396.64,170.62 396.99,170.56 397.33,170.49 397.68,170.42 398.02,170.35 398.37,170.29 398.71,170.22 399.06,170.14 399.41,170.07 399.75,170.00 400.10,169.93 400.44,169.85 400.79,169.78 401.13,169.71 401.48,169.63 401.83,169.55 402.17,169.48 402.52,169.40 402.86,169.32 403.21,169.24 403.55,169.16 403.90,169.08 404.25,169.00 404.59,168.91 404.94,168.83 405.28,168.75 405.63,168.66 405.97,168.58 406.32,168.49 406.67,168.40 407.01,168.32 407.36,168.23 407.70,168.14 408.05,168.05 408.39,167.96 408.74,167.87 409.09,167.78 409.43,167.68 409.78,167.59 410.12,167.50 410.47,167.40 410.81,167.31 411.16,167.21 411.51,167.12 411.85,167.02 412.20,166.92 412.54,166.82 412.89,166.72 413.23,166.62 413.58,166.52 413.93,166.42 414.27,166.32 414.62,166.21 414.96,166.11 415.31,166.01 415.65,165.90 416.00,165.79 416.35,165.69 416.69,165.58 417.04,165.47 417.38,165.36 417.73,165.25 418.07,165.14 418.42,165.03 418.77,164.92 419.11,164.81 419.46,164.70 419.80,164.58 420.15,164.47 420.49,164.35 420.84,164.24 421.19,164.12 421.53,164.00 421.88,163.88 422.22,163.77 422.57,163.65 422.91,163.53 423.26,163.40 423.61,163.28 423.95,163.16 424.30,163.04 424.64,162.91 424.99,162.79 425.33,162.66 425.68,162.53 426.03,162.41 426.37,162.28 426.72,162.15 427.06,162.02 427.41,161.89 427.75,161.76 428.10,161.62 428.45,161.49 428.79,161.36 429.14,161.22 429.48,161.09 429.83,160.95 430.17,160.81 430.52,160.67 430.87,160.53 431.21,160.39 431.56,160.25 431.90,160.11 432.25,159.97 432.59,159.82 432.94,159.68 433.29,159.53 433.63,159.39 433.98,159.24 434.32,159.09 434.67,158.94 435.01,158.79 435.36,158.64 435.71,158.49 436.05,158.33 436.40,158.18 436.74,158.02 437.09,157.87 437.43,157.71 437.78,157.55 438.13,157.39 438.47,157.23 438.82,157.07 439.16,156.91 439.51,156.74 439.85,156.58 440.20,156.41 440.55,156.24 440.89,156.08 441.24,155.91 441.58,155.73 441.93,155.56 442.27,155.39 442.62,155.21 442.97,155.04 443.31,154.86 443.66,154.68 444.00,154.50 444.35,154.32 444.69,154.14 445.04,153.96 445.39,153.77 445.73,153.58 446.08,153.40 446.42,153.21 446.77,153.02 447.11,152.82 447.46,152.63 447.81,152.43 448.15,152.24 448.50,152.04 448.84,151.84 449.19,151.64 449.53,151.43 449.88,151.23 450.23,151.02 450.57,150.81 450.92,150.60 451.26,150.39 451.61,150.17 451.95,149.96 452.30,149.74 452.65,149.52 452.99,149.30 453.34,149.07 453.68,148.85 454.03,148.62 454.37,148.39 454.72,148.16 455.07,147.92 455.41,147.69 455.76,147.45 456.10,147.21 456.45,146.96 456.79,146.72 457.14,146.47 457.49,146.22 457.83,145.96 458.18,145.71 458.52,145.45 458.87,145.19 459.21,144.92 459.56,144.65 459.91,144.38 460.25,144.11 460.60,143.83 460.94,143.55 461.29,143.27 461.63,142.98 461.98,142.69 462.33,142.40 462.67,142.10 463.02,141.80 463.36,141.49 463.71,141.18 464.05,140.87 464.40,140.55 464.75,140.23 465.09,139.91 465.44,139.58 465.78,139.24 466.13,138.90 466.47,138.56 466.82,138.21 467.17,137.85 467.51,137.49 467.86,137.12 468.20,136.75 468.55,136.37 468.89,135.99 469.24,135.60 469.59,135.20 469.93,134.80 470.28,134.38 470.62,133.96 470.97,133.54 471.31,133.10 471.66,132.66 472.01,132.21 472.35,131.74 472.70,131.27 473.04,130.79 473.39,130.30 473.73,129.80 474.08,129.28 474.43,128.76 474.77,128.22 475.12,127.67 475.46,127.11 475.81,126.53 476.15,125.93 476.50,125.32 476.85,124.70 477.19,124.05 477.54,123.39 477.88,122.71 478.23,122.00 478.57,121.28 478.92,120.53 479.27,119.76 479.61,118.96 479.96,118.13 480.30,117.28 480.65,116.40 480.99,115.48 481.34,114.54 481.69,113.56 482.03,112.55 482.38,111.50 482.72,110.43 483.07,109.32 483.41,108.20 483.76,107.06 484.11,105.92 484.45,104.81 484.80,103.74 485.14,102.75 485.49,101.88 485.83,101.18 486.18,100.69 486.53,100.45 486.87,100.47 487.22,100.74 487.56,101.24 487.91,101.93 488.25,102.76 488.60,103.69 488.95,104.68 489.29,105.70 489.64,106.73 489.98,107.76 490.33,108.76 490.67,109.74 491.02,110.69 491.37,111.61 491.71,112.50 492.06,113.35 492.40,114.17 492.75,114.96 493.09,115.72 493.44,116.45 493.79,117.15 494.13,117.83 494.48,118.48 494.82,119.11 495.17,119.71 495.51,120.30 495.86,120.86 496.21,121.41 496.55,121.93 496.90,122.44 497.24,122.94 497.59,123.41 497.93,123.88 498.28,124.33 498.63,124.76 498.97,125.18 499.32,125.59 499.66,125.99 500.01,126.38 500.35,126.76 500.70,127.13 501.05,127.48 501.39,127.83 501.74,128.17 502.08,128.50 502.43,128.82 502.77,129.14 503.12,129.44 503.47,129.74 503.81,130.04 504.16,130.32 504.50,130.60 504.85,130.87 505.19,131.14 505.54,131.40 505.89,131.65 506.23,131.90 506.58,132.14 506.92,132.38 507.27,132.61 507.61,132.84 507.96,133.07 508.31,133.28 508.65,133.50 509.00,133.71 509.34,133.91 509.69,134.11 510.03,134.31 510.38,134.50 510.73,134.69 511.07,134.88 511.42,135.06 511.76,135.24 512.11,135.41 512.45,135.59 512.80,135.75 513.15,135.92 513.49,136.08 513.84,136.24 514.18,136.39 514.53,136.55 514.87,136.70 515.22,136.84 515.57,136.99 515.91,137.13 516.26,137.27 516.60,137.41 516.95,137.54 517.29,137.67 517.64,137.80 517.99,137.93 518.33,138.05 518.68,138.17 519.02,138.29 519.37,138.41 519.71,138.52 520.06,138.64 520.41,138.75 520.75,138.86 521.10,138.96 521.44,139.07 521.79,139.17 522.13,139.27 522.48,139.37 522.83,139.47 523.17,139.56 523.52,139.66 523.86,139.75 524.21,139.84 524.55,139.93 524.90,140.01 525.25,140.10 525.59,140.18 525.94,140.26 526.28,140.34 526.63,140.42 526.97,140.50 527.32,140.57 527.67,140.65 528.01,140.72 528.36,140.79 528.70,140.86 529.05,140.93 529.39,140.99 529.74,141.06 530.09,141.12 530.43,141.18 530.78,141.24 531.12,141.30 531.47,141.36 531.81,141.42 532.16,141.47 532.51,141.53 532.85,141.58 533.20,141.63 533.54,141.68 533.89,141.73 534.23,141.78 534.58,141.82 534.93,141.87 535.27,141.91 535.62,141.96 535.96,142.00 536.31,142.04 536.65,142.08 537.00,142.12"/>
<g fill="none" stroke="#f00" stroke-width="1.6"><circle cx="59.91" cy="131.74" r="2.25"/><circle cx="73.74" cy="120.85" r="2.25"/><circle cx="87.57" cy="106.21" r="2.25"/><circle cx="100.36" cy="76.72" r="2.25"/><circle cx="101.30" cy="72.24" r="2.25"/><circle cx="102.23" cy="66.59" r="2.25"/><circle cx="103.16" cy="59.14" r="2.25"/><circle cx="104.10" cy="51.52" r="2.25"/><circle cx="105.03" cy="54.27" r="2.25"/><circle cx="105.96" cy="62.37" r="2.25"/><circle cx="106.90" cy="68.70" r="2.25"/><circle cx="107.83" cy="73.71" r="2.25"/><circle cx="108.76" cy="77.64" r="2.25"/><circle cx="109.70" cy="80.86" r="2.25"/><circle cx="110.63" cy="83.64" r="2.25"/><circle cx="111.56" cy="86.13" r="2.25"/><circle cx="112.50" cy="88.43" r="2.25"/><circle cx="113.43" cy="90.51" r="2.25"/><circle cx="114.36" cy="92.20" r="2.25"/><circle cx="115.30" cy="93.59" r="2.25"/><circle cx="116.23" cy="94.85" r="2.25"/><circle cx="128.40" cy="104.14" r="2.25"/><circle cx="141.30" cy="108.00" r="2.25"/><circle cx="154.20" cy="109.85" r="2.25"/><circle cx="167.20" cy="111.23" r="2.25"/><circle cx="180.30" cy="111.63" r="2.25"/><circle cx="193.50" cy="111.23" r="2.25"/><circle cx="206.20" cy="110.12" r="2.25"/><circle cx="219.50" cy="108.11" r="2.25"/><circle cx="232.70" cy="105.06" r="2.25"/><circle cx="245.60" cy="100.62" r="2.25"/><circle cx="258.30" cy="93.94" r="2.25"/><circle cx="271.10" cy="82.42" r="2.25"/><circle cx="277.02" cy="73.29" r="2.25"/><circle cx="277.89" cy="71.54" r="2.25"/><circle cx="278.75" cy="69.63" r="2.25"/><circle cx="279.62" cy="67.54" r="2.25"/><circle cx="280.48" cy="65.23" r="2.25"/><circle cx="281.34" cy="62.64" r="2.25"/><circle cx="282.21" cy="59.72" r="2.25"/><circle cx="283.07" cy="56.38" r="2.25"/><circle cx="283.94" cy="52.56" r="2.25"/><circle cx="284.80" cy="48.24" r="2.25"/><circle cx="285.67" cy="43.77" r="2.25"/><circle cx="286.53" cy="40.58" r="2.25"/><circle cx="287.39" cy="40.86" r="2.25"/><circle cx="288.26" cy="44.10" r="2.25"/><circle cx="289.12" cy="48.07" r="2.25"/><circle cx="289.99" cy="51.72" r="2.25"/><circle cx="290.85" cy="54.85" r="2.25"/><circle cx="291.72" cy="57.51" r="2.25"/><circle cx="292.58" cy="59.77" r="2.25"/><circle cx="293.44" cy="61.70" r="2.25"/><circle cx="294.31" cy="63.37" r="2.25"/><circle cx="295.17" cy="64.81" r="2.25"/><circle cx="296.04" cy="66.06" r="2.25"/><circle cx="296.90" cy="67.14" r="2.25"/><circle cx="297.77" cy="68.08" r="2.25"/><circle cx="298.63" cy="68.88" r="2.25"/><circle cx="299.49" cy="69.57" r="2.25"/><circle cx="300.36" cy="70.14" r="2.25"/><circle cx="301.22" cy="70.61" r="2.25"/><circle cx="302.09" cy="70.98" r="2.25"/><circle cx="302.95" cy="71.26" r="2.25"/><circle cx="303.82" cy="71.44" r="2.25"/><circle cx="304.68" cy="71.53" r="2.25"/><circle cx="305.54" cy="71.53" r="2.25"/><circle cx="306.41" cy="71.44" r="2.25"/><circle cx="307.27" cy="71.25" r="2.25"/><circle cx="308.14" cy="70.96" r="2.25"/><circle cx="309.00" cy="70.56" r="2.25"/><circle cx="309.87" cy="70.05" r="2.25"/><circle cx="310.73" cy="69.41" r="2.25"/><circle cx="311.59" cy="68.64" r="2.25"/><circle cx="312.46" cy="67.71" r="2.25"/><circle cx="313.32" cy="66.62" r="2.25"/><circle cx="314.19" cy="65.33" r="2.25"/><circle cx="315.05" cy="63.80" r="2.25"/><circle cx="315.92" cy="62.00" r="2.25"/><circle cx="316.78" cy="59.88" r="2.25"/><circle cx="317.64" cy="57.37" r="2.25"/><circle cx="318.51" cy="54.42" r="2.25"/><circle cx="319.37" cy="51.08" r="2.25"/><circle cx="320.24" cy="47.73" r="2.25"/><circle cx="321.10" cy="45.62" r="2.25"/><circle cx="321.97" cy="46.61" r="2.25"/><circle cx="322.83" cy="50.23" r="2.25"/><circle cx="323.69" cy="54.68" r="2.25"/><circle cx="324.56" cy="58.96" r="2.25"/><circle cx="325.42" cy="62.83" r="2.25"/><circle cx="326.29" cy="66.27" r="2.25"/><circle cx="327.15" cy="69.34" r="2.25"/><circle cx="328.02" cy="72.11" r="2.25"/><circle cx="328.88" cy="74.46" r="2.25"/><circle cx="329.74" cy="76.57" r="2.25"/><circle cx="330.61" cy="78.49" r="2.25"/><circle cx="336.49" cy="88.31" r="2.25"/><circle cx="350.31" cy="99.97" r="2.25"/><circle cx="364.14" cy="104.16" r="2.25"/><circle cx="377.97" cy="105.17" r="2.25"/><circle cx="391.80" cy="104.45" r="2.25"/><circle cx="405.63" cy="102.27" r="2.25"/><circle cx="419.46" cy="98.91" r="2.25"/><circle cx="433.29" cy="94.37" r="2.25"/><circle cx="447.11" cy="88.32" r="2.25"/><circle cx="460.94" cy="79.88" r="2.25"/><circle cx="472.35" cy="69.19" r="2.25"/><circle cx="473.22" cy="68.12" r="2.25"/><circle cx="474.08" cy="66.99" r="2.25"/><circle cx="474.94" cy="65.81" r="2.25"/><circle cx="475.81" cy="64.56" r="2.25"/><circle cx="476.67" cy="63.22" r="2.25"/><circle cx="477.54" cy="61.81" r="2.25"/><circle cx="478.40" cy="60.29" r="2.25"/><circle cx="479.27" cy="58.66" r="2.25"/><circle cx="480.13" cy="56.91" r="2.25"/><circle cx="480.99" cy="55.01" r="2.25"/><circle cx="481.86" cy="52.94" r="2.25"/><circle cx="482.72" cy="50.68" r="2.25"/><circle cx="483.59" cy="48.21" r="2.25"/><circle cx="484.45" cy="45.54" r="2.25"/><circle cx="485.32" cy="42.71" r="2.25"/><circle cx="486.18" cy="39.90" r="2.25"/><circle cx="487.04" cy="37.51" r="2.25"/><circle cx="487.91" cy="36.21" r="2.25"/><circle cx="488.77" cy="36.50" r="2.25"/><circle cx="489.64" cy="38.20" r="2.25"/><circle cx="490.50" cy="40.64" r="2.25"/><circle cx="491.37" cy="43.28" r="2.25"/><circle cx="492.23" cy="45.96" r="2.25"/><circle cx="493.09" cy="48.42" r="2.25"/><circle cx="493.96" cy="50.65" r="2.25"/><circle cx="494.82" cy="52.68" r="2.25"/><circle cx="495.69" cy="54.53" r="2.25"/><circle cx="496.55" cy="56.22" r="2.25"/><circle cx="497.42" cy="57.76" r="2.25"/><circle cx="498.28" cy="59.19" r="2.25"/><circle cx="499.14" cy="60.50" r="2.25"/><circle cx="500.01" cy="61.73" r="2.25"/><circle cx="500.87" cy="62.87" r="2.25"/><circle cx="501.74" cy="63.94" r="2.25"/><circle cx="502.60" cy="64.94" r="2.25"/><circle cx="503.47" cy="65.88" r="2.25"/><circle cx="517.29" cy="74.98" r="2.25"/><circle cx="531.12" cy="79.31" r="2.25"/></g>
<g fill="none" stroke="#f00" stroke-width="1.6"><circle cx="59.91" cy="140.38" r="2.25"/><circle cx="73.74" cy="129.05" r="2.25"/><circle cx="87.57" cy="113.01" r="2.25"/><circle cx="100.36" cy="80.35" r="2.25"/><circle cx="101.30" cy="75.43" r="2.25"/><circle cx="102.23" cy="69.41" r="2.25"/><circle cx="103.16" cy="61.72" r="2.25"/><circle cx="104.10" cy="54.02" r="2.25"/><circle cx="105.03" cy="56.79" r="2.25"/><circle cx="105.96" cy="64.91" r="2.25"/><circle cx="106.90" cy="71.29" r="2.25"/><circle cx="107.83" cy="76.35" r="2.25"/><circle cx="108.76" cy="80.34" r="2.25"/><circle cx="109.70" cy="83.64" r="2.25"/><circle cx="110.63" cy="86.49" r="2.25"/><circle cx="111.56" cy="89.05" r="2.25"/><circle cx="112.50" cy="91.42" r="2.25"/><circle cx="113.43" cy="93.57" r="2.25"/><circle cx="114.36" cy="95.36" r="2.25"/><circle cx="115.30" cy="96.85" r="2.25"/><circle cx="116.23" cy="98.22" r="2.25"/><circle cx="128.40" cy="108.73" r="2.25"/><circle cx="141.30" cy="112.58" r="2.25"/><circle cx="154.20" cy="114.36" r="2.25"/><circle cx="167.20" cy="115.62" r="2.25"/><circle cx="180.30" cy="115.81" r="2.25"/><circle cx="193.50" cy="115.20" r="2.25"/><circle cx="206.20" cy="113.90" r="2.25"/><circle cx="219.50" cy="111.70" r="2.25"/><circle cx="232.70" cy="108.46" r="2.25"/><circle cx="245.60" cy="103.84" r="2.25"/><circle cx="258.30" cy="96.97" r="2.25"/><circle cx="271.10" cy="85.24" r="2.25"/><circle cx="277.02" cy="75.99" r="2.25"/><circle cx="277.89" cy="74.23" r="2.25"/><circle cx="278.75" cy="72.31" r="2.25"/><circle cx="279.62" cy="70.20" r="2.25"/><circle cx="280.48" cy="67.87" r="2.25"/><circle cx="281.34" cy="65.27" r="2.25"/><circle cx="282.21" cy="62.33" r="2.25"/><circle cx="283.07" cy="58.98" r="2.25"/><circle cx="283.94" cy="55.14" r="2.25"/><circle cx="284.80" cy="50.80" r="2.25"/><circle cx="285.67" cy="46.32" r="2.25"/><circle cx="286.53" cy="43.12" r="2.25"/><circle cx="287.39" cy="43.38" r="2.25"/><circle cx="288.26" cy="46.60" r="2.25"/><circle cx="289.12" cy="50.56" r="2.25"/><circle cx="289.99" cy="54.20" r="2.25"/><circle cx="290.85" cy="57.31" r="2.25"/><circle cx="291.72" cy="59.96" r="2.25"/><circle cx="292.58" cy="62.20" r="2.25"/><circle cx="293.44" cy="64.12" r="2.25"/><circle cx="294.31" cy="65.78" r="2.25"/><circle cx="295.17" cy="67.20" r="2.25"/><circle cx="296.04" cy="68.44" r="2.25"/><circle cx="296.90" cy="69.51" r="2.25"/><circle cx="297.77" cy="70.44" r="2.25"/><circle cx="298.63" cy="71.23" r="2.25"/><circle cx="299.49" cy="71.90" r="2.25"/><circle cx="300.36" cy="72.47" r="2.25"/><circle cx="301.22" cy="72.92" r="2.25"/><circle cx="302.09" cy="73.28" r="2.25"/><circle cx="302.95" cy="73.55" r="2.25"/><circle cx="303.82" cy="73.72" r="2.25"/><circle cx="304.68" cy="73.80" r="2.25"/><circle cx="305.54" cy="73.79" r="2.25"/><circle cx="306.41" cy="73.68" r="2.25"/><circle cx="307.27" cy="73.48" r="2.25"/><circle cx="308.14" cy="73.17" r="2.25"/><circle cx="309.00" cy="72.76" r="2.25"/><circle cx="309.87" cy="72.24" r="2.25"/><circle cx="310.73" cy="71.59" r="2.25"/><circle cx="311.59" cy="70.81" r="2.25"/><circle cx="312.46" cy="69.87" r="2.25"/><circle cx="313.32" cy="68.77" r="2.25"/><circle cx="314.19" cy="67.46" r="2.25"/><circle cx="315.05" cy="65.93" r="2.25"/><circle cx="315.92" cy="64.12" r="2.25"/><circle cx="316.78" cy="61.98" r="2.25"/><circle cx="317.64" cy="59.46" r="2.25"/><circle cx="318.51" cy="56.50" r="2.25"/><circle cx="319.37" cy="53.15" r="2.25"/><circle cx="320.24" cy="49.78" r="2.25"/><circle cx="321.10" cy="47.67" r="2.25"/><circle cx="321.97" cy="48.65" r="2.25"/><circle cx="322.83" cy="52.25" r="2.25"/><circle cx="323.69" cy="56.69" r="2.25"/><circle cx="324.56" cy="60.97" r="2.25"/><circle cx="325.42" cy="64.82" r="2.25"/><circle cx="326.29" cy="68.25" r="2.25"/><circle cx="327.15" cy="71.31" r="2.25"/><circle cx="328.02" cy="74.07" r="2.25"/><circle cx="328.88" cy="76.42" r="2.25"/><circle cx="329.74" cy="78.51" r="2.25"/><circle cx="330.61" cy="80.42" r="2.25"/><circle cx="336.49" cy="90.18" r="2.25"/><circle cx="350.31" cy="101.69" r="2.25"/><circle cx="364.14" cy="105.76" r="2.25"/><circle cx="377.97" cy="106.67" r="2.25"/><circle cx="391.80" cy="105.85" r="2.25"/><circle cx="405.63" cy="103.60" r="2.25"/><circle cx="419.46" cy="100.17" r="2.25"/><circle cx="433.29" cy="95.57" r="2.25"/><circle cx="447.11" cy="89.47" r="2.25"/><circle cx="460.94" cy="80.98" r="2.25"/><circle cx="472.35" cy="70.25" r="2.25"/><circle cx="473.22" cy="69.18" r="2.25"/><circle cx="474.08" cy="68.05" r="2.25"/><circle cx="474.94" cy="66.86" r="2.25"/><circle cx="475.81" cy="65.60" r="2.25"/><circle cx="476.67" cy="64.27" r="2.25"/><circle cx="477.54" cy="62.85" r="2.25"/><circle cx="478.40" cy="61.33" r="2.25"/><circle cx="479.27" cy="59.70" r="2.25"/><circle cx="480.13" cy="57.94" r="2.25"/><circle cx="480.99" cy="56.04" r="2.25"/><circle cx="481.86" cy="53.97" r="2.25"/><circle cx="482.72" cy="51.70" r="2.25"/><circle cx="483.59" cy="49.24" r="2.25"/><circle cx="484.45" cy="46.56" r="2.25"/><circle cx="485.32" cy="43.73" r="2.25"/><circle cx="486.18" cy="40.91" r="2.25"/><circle cx="487.04" cy="38.52" r="2.25"/><circle cx="487.91" cy="37.22" r="2.25"/><circle cx="488.77" cy="37.50" r="2.25"/><circle cx="489.64" cy="39.20" r="2.25"/><circle cx="490.50" cy="41.64" r="2.25"/><circle cx="491.37" cy="44.28" r="2.25"/><circle cx="492.23" cy="46.96" r="2.25"/><circle cx="493.09" cy="49.41" r="2.25"/><circle cx="493.96" cy="51.65" r="2.25"/><circle cx="494.82" cy="53.67" r="2.25"/><circle cx="495.69" cy="55.52" r="2.25"/><circle cx="496.55" cy="57.20" r="2.25"/><circle cx="497.42" cy="58.75" r="2.25"/><circle cx="498.28" cy="60.17" r="2.25"/><circle cx="499.14" cy="61.48" r="2.25"/><circle cx="500.01" cy="62.71" r="2.25"/><circle cx="500.87" cy="63.84" r="2.25"/><circle cx="501.74" cy="64.91" r="2.25"/><circle cx="502.60" cy="65.91" r="2.25"/><circle cx="503.47" cy="66.85" r="2.25"/><circle cx="517.29" cy="75.92" r="2.25"/><circle cx="531.12" cy="80.23" r="2.25"/></g>
<g fill="none" stroke="#f00" stroke-width="1.6"><circle cx="59.91" cy="177.06" r="2.25"/><circle cx="73.74" cy="165.21" r="2.25"/><circle cx="87.57" cy="149.36" r="2.25"/><circle cx="100.36" cy="117.88" r="2.25"/><circle cx="101.30" cy="112.95" r="2.25"/><circle cx="102.23" cy="106.67" r="2.25"/><circle cx="103.16" cy="98.60" r="2.25"/><circle cx="104.10" cy="92.00" r="2.25"/><circle cx="105.03" cy="96.69" r="2.25"/><circle cx="105.96" cy="104.39" r="2.25"/><circle cx="106.90" cy="110.33" r="2.25"/><circle cx="107.83" cy="115.18" r="2.25"/><circle cx="108.76" cy="119.09" r="2.25"/><circle cx="109.70" cy="122.35" r="2.25"/><circle cx="110.63" cy="125.14" r="2.25"/><circle cx="111.56" cy="127.57" r="2.25"/><circle cx="112.50" cy="129.74" r="2.25"/><circle cx="113.43" cy="131.69" r="2.25"/><circle cx="114.36" cy="133.26" r="2.25"/><circle cx="115.30" cy="134.54" r="2.25"/><circle cx="116.23" cy="135.69" r="2.25"/><circle cx="128.40" cy="143.86" r="2.25"/><circle cx="141.30" cy="146.62" r="2.25"/><circle cx="154.20" cy="147.44" r="2.25"/><circle cx="167.20" cy="147.85" r="2.25"/><circle cx="180.30" cy="147.33" r="2.25"/><circle cx="193.50" cy="146.04" r="2.25"/><circle cx="206.20" cy="144.09" r="2.25"/><circle cx="219.50" cy="141.24" r="2.25"/><circle cx="232.70" cy="137.37" r="2.25"/><circle cx="245.60" cy="132.12" r="2.25"/><circle cx="258.30" cy="124.59" r="2.25"/><circle cx="271.10" cy="112.01" r="2.25"/><circle cx="277.02" cy="102.08" r="2.25"/><circle cx="277.89" cy="100.17" r="2.25"/><circle cx="278.75" cy="98.08" r="2.25"/><circle cx="279.62" cy="95.79" r="2.25"/><circle cx="280.48" cy="93.24" r="2.25"/><circle cx="281.34" cy="90.38" r="2.25"/><circle cx="282.21" cy="87.15" r="2.25"/><circle cx="283.07" cy="83.49" r="2.25"/><circle cx="283.94" cy="79.40" r="2.25"/><circle cx="284.80" cy="75.19" r="2.25"/><circle cx="285.67" cy="71.97" r="2.25"/><circle cx="286.53" cy="71.57" r="2.25"/><circle cx="287.39" cy="74.08" r="2.25"/><circle cx="288.26" cy="77.65" r="2.25"/><circle cx="289.12" cy="81.13" r="2.25"/><circle cx="289.99" cy="84.18" r="2.25"/><circle cx="290.85" cy="86.80" r="2.25"/><circle cx="291.72" cy="89.02" r="2.25"/><circle cx="292.58" cy="90.93" r="2.25"/><circle cx="293.44" cy="92.58" r="2.25"/><circle cx="294.31" cy="94.00" r="2.25"/><circle cx="295.17" cy="95.22" r="2.25"/><circle cx="296.04" cy="96.28" r="2.25"/><circle cx="296.90" cy="97.19" r="2.25"/><circle cx="297.77" cy="97.97" r="2.25"/><circle cx="298.63" cy="98.62" r="2.25"/><circle cx="299.49" cy="99.17" r="2.25"/><circle cx="300.36" cy="99.61" r="2.25"/><circle cx="301.22" cy="99.95" r="2.25"/><circle cx="302.09" cy="100.20" r="2.25"/><circle cx="302.95" cy="100.35" r="2.25"/><circle cx="303.82" cy="100.41" r="2.25"/><circle cx="304.68" cy="100.38" r="2.25"/><circle cx="305.54" cy="100.25" r="2.25"/><circle cx="306.41" cy="100.03" r="2.25"/><circle cx="307.27" cy="99.70" r="2.25"/><circle cx="308.14" cy="99.27" r="2.25"/><circle cx="309.00" cy="98.72" r="2.25"/><circle cx="309.87" cy="98.05" r="2.25"/><circle cx="310.73" cy="97.25" r="2.25"/><circle cx="311.59" cy="96.29" r="2.25"/><circle cx="312.46" cy="95.17" r="2.25"/><circle cx="313.32" cy="93.85" r="2.25"/><circle cx="314.19" cy="92.30" r="2.25"/><circle cx="315.05" cy="90.49" r="2.25"/><circle cx="315.92" cy="88.37" r="2.25"/><circle cx="316.78" cy="85.89" r="2.25"/><circle cx="317.64" cy="83.05" r="2.25"/><circle cx="318.51" cy="79.96" r="2.25"/><circle cx="319.37" cy="77.10" r="2.25"/><circle cx="320.24" cy="75.64" r="2.25"/><circle cx="321.10" cy="76.74" r="2.25"/><circle cx="321.97" cy="80.05" r="2.25"/><circle cx="322.83" cy="84.11" r="2.25"/><circle cx="323.69" cy="88.07" r="2.25"/><circle cx="324.56" cy="91.70" r="2.25"/><circle cx="325.42" cy="94.96" r="2.25"/><circle cx="326.29" cy="97.91" r="2.25"/><circle cx="327.15" cy="100.57" r="2.25"/><circle cx="328.02" cy="103.00" r="2.25"/><circle cx="328.88" cy="105.07" r="2.25"/><circle cx="329.74" cy="106.93" r="2.25"/><circle cx="330.61" cy="108.64" r="2.25"/><circle cx="336.49" cy="117.50" r="2.25"/><circle cx="350.31" cy="127.99" r="2.25"/><circle cx="364.14" cy="131.40" r="2.25"/><circle cx="377.97" cy="131.75" r="2.25"/><circle cx="391.80" cy="130.41" r="2.25"/><circle cx="405.63" cy="127.65" r="2.25"/><circle cx="419.46" cy="123.72" r="2.25"/><circle cx="433.29" cy="118.60" r="2.25"/><circle cx="447.11" cy="111.94" r="2.25"/><circle cx="460.94" cy="102.74" r="2.25"/><circle cx="472.35" cy="91.09" r="2.25"/><circle cx="473.22" cy="89.91" r="2.25"/><circle cx="474.08" cy="88.67" r="2.25"/><circle cx="474.94" cy="87.37" r="2.25"/><circle cx="475.81" cy="85.98" r="2.25"/><circle cx="476.67" cy="84.51" r="2.25"/><circle cx="477.54" cy="82.93" r="2.25"/><circle cx="478.40" cy="81.25" r="2.25"/><circle cx="479.27" cy="79.44" r="2.25"/><circle cx="480.13" cy="77.48" r="2.25"/><circle cx="480.99" cy="75.38" r="2.25"/><circle cx="481.86" cy="73.11" r="2.25"/><circle cx="482.72" cy="70.70" r="2.25"/><circle cx="483.59" cy="68.18" r="2.25"/><circle cx="484.45" cy="65.68" r="2.25"/><circle cx="485.32" cy="63.50" r="2.25"/><circle cx="486.18" cy="62.05" r="2.25"/><circle cx="487.04" cy="61.76" r="2.25"/><circle cx="487.91" cy="62.68" r="2.25"/><circle cx="488.77" cy="64.46" r="2.25"/><circle cx="489.64" cy="66.65" r="2.25"/><circle cx="490.50" cy="68.91" r="2.25"/><circle cx="491.37" cy="71.10" r="2.25"/><circle cx="492.23" cy="73.27" r="2.25"/><circle cx="493.09" cy="75.25" r="2.25"/><circle cx="493.96" cy="77.06" r="2.25"/><circle cx="494.82" cy="78.72" r="2.25"/><circle cx="495.69" cy="80.25" r="2.25"/><circle cx="496.55" cy="81.66" r="2.25"/><circle cx="497.42" cy="82.96" r="2.25"/><circle cx="498.28" cy="84.18" r="2.25"/><circle cx="499.14" cy="85.30" r="2.25"/><circle cx="500.01" cy="86.36" r="2.25"/><circle cx="500.87" cy="87.35" r="2.25"/><circle cx="501.74" cy="88.28" r="2.25"/><circle cx="502.60" cy="89.15" r="2.25"/><circle cx="503.47" cy="89.98" r="2.25"/><circle cx="517.29" cy="97.95" r="2.25"/><circle cx="531.12" cy="101.62" r="2.25"/></g>
<g fill="none" stroke="#f00" stroke-width="1.6"><circle cx="59.91" cy="218.57" r="2.25"/><circle cx="73.74" cy="206.71" r="2.25"/><circle cx="87.57" cy="190.85" r="2.25"/><circle cx="100.36" cy="159.33" r="2.25"/><circle cx="101.30" cy="154.38" r="2.25"/><circle cx="102.23" cy="148.07" r="2.25"/><circle cx="103.16" cy="139.91" r="2.25"/><circle cx="104.10" cy="133.16" r="2.25"/><circle cx="105.03" cy="138.00" r="2.25"/><circle cx="105.96" cy="145.80" r="2.25"/><circle cx="106.90" cy="151.78" r="2.25"/><circle cx="107.83" cy="156.64" r="2.25"/><circle cx="108.76" cy="160.55" r="2.25"/><circle cx="109.70" cy="163.81" r="2.25"/><circle cx="110.63" cy="166.60" r="2.25"/><circle cx="111.56" cy="169.04" r="2.25"/><circle cx="112.50" cy="171.20" r="2.25"/><circle cx="113.43" cy="173.15" r="2.25"/><circle cx="114.36" cy="174.73" r="2.25"/><circle cx="115.30" cy="176.01" r="2.25"/><circle cx="116.23" cy="177.16" r="2.25"/><circle cx="128.40" cy="185.32" r="2.25"/><circle cx="141.30" cy="188.06" r="2.25"/><circle cx="154.20" cy="188.87" r="2.25"/><circle cx="167.20" cy="189.26" r="2.25"/><circle cx="180.30" cy="188.72" r="2.25"/><circle cx="193.50" cy="187.41" r="2.25"/><circle cx="206.20" cy="185.45" r="2.25"/><circle cx="219.50" cy="182.58" r="2.25"/><circle cx="232.70" cy="178.68" r="2.25"/><circle cx="245.60" cy="173.41" r="2.25"/><circle cx="258.30" cy="165.85" r="2.25"/><circle cx="271.10" cy="153.21" r="2.25"/><circle cx="277.02" cy="143.22" r="2.25"/><circle cx="277.89" cy="141.29" r="2.25"/><circle cx="278.75" cy="139.18" r="2.25"/><circle cx="279.62" cy="136.86" r="2.25"/><circle cx="280.48" cy="134.27" r="2.25"/><circle cx="281.34" cy="131.36" r="2.25"/><circle cx="282.21" cy="128.05" r="2.25"/><circle cx="283.07" cy="124.26" r="2.25"/><circle cx="283.94" cy="119.97" r="2.25"/><circle cx="284.80" cy="115.46" r="2.25"/><circle cx="285.67" cy="111.97" r="2.25"/><circle cx="286.53" cy="111.69" r="2.25"/><circle cx="287.39" cy="114.58" r="2.25"/><circle cx="288.26" cy="118.47" r="2.25"/><circle cx="289.12" cy="122.12" r="2.25"/><circle cx="289.99" cy="125.26" r="2.25"/><circle cx="290.85" cy="127.93" r="2.25"/><circle cx="291.72" cy="130.18" r="2.25"/><circle cx="292.58" cy="132.11" r="2.25"/><circle cx="293.44" cy="133.76" r="2.25"/><circle cx="294.31" cy="135.19" r="2.25"/><circle cx="295.17" cy="136.41" r="2.25"/><circle cx="296.04" cy="137.47" r="2.25"/><circle cx="296.90" cy="138.38" r="2.25"/><circle cx="297.77" cy="139.16" r="2.25"/><circle cx="298.63" cy="139.81" r="2.25"/><circle cx="299.49" cy="140.36" r="2.25"/><circle cx="300.36" cy="140.79" r="2.25"/><circle cx="301.22" cy="141.13" r="2.25"/><circle cx="302.09" cy="141.37" r="2.25"/><circle cx="302.95" cy="141.52" r="2.25"/><circle cx="303.82" cy="141.57" r="2.25"/><circle cx="304.68" cy="141.53" r="2.25"/><circle cx="305.54" cy="141.40" r="2.25"/><circle cx="306.41" cy="141.17" r="2.25"/><circle cx="307.27" cy="140.83" r="2.25"/><circle cx="308.14" cy="140.39" r="2.25"/><circle cx="309.00" cy="139.83" r="2.25"/><circle cx="309.87" cy="139.15" r="2.25"/><circle cx="310.73" cy="138.33" r="2.25"/><circle cx="311.59" cy="137.35" r="2.25"/><circle cx="312.46" cy="136.20" r="2.25"/><circle cx="313.32" cy="134.84" r="2.25"/><circle cx="314.19" cy="133.25" r="2.25"/><circle cx="315.05" cy="131.38" r="2.25"/><circle cx="315.92" cy="129.17" r="2.25"/><circle cx="316.78" cy="126.57" r="2.25"/><circle cx="317.64" cy="123.53" r="2.25"/><circle cx="318.51" cy="120.15" r="2.25"/><circle cx="319.37" cy="116.92" r="2.25"/><circle cx="320.24" cy="115.27" r="2.25"/><circle cx="321.10" cy="116.63" r="2.25"/><circle cx="321.97" cy="120.41" r="2.25"/><circle cx="322.83" cy="124.80" r="2.25"/><circle cx="323.69" cy="128.97" r="2.25"/><circle cx="324.56" cy="132.71" r="2.25"/><circle cx="325.42" cy="136.04" r="2.25"/><circle cx="326.29" cy="139.02" r="2.25"/><circle cx="327.15" cy="141.71" r="2.25"/><circle cx="328.02" cy="144.16" r="2.25"/><circle cx="328.88" cy="146.24" r="2.25"/><circle cx="329.74" cy="148.10" r="2.25"/><circle cx="330.61" cy="149.82" r="2.25"/><circle cx="336.49" cy="158.69" r="2.25"/><circle cx="350.31" cy="169.14" r="2.25"/><circle cx="364.14" cy="172.52" r="2.25"/><circle cx="377.97" cy="172.83" r="2.25"/><circle cx="391.80" cy="171.46" r="2.25"/><circle cx="405.63" cy="168.66" r="2.25"/><circle cx="419.46" cy="164.70" r="2.25"/><circle cx="433.29" cy="159.53" r="2.25"/><circle cx="447.11" cy="152.82" r="2.25"/><circle cx="460.94" cy="143.55" r="2.25"/><circle cx="472.35" cy="131.74" r="2.25"/><circle cx="473.22" cy="130.55" r="2.25"/><circle cx="474.08" cy="129.28" r="2.25"/><circle cx="474.94" cy="127.95" r="2.25"/><circle cx="475.81" cy="126.53" r="2.25"/><circle cx="476.67" cy="125.01" r="2.25"/><circle cx="477.54" cy="123.39" r="2.25"/><circle cx="478.40" cy="121.64" r="2.25"/><circle cx="479.27" cy="119.76" r="2.25"/><circle cx="480.13" cy="117.71" r="2.25"/><circle cx="480.99" cy="115.48" r="2.25"/><circle cx="481.86" cy="113.06" r="2.25"/><circle cx="482.72" cy="110.43" r="2.25"/><circle cx="483.59" cy="107.63" r="2.25"/><circle cx="484.45" cy="104.81" r="2.25"/><circle cx="485.32" cy="102.30" r="2.25"/><circle cx="486.18" cy="100.69" r="2.25"/><circle cx="487.04" cy="100.57" r="2.25"/><circle cx="487.91" cy="101.93" r="2.25"/><circle cx="488.77" cy="104.18" r="2.25"/><circle cx="489.64" cy="106.73" r="2.25"/><circle cx="490.50" cy="109.26" r="2.25"/><circle cx="491.37" cy="111.61" r="2.25"/><circle cx="492.23" cy="113.90" r="2.25"/><circle cx="493.09" cy="115.95" r="2.25"/><circle cx="493.96" cy="117.82" r="2.25"/><circle cx="494.82" cy="119.51" r="2.25"/><circle cx="495.69" cy="121.07" r="2.25"/><circle cx="496.55" cy="122.49" r="2.25"/><circle cx="497.42" cy="123.81" r="2.25"/><circle cx="498.28" cy="125.03" r="2.25"/><circle cx="499.14" cy="126.16" r="2.25"/><circle cx="500.01" cy="127.22" r="2.25"/><circle cx="500.87" cy="128.21" r="2.25"/><circle cx="501.74" cy="129.14" r="2.25"/><circle cx="502.60" cy="130.02" r="2.25"/><circle cx="503.47" cy="130.84" r="2.25"/><circle cx="517.29" cy="138.77" r="2.25"/><circle cx="531.12" cy="142.40" r="2.25"/></g>
<polyline fill="none" stroke="#00f" stroke-width="1.8" stroke-linejoin="round" stroke-dasharray="4 1.6 1.2 1.6" points="53.00,140.49 53.35,140.37 53.69,140.24 54.04,140.10 54.38,139.96 54.73,139.81 55.07,139.65 55.42,139.49 55.77,139.31 56.11,139.13 56.46,138.94 56.80,138.75 57.15,138.54 57.49,138.33 57.84,138.12 58.19,137.89 58.53,137.66 58.88,137.43 59.22,137.18 59.57,136.94 59.91,136.68 60.26,136.42 60.61,136.16 60.95,135.89 61.30,135.62 61.64,135.34 61.99,135.06 62.33,134.77 62.68,134.48 63.03,134.18 63.37,133.88 63.72,133.58 64.06,133.28 64.41,132.97 64.75,132.65 65.10,132.34 65.45,132.02 65.79,131.70 66.14,131.38 66.48,131.06 66.83,130.73 67.17,130.40 67.52,130.07 67.87,129.73 68.21,129.40 68.56,129.06 68.90,128.72 69.25,128.38 69.59,128.04 69.94,127.70 70.29,127.36 70.63,127.01 70.98,126.66 71.32,126.31 71.67,125.96 72.01,125.61 72.36,125.26 72.71,124.91 73.05,124.56 73.40,124.20 73.74,123.85 74.09,123.49 74.43,123.13 74.78,122.77 75.13,122.40 75.47,122.04 75.82,121.67 76.16,121.30 76.51,120.93 76.85,120.56 77.20,120.18 77.55,119.80 77.89,119.42 78.24,119.04 78.58,118.65 78.93,118.27 79.27,117.88 79.62,117.48 79.97,117.09 80.31,116.69 80.66,116.29 81.00,115.89 81.35,115.48 81.69,115.07 82.04,114.66 82.39,114.25 82.73,113.83 83.08,113.41 83.42,112.98 83.77,112.55 84.11,112.12 84.46,111.68 84.81,111.24 85.15,110.80 85.50,110.35 85.84,109.90 86.19,109.44 86.53,108.97 86.88,108.50 87.23,108.03 87.57,107.55 87.92,107.07 88.26,106.58 88.61,106.08 88.95,105.57 89.30,105.06 89.65,104.54 89.99,104.02 90.34,103.48 90.68,102.94 91.03,102.39 91.37,101.83 91.72,101.26 92.07,100.68 92.41,100.08 92.76,99.48 93.10,98.86 93.45,98.22 93.79,97.58 94.14,96.91 94.49,96.24 94.83,95.54 95.18,94.82 95.52,94.09 95.87,93.33 96.21,92.55 96.56,91.75 96.91,90.91 97.25,90.05 97.60,89.16 97.94,88.23 98.29,87.27 98.63,86.26 98.98,85.21 99.33,84.11 99.67,82.95 100.02,81.74 100.36,80.48 100.71,79.16 101.05,77.76 101.40,76.27 101.75,74.67 102.09,72.93 102.44,71.04 102.78,68.96 103.13,66.65 103.47,64.08 103.82,61.22 104.17,58.11 104.51,54.93 104.86,52.23 105.20,50.98 105.55,51.84 105.89,54.29 106.24,57.31 106.59,60.31 106.93,63.06 107.28,65.65 107.62,67.97 107.97,70.05 108.31,71.93 108.66,73.65 109.01,75.21 109.35,76.66 109.70,78.00 110.04,79.26 110.39,80.44 110.73,81.57 111.08,82.64 111.43,83.67 111.77,84.67 112.12,85.63 112.46,86.55 112.81,87.42 113.15,88.27 113.50,89.08 113.85,89.86 114.19,90.48 114.54,91.08 114.88,91.65 115.23,92.20 115.57,92.73 115.92,93.25 116.27,93.74 116.61,94.21 116.96,94.67 117.30,95.12 117.65,95.55 117.99,95.96 118.34,96.37 118.69,96.76 119.03,97.14 119.38,97.51 119.72,97.86 120.07,98.21 120.41,98.55 120.76,98.88 121.11,99.20 121.45,99.51 121.80,99.82 122.14,100.11 122.49,100.40 122.83,100.69 123.18,100.96 123.53,101.23 123.87,101.49 124.22,101.75 124.56,102.00 124.91,102.24 125.25,102.48 125.60,102.72 125.95,102.91 126.29,103.10 126.64,103.28 126.98,103.46 127.33,103.63 127.67,103.80 128.02,103.96 128.37,104.12 128.71,104.28 129.06,104.43 129.40,104.58 129.75,104.73 130.09,104.87 130.44,105.01 130.79,105.14 131.13,105.27 131.48,105.40 131.82,105.53 132.17,105.65 132.51,105.77 132.86,105.89 133.21,106.00 133.55,106.11 133.90,106.22 134.24,106.32 134.59,106.43 134.93,106.53 135.28,106.63 135.63,106.72 135.97,106.82 136.32,106.91 136.66,107.00 137.01,107.08 137.35,107.17 137.70,107.25 138.05,107.33 138.39,107.41 138.74,107.49 139.08,107.56 139.43,107.64 139.77,107.71 140.12,107.78 140.47,107.84 140.81,107.91 141.16,107.97 141.50,108.04 141.85,108.10 142.19,108.16 142.54,108.21 142.89,108.27 143.23,108.32 143.58,108.38 143.92,108.43 144.27,108.48 144.61,108.53 144.96,108.57 145.31,108.62 145.65,108.66 146.00,108.71 146.34,108.75 146.69,108.79 147.03,108.83 147.38,108.86 147.73,108.90 148.07,108.94 148.42,108.97 148.76,109.00 149.11,109.03 149.45,109.06 149.80,109.09 150.15,109.16 150.49,109.22 150.84,109.29 151.18,109.35 151.53,109.41 151.87,109.47 152.22,109.53 152.57,109.59 152.91,109.64 153.26,109.70 153.60,109.75 153.95,109.81 154.29,109.86 154.64,109.91 154.99,109.96 155.33,110.01 155.68,110.06 156.02,110.11 156.37,110.16 156.71,110.20 157.06,110.25 157.41,110.29 157.75,110.34 158.10,110.38 158.44,110.42 158.79,110.46 159.13,110.50 159.48,110.54 159.83,110.58 160.17,110.62 160.52,110.66 160.86,110.69 161.21,110.73 161.55,110.76 161.90,110.80 162.25,110.83 162.59,110.86 162.94,110.89 163.28,110.93 163.63,110.96 163.97,110.98 164.32,111.01 164.67,111.04 165.01,111.07 165.36,111.10 165.70,111.12 166.05,111.15 166.39,111.17 166.74,111.19 167.09,111.22 167.43,111.24 167.78,111.26 168.12,111.28 168.47,111.30 168.81,111.32 169.16,111.34 169.51,111.36 169.85,111.38 170.20,111.40 170.54,111.41 170.89,111.43 171.23,111.44 171.58,111.46 171.93,111.47 172.27,111.49 172.62,111.50 172.96,111.51 173.31,111.52 173.65,111.53 174.00,111.54 174.35,111.55 174.69,111.56 175.04,111.57 175.38,111.58 175.73,111.59 176.07,111.60 176.42,111.60 176.77,111.61 177.11,111.61 177.46,111.62 177.80,111.62 178.15,111.62 178.49,111.63 178.84,111.63 179.19,111.63 179.53,111.63 179.88,111.63 180.22,111.63 180.57,111.63 180.91,111.63 181.26,111.63 181.61,111.63 181.95,111.63 182.30,111.62 182.64,111.62 182.99,111.61 183.33,111.61 183.68,111.60 184.03,111.60 184.37,111.59 184.72,111.59 185.06,111.58 185.41,111.57 185.75,111.56 186.10,111.55 186.45,111.54 186.79,111.53 187.14,111.52 187.48,111.51 187.83,111.50 188.17,111.49 188.52,111.47 188.87,111.46 189.21,111.45 189.56,111.43 189.90,111.42 190.25,111.40 190.59,111.39 190.94,111.37 191.29,111.35 191.63,111.34 191.98,111.32 192.32,111.30 192.67,111.28 193.01,111.26 193.36,111.24 193.71,111.22 194.05,111.20 194.40,111.18 194.74,111.15 195.09,111.13 195.43,111.11 195.78,111.09 196.13,111.06 196.47,111.04 196.82,111.01 197.16,110.98 197.51,110.96 197.85,110.93 198.20,110.90 198.55,110.88 198.89,110.85 199.24,110.82 199.58,110.79 199.93,110.76 200.27,110.73 200.62,110.70 200.97,110.66 201.31,110.63 201.66,110.60 202.00,110.57 202.35,110.53 202.69,110.50 203.04,110.46 203.39,110.43 203.73,110.39 204.08,110.35 204.42,110.32 204.77,110.28 205.11,110.24 205.46,110.20 205.81,110.16 206.15,110.12 206.50,110.08 206.84,110.04 207.19,110.00 207.53,109.96 207.88,109.91 208.23,109.87 208.57,109.82 208.92,109.78 209.26,109.73 209.61,109.69 209.95,109.64 210.30,109.60 210.65,109.55 210.99,109.50 211.34,109.45 211.68,109.40 212.03,109.35 212.37,109.30 212.72,109.25 213.07,109.20 213.41,109.14 213.76,109.09 214.10,109.04 214.45,108.98 214.79,108.93 215.14,108.87 215.49,108.81 215.83,108.76 216.18,108.70 216.52,108.64 216.87,108.58 217.21,108.52 217.56,108.46 217.91,108.40 218.25,108.34 218.60,108.28 218.94,108.21 219.29,108.15 219.63,108.08 219.98,108.02 220.33,107.95 220.67,107.89 221.02,107.82 221.36,107.75 221.71,107.68 222.05,107.61 222.40,107.54 222.75,107.47 223.09,107.40 223.44,107.32 223.78,107.25 224.13,107.18 224.47,107.10 224.82,107.02 225.17,106.95 225.51,106.87 225.86,106.79 226.20,106.71 226.55,106.63 226.89,106.55 227.24,106.47 227.59,106.39 227.93,106.30 228.28,106.22 228.62,106.13 228.97,106.05 229.31,105.96 229.66,105.87 230.01,105.78 230.35,105.69 230.70,105.60 231.04,105.51 231.39,105.42 231.73,105.32 232.08,105.23 232.43,105.13 232.77,105.04 233.12,104.94 233.46,104.84 233.81,104.74 234.15,104.64 234.50,104.54 234.85,104.44 235.19,104.33 235.54,104.23 235.88,104.12 236.23,104.01 236.57,103.90 236.92,103.80 237.27,103.68 237.61,103.57 237.96,103.46 238.30,103.35 238.65,103.23 238.99,103.11 239.34,102.99 239.69,102.88 240.03,102.75 240.38,102.63 240.72,102.51 241.07,102.39 241.41,102.26 241.76,102.13 242.11,102.00 242.45,101.87 242.80,101.74 243.14,101.61 243.49,101.47 243.83,101.34 244.18,101.20 244.53,101.06 244.87,100.92 245.22,100.78 245.56,100.64 245.91,100.49 246.25,100.34 246.60,100.19 246.95,100.04 247.29,99.89 247.64,99.74 247.98,99.58 248.33,99.42 248.67,99.27 249.02,99.10 249.37,98.94 249.71,98.78 250.06,98.61 250.40,98.44 250.75,98.27 251.09,98.10 251.44,97.92 251.79,97.74 252.13,97.56 252.48,97.38 252.82,97.20 253.17,97.01 253.51,96.82 253.86,96.63 254.21,96.44 254.55,96.24 254.90,96.04 255.24,95.84 255.59,95.64 255.93,95.43 256.28,95.22 256.63,95.01 256.97,94.79 257.32,94.57 257.66,94.35 258.01,94.13 258.35,93.90 258.70,93.67 259.05,93.44 259.39,93.20 259.74,92.96 260.08,92.72 260.43,92.47 260.77,92.22 261.12,91.96 261.47,91.70 261.81,91.44 262.16,91.17 262.50,90.90 262.85,90.63 263.19,90.35 263.54,90.06 263.89,89.77 264.23,89.48 264.58,89.18 264.92,88.88 265.27,88.57 265.61,88.26 265.96,87.94 266.31,87.61 266.65,87.28 267.00,86.95 267.34,86.60 267.69,86.26 268.03,85.90 268.38,85.54 268.73,85.17 269.07,84.79 269.42,84.41 269.76,84.02 270.11,83.62 270.45,83.21 270.80,82.79 271.15,82.37 271.49,81.93 271.84,81.49 272.18,81.03 272.53,80.57 272.87,80.09 273.22,79.60 273.57,79.10 273.91,78.59 274.26,78.06 274.60,77.52 274.95,76.97 275.29,76.40 275.64,75.81 275.99,75.21 276.33,74.59 276.68,73.95 277.02,73.29 277.37,72.60 277.71,71.90 278.06,71.17 278.41,70.42 278.75,69.63 279.10,68.82 279.44,67.98 279.79,67.10 280.13,66.18 280.48,65.23 280.83,64.23 281.17,63.18 281.52,62.08 281.86,60.93 282.21,59.72 282.55,58.44 282.90,57.09 283.25,55.66 283.59,54.15 283.94,52.56 284.28,50.88 284.63,49.13 284.97,47.33 285.32,45.51 285.67,43.77 286.01,42.21 286.36,41.00 286.70,40.32 287.05,40.28 287.39,40.86 287.74,41.94 288.09,43.33 288.43,44.89 288.78,46.49 289.12,48.07 289.47,49.59 289.81,51.03 290.16,52.39 290.51,53.66 290.85,54.85 291.20,55.97 291.54,57.01 291.89,57.99 292.23,58.90 292.58,59.77 292.93,60.57 293.27,61.34 293.62,62.05 293.96,62.73 294.31,63.37 294.65,63.97 295.00,64.53 295.35,65.07 295.69,65.58 296.04,66.06 296.38,66.51 296.73,66.94 297.07,67.34 297.42,67.72 297.77,68.08 298.11,68.41 298.46,68.73 298.80,69.03 299.15,69.31 299.49,69.57 299.84,69.81 300.19,70.03 300.53,70.24 300.88,70.44 301.22,70.61 301.57,70.77 301.91,70.92 302.26,71.05 302.61,71.16 302.95,71.26 303.30,71.34 303.64,71.41 303.99,71.47 304.33,71.51 304.68,71.53 305.03,71.55 305.37,71.54 305.72,71.52 306.06,71.49 306.41,71.44 306.75,71.37 307.10,71.29 307.45,71.20 307.79,71.08 308.14,70.96 308.48,70.81 308.83,70.65 309.17,70.46 309.52,70.26 309.87,70.05 310.21,69.81 310.56,69.55 310.90,69.27 311.25,68.96 311.59,68.64 311.94,68.29 312.29,67.91 312.63,67.51 312.98,67.08 313.32,66.62 313.67,66.13 314.01,65.60 314.36,65.04 314.71,64.44 315.05,63.80 315.40,63.12 315.74,62.39 316.09,61.61 316.43,60.77 316.78,59.88 317.13,58.93 317.47,57.91 317.82,56.82 318.16,55.65 318.51,54.42 318.85,53.12 319.20,51.77 319.55,50.38 319.89,49.01 320.24,47.73 320.58,46.63 320.93,45.85 321.27,45.52 321.62,45.80 321.97,46.61 322.31,47.85 322.66,49.39 323.00,51.10 323.35,52.88 323.69,54.68 324.04,56.43 324.39,58.14 324.73,59.77 325.08,61.33 325.42,62.83 325.77,64.25 326.11,65.61 326.46,66.91 326.81,68.15 327.15,69.34 327.50,70.48 327.84,71.58 328.19,72.63 328.53,73.57 328.88,74.46 329.23,75.33 329.57,76.16 329.92,76.96 330.26,77.74 330.61,78.49 330.95,79.21 331.30,79.92 331.65,80.59 331.99,81.25 332.34,81.89 332.68,82.51 333.03,83.11 333.37,83.70 333.72,84.27 334.07,84.82 334.41,85.36 334.76,85.88 335.10,86.40 335.45,86.89 335.79,87.38 336.14,87.85 336.49,88.31 336.83,88.77 337.18,89.20 337.52,89.63 337.87,90.05 338.21,90.46 338.56,90.86 338.91,91.25 339.25,91.64 339.60,92.01 339.94,92.38 340.29,92.73 340.63,93.08 340.98,93.43 341.33,93.76 341.67,94.09 342.02,94.41 342.36,94.72 342.71,95.03 343.05,95.33 343.40,95.62 343.75,95.89 344.09,96.15 344.44,96.41 344.78,96.66 345.13,96.90 345.47,97.14 345.82,97.37 346.17,97.60 346.51,97.82 346.86,98.04 347.20,98.26 347.55,98.46 347.89,98.67 348.24,98.87 348.59,99.06 348.93,99.25 349.28,99.44 349.62,99.62 349.97,99.79 350.31,99.97 350.66,100.13 351.01,100.30 351.35,100.46 351.70,100.62 352.04,100.77 352.39,100.92 352.73,101.06 353.08,101.21 353.43,101.34 353.77,101.48 354.12,101.61 354.46,101.74 354.81,101.86 355.15,101.99 355.50,102.10 355.85,102.22 356.19,102.33 356.54,102.44 356.88,102.55 357.23,102.65 357.57,102.75 357.92,102.85 358.27,102.94 358.61,103.03 358.96,103.12 359.30,103.21 359.65,103.29 359.99,103.38 360.34,103.45 360.69,103.53 361.03,103.60 361.38,103.68 361.72,103.74 362.07,103.81 362.41,103.87 362.76,103.94 363.11,104.00 363.45,104.05 363.80,104.11 364.14,104.16 364.49,104.21 364.83,104.26 365.18,104.31 365.53,104.35 365.87,104.39 366.22,104.43 366.56,104.47 366.91,104.51 367.25,104.54 367.60,104.57 367.95,104.61 368.29,104.63 368.64,104.66 368.98,104.69 369.33,104.71 369.67,104.73 370.02,104.75 370.37,104.77 370.71,104.79 371.06,104.80 371.40,104.83 371.75,104.86 372.09,104.89 372.44,104.92 372.79,104.95 373.13,104.97 373.48,105.00 373.82,105.02 374.17,105.04 374.51,105.06 374.86,105.08 375.21,105.09 375.55,105.11 375.90,105.12 376.24,105.13 376.59,105.14 376.93,105.15 377.28,105.16 377.63,105.17 377.97,105.17 378.32,105.18 378.66,105.18 379.01,105.18 379.35,105.18 379.70,105.18 380.05,105.18 380.39,105.17 380.74,105.17 381.08,105.16 381.43,105.16 381.77,105.15 382.12,105.14 382.47,105.13 382.81,105.12 383.16,105.10 383.50,105.09 383.85,105.07 384.19,105.06 384.54,105.04 384.89,105.02 385.23,105.00 385.58,104.98 385.92,104.96 386.27,104.94 386.61,104.92 386.96,104.89 387.31,104.87 387.65,104.84 388.00,104.81 388.34,104.78 388.69,104.75 389.03,104.72 389.38,104.69 389.73,104.66 390.07,104.63 390.42,104.59 390.76,104.56 391.11,104.52 391.45,104.48 391.80,104.45 392.15,104.41 392.49,104.37 392.84,104.33 393.18,104.29 393.53,104.25 393.87,104.20 394.22,104.16 394.57,104.11 394.91,104.07 395.26,104.02 395.60,103.97 395.95,103.93 396.29,103.88 396.64,103.83 396.99,103.78 397.33,103.73 397.68,103.68 398.02,103.62 398.37,103.57 398.71,103.51 399.06,103.46 399.41,103.40 399.75,103.35 400.10,103.29 400.44,103.23 400.79,103.17 401.13,103.11 401.48,103.05 401.83,102.99 402.17,102.93 402.52,102.87 402.86,102.80 403.21,102.74 403.55,102.67 403.90,102.61 404.25,102.54 404.59,102.47 404.94,102.41 405.28,102.34 405.63,102.27 405.97,102.20 406.32,102.13 406.67,102.06 407.01,101.98 407.36,101.91 407.70,101.84 408.05,101.76 408.39,101.69 408.74,101.61 409.09,101.53 409.43,101.46 409.78,101.38 410.12,101.30 410.47,101.22 410.81,101.14 411.16,101.06 411.51,100.98 411.85,100.90 412.20,100.81 412.54,100.73 412.89,100.65 413.23,100.56 413.58,100.48 413.93,100.39 414.27,100.30 414.62,100.21 414.96,100.13 415.31,100.04 415.65,99.95 416.00,99.86 416.35,99.76 416.69,99.67 417.04,99.58 417.38,99.49 417.73,99.39 418.07,99.30 418.42,99.20 418.77,99.11 419.11,99.01 419.46,98.91 419.80,98.81 420.15,98.71 420.49,98.61 420.84,98.51 421.19,98.41 421.53,98.31 421.88,98.21 422.22,98.10 422.57,98.00 422.91,97.89 423.26,97.79 423.61,97.68 423.95,97.57 424.30,97.46 424.64,97.35 424.99,97.24 425.33,97.13 425.68,97.02 426.03,96.91 426.37,96.80 426.72,96.68 427.06,96.57 427.41,96.45 427.75,96.34 428.10,96.22 428.45,96.10 428.79,95.98 429.14,95.87 429.48,95.75 429.83,95.62 430.17,95.50 430.52,95.38 430.87,95.26 431.21,95.13 431.56,95.01 431.90,94.88 432.25,94.75 432.59,94.63 432.94,94.50 433.29,94.37 433.63,94.24 433.98,94.10 434.32,93.97 434.67,93.84 435.01,93.70 435.36,93.57 435.71,93.43 436.05,93.29 436.40,93.16 436.74,93.02 437.09,92.88 437.43,92.74 437.78,92.59 438.13,92.45 438.47,92.31 438.82,92.16 439.16,92.01 439.51,91.87 439.85,91.72 440.20,91.57 440.55,91.42 440.89,91.27 441.24,91.11 441.58,90.96 441.93,90.80 442.27,90.65 442.62,90.49 442.97,90.33 443.31,90.17 443.66,90.01 444.00,89.85 444.35,89.68 444.69,89.52 445.04,89.35 445.39,89.18 445.73,89.01 446.08,88.84 446.42,88.67 446.77,88.50 447.11,88.32 447.46,88.15 447.81,87.97 448.15,87.79 448.50,87.61 448.84,87.43 449.19,87.25 449.53,87.06 449.88,86.87 450.23,86.69 450.57,86.50 450.92,86.30 451.26,86.11 451.61,85.92 451.95,85.72 452.30,85.52 452.65,85.32 452.99,85.12 453.34,84.92 453.68,84.71 454.03,84.50 454.37,84.29 454.72,84.08 455.07,83.87 455.41,83.65 455.76,83.43 456.10,83.21 456.45,82.99 456.79,82.77 457.14,82.54 457.49,82.31 457.83,82.08 458.18,81.84 458.52,81.61 458.87,81.37 459.21,81.13 459.56,80.88 459.91,80.64 460.25,80.39 460.60,80.13 460.94,79.88 461.29,79.62 461.63,79.36 461.98,79.09 462.33,78.83 462.67,78.56 463.02,78.28 463.36,78.00 463.71,77.72 464.05,77.44 464.40,77.15 464.75,76.86 465.09,76.56 465.44,76.26 465.78,75.96 466.13,75.65 466.47,75.33 466.82,75.02 467.17,74.69 467.51,74.37 467.86,74.03 468.20,73.70 468.55,73.36 468.89,73.01 469.24,72.65 469.59,72.30 469.93,71.93 470.28,71.56 470.62,71.18 470.97,70.80 471.31,70.41 471.66,70.01 472.01,69.60 472.35,69.19 472.70,68.77 473.04,68.34 473.39,67.90 473.73,67.45 474.08,66.99 474.43,66.53 474.77,66.05 475.12,65.56 475.46,65.07 475.81,64.56 476.15,64.03 476.50,63.50 476.85,62.95 477.19,62.38 477.54,61.81 477.88,61.21 478.23,60.60 478.57,59.98 478.92,59.33 479.27,58.66 479.61,57.98 479.96,57.27 480.30,56.54 480.65,55.79 480.99,55.01 481.34,54.20 481.69,53.37 482.03,52.50 482.38,51.61 482.72,50.68 483.07,49.72 483.41,48.72 483.76,47.69 484.11,46.63 484.45,45.54 484.80,44.42 485.14,43.28 485.49,42.14 485.83,41.00 486.18,39.90 486.53,38.86 486.87,37.92 487.22,37.14 487.56,36.55 487.91,36.21 488.25,36.12 488.60,36.31 488.95,36.74 489.29,37.39 489.64,38.20 489.98,39.12 490.33,40.12 490.67,41.16 491.02,42.22 491.37,43.28 491.71,44.44 492.06,45.55 492.40,46.62 492.75,47.65 493.09,48.65 493.44,49.60 493.79,50.53 494.13,51.41 494.48,52.26 494.82,53.09 495.17,53.88 495.51,54.64 495.86,55.38 496.21,56.09 496.55,56.77 496.90,57.44 497.24,58.08 497.59,58.70 497.93,59.31 498.28,59.89 498.63,60.46 498.97,61.01 499.32,61.54 499.66,62.06 500.01,62.57 500.35,63.06 500.70,63.54 501.05,64.01 501.39,64.46 501.74,64.91 502.08,65.34 502.43,65.76 502.77,66.18 503.12,66.58 503.47,66.98 503.81,67.31 504.16,67.64 504.50,67.96 504.85,68.27 505.19,68.58 505.54,68.88 505.89,69.17 506.23,69.45 506.58,69.73 506.92,70.00 507.27,70.27 507.61,70.53 507.96,70.79 508.31,71.04 508.65,71.28 509.00,71.52 509.34,71.76 509.69,71.99 510.03,72.21 510.38,72.44 510.73,72.65 511.07,72.86 511.42,73.07 511.76,73.28 512.11,73.48 512.45,73.68 512.80,73.87 513.15,74.06 513.49,74.24 513.84,74.43 514.18,74.61 514.53,74.78 514.87,74.96 515.22,75.12 515.57,75.29 515.91,75.46 516.26,75.62 516.60,75.77 516.95,75.93 517.29,76.08 517.64,76.23 517.99,76.38 518.33,76.52 518.68,76.66 519.02,76.80 519.37,76.94 519.71,77.08 520.06,77.21 520.41,77.34 520.75,77.47 521.10,77.59 521.44,77.71 521.79,77.84 522.13,77.95 522.48,78.07 522.83,78.19 523.17,78.30 523.52,78.41 523.86,78.52 524.21,78.63 524.55,78.73 524.90,78.84 525.25,78.94 525.59,79.04 525.94,79.14 526.28,79.23 526.63,79.33 526.97,79.42 527.32,79.51 527.67,79.60 528.01,79.69 528.36,79.78 528.70,79.86 529.05,79.94 529.39,80.03 529.74,80.11 530.09,80.19 530.43,80.26 530.78,80.34 531.12,80.41 531.47,80.49 531.81,80.56 532.16,80.63 532.51,80.70 532.85,80.77 533.20,80.83 533.54,80.90 533.89,80.96 534.23,81.02 534.58,81.08 534.93,81.14 535.27,81.20 535.62,81.26 535.96,81.32 536.31,81.37 536.65,81.43 537.00,81.48"/>
<polyline fill="none" stroke="#00f" stroke-width="1.8" stroke-linejoin="round" stroke-dasharray="4 1.6 1.2 1.6" points="53.00,150.99 53.35,150.86 53.69,150.72 54.04,150.58 54.38,150.43 54.73,150.27 55.07,150.10 55.42,149.92 55.77,149.73 56.11,149.54 56.46,149.34 56.80,149.13 57.15,148.92 57.49,148.69 57.84,148.46 58.19,148.23 58.53,147.98 58.88,147.73 59.22,147.48 59.57,147.21 59.91,146.95 60.26,146.67 60.61,146.39 60.95,146.11 61.30,145.82 61.64,145.52 61.99,145.22 62.33,144.92 62.68,144.61 63.03,144.29 63.37,143.98 63.72,143.66 64.06,143.33 64.41,143.00 64.75,142.67 65.10,142.34 65.45,142.00 65.79,141.66 66.14,141.32 66.48,140.97 66.83,140.62 67.17,140.27 67.52,139.92 67.87,139.57 68.21,139.21 68.56,138.85 68.90,138.49 69.25,138.13 69.59,137.76 69.94,137.40 70.29,137.03 70.63,136.66 70.98,136.29 71.32,135.92 71.67,135.54 72.01,135.17 72.36,134.79 72.71,134.41 73.05,134.04 73.40,133.66 73.74,133.28 74.09,132.89 74.43,132.50 74.78,132.11 75.13,131.72 75.47,131.32 75.82,130.92 76.16,130.52 76.51,130.11 76.85,129.70 77.20,129.28 77.55,128.86 77.89,128.44 78.24,128.02 78.58,127.59 78.93,127.16 79.27,126.72 79.62,126.28 79.97,125.84 80.31,125.39 80.66,124.94 81.00,124.49 81.35,124.03 81.69,123.57 82.04,123.11 82.39,122.64 82.73,122.17 83.08,121.69 83.42,121.21 83.77,120.73 84.11,120.24 84.46,119.74 84.81,119.25 85.15,118.74 85.50,118.24 85.84,117.73 86.19,117.21 86.53,116.69 86.88,116.16 87.23,115.63 87.57,115.09 87.92,114.55 88.26,114.00 88.61,113.44 88.95,112.88 89.30,112.30 89.65,111.72 89.99,111.13 90.34,110.54 90.68,109.93 91.03,109.31 91.37,108.68 91.72,108.04 92.07,107.39 92.41,106.73 92.76,106.05 93.10,105.36 93.45,104.65 93.79,103.93 94.14,103.19 94.49,102.43 94.83,101.65 95.18,100.86 95.52,100.04 95.87,99.19 96.21,98.33 96.56,97.43 96.91,96.51 97.25,95.55 97.60,94.57 97.94,93.54 98.29,92.47 98.63,91.34 98.98,90.14 99.33,88.88 99.67,87.56 100.02,86.17 100.36,84.73 100.71,83.22 101.05,81.64 101.40,79.97 101.75,78.18 102.09,76.28 102.44,74.22 102.78,71.98 103.13,69.53 103.47,66.84 103.82,63.88 104.17,60.69 104.51,57.46 104.86,54.73 105.20,53.48 105.55,54.35 105.89,56.80 106.24,59.83 106.59,62.84 106.93,65.61 107.28,68.21 107.62,70.55 107.97,72.65 108.31,74.55 108.66,76.28 109.01,77.87 109.35,79.34 109.70,80.71 110.04,81.99 110.39,83.21 110.73,84.35 111.08,85.45 111.43,86.51 111.77,87.54 112.12,88.52 112.46,89.47 112.81,90.37 113.15,91.24 113.50,92.08 113.85,92.89 114.19,93.54 114.54,94.16 114.88,94.77 115.23,95.36 115.57,95.92 115.92,96.47 116.27,97.01 116.61,97.52 116.96,98.03 117.30,98.51 117.65,98.99 117.99,99.45 118.34,99.90 118.69,100.34 119.03,100.77 119.38,101.18 119.72,101.59 120.07,101.99 120.41,102.37 120.76,102.75 121.11,103.12 121.45,103.48 121.80,103.83 122.14,104.17 122.49,104.50 122.83,104.83 123.18,105.15 123.53,105.46 123.87,105.76 124.22,106.06 124.56,106.34 124.91,106.62 125.25,106.89 125.60,107.16 125.95,107.38 126.29,107.59 126.64,107.80 126.98,108.00 127.33,108.19 127.67,108.37 128.02,108.55 128.37,108.72 128.71,108.88 129.06,109.03 129.40,109.18 129.75,109.33 130.09,109.47 130.44,109.61 130.79,109.74 131.13,109.87 131.48,110.00 131.82,110.13 132.17,110.25 132.51,110.37 132.86,110.48 133.21,110.60 133.55,110.71 133.90,110.81 134.24,110.92 134.59,111.02 134.93,111.12 135.28,111.22 135.63,111.32 135.97,111.41 136.32,111.50 136.66,111.59 137.01,111.67 137.35,111.76 137.70,111.84 138.05,111.92 138.39,112.00 138.74,112.07 139.08,112.15 139.43,112.22 139.77,112.29 140.12,112.36 140.47,112.42 140.81,112.49 141.16,112.55 141.50,112.61 141.85,112.67 142.19,112.73 142.54,112.78 142.89,112.84 143.23,112.89 143.58,112.94 143.92,112.99 144.27,113.04 144.61,113.09 144.96,113.13 145.31,113.18 145.65,113.22 146.00,113.26 146.34,113.30 146.69,113.34 147.03,113.38 147.38,113.41 147.73,113.45 148.07,113.48 148.42,113.51 148.76,113.55 149.11,113.58 149.45,113.60 149.80,113.63 150.15,113.70 150.49,113.76 150.84,113.82 151.18,113.88 151.53,113.94 151.87,114.00 152.22,114.05 152.57,114.11 152.91,114.16 153.26,114.22 153.60,114.27 153.95,114.32 154.29,114.37 154.64,114.42 154.99,114.47 155.33,114.52 155.68,114.57 156.02,114.61 156.37,114.66 156.71,114.70 157.06,114.75 157.41,114.79 157.75,114.83 158.10,114.87 158.44,114.91 158.79,114.95 159.13,114.99 159.48,115.02 159.83,115.06 160.17,115.09 160.52,115.13 160.86,115.16 161.21,115.19 161.55,115.22 161.90,115.25 162.25,115.28 162.59,115.31 162.94,115.34 163.28,115.37 163.63,115.39 163.97,115.42 164.32,115.44 164.67,115.47 165.01,115.49 165.36,115.51 165.70,115.53 166.05,115.56 166.39,115.58 166.74,115.59 167.09,115.61 167.43,115.63 167.78,115.65 168.12,115.66 168.47,115.68 168.81,115.69 169.16,115.71 169.51,115.72 169.85,115.73 170.20,115.75 170.54,115.76 170.89,115.77 171.23,115.78 171.58,115.79 171.93,115.79 172.27,115.80 172.62,115.81 172.96,115.82 173.31,115.82 173.65,115.83 174.00,115.83 174.35,115.84 174.69,115.84 175.04,115.84 175.38,115.85 175.73,115.85 176.07,115.85 176.42,115.85 176.77,115.85 177.11,115.85 177.46,115.85 177.80,115.84 178.15,115.84 178.49,115.84 178.84,115.84 179.19,115.83 179.53,115.83 179.88,115.82 180.22,115.81 180.57,115.81 180.91,115.80 181.26,115.79 181.61,115.79 181.95,115.78 182.30,115.77 182.64,115.76 182.99,115.75 183.33,115.74 183.68,115.73 184.03,115.71 184.37,115.70 184.72,115.69 185.06,115.68 185.41,115.66 185.75,115.65 186.10,115.63 186.45,115.62 186.79,115.60 187.14,115.59 187.48,115.57 187.83,115.55 188.17,115.53 188.52,115.52 188.87,115.50 189.21,115.48 189.56,115.46 189.90,115.44 190.25,115.42 190.59,115.40 190.94,115.38 191.29,115.35 191.63,115.33 191.98,115.31 192.32,115.28 192.67,115.26 193.01,115.24 193.36,115.21 193.71,115.18 194.05,115.16 194.40,115.13 194.74,115.10 195.09,115.08 195.43,115.05 195.78,115.02 196.13,114.99 196.47,114.96 196.82,114.93 197.16,114.90 197.51,114.87 197.85,114.84 198.20,114.80 198.55,114.77 198.89,114.74 199.24,114.70 199.58,114.67 199.93,114.63 200.27,114.60 200.62,114.56 200.97,114.52 201.31,114.49 201.66,114.45 202.00,114.41 202.35,114.37 202.69,114.33 203.04,114.29 203.39,114.25 203.73,114.21 204.08,114.17 204.42,114.13 204.77,114.08 205.11,114.04 205.46,114.00 205.81,113.95 206.15,113.91 206.50,113.86 206.84,113.81 207.19,113.77 207.53,113.72 207.88,113.67 208.23,113.62 208.57,113.57 208.92,113.53 209.26,113.47 209.61,113.42 209.95,113.37 210.30,113.32 210.65,113.27 210.99,113.21 211.34,113.16 211.68,113.11 212.03,113.05 212.37,112.99 212.72,112.94 213.07,112.88 213.41,112.82 213.76,112.77 214.10,112.71 214.45,112.65 214.79,112.59 215.14,112.53 215.49,112.46 215.83,112.40 216.18,112.34 216.52,112.28 216.87,112.21 217.21,112.15 217.56,112.08 217.91,112.01 218.25,111.95 218.60,111.88 218.94,111.81 219.29,111.74 219.63,111.67 219.98,111.60 220.33,111.53 220.67,111.46 221.02,111.39 221.36,111.31 221.71,111.24 222.05,111.17 222.40,111.09 222.75,111.01 223.09,110.94 223.44,110.86 223.78,110.78 224.13,110.70 224.47,110.62 224.82,110.54 225.17,110.46 225.51,110.37 225.86,110.29 226.20,110.21 226.55,110.12 226.89,110.04 227.24,109.95 227.59,109.86 227.93,109.77 228.28,109.68 228.62,109.59 228.97,109.50 229.31,109.41 229.66,109.32 230.01,109.22 230.35,109.13 230.70,109.03 231.04,108.94 231.39,108.84 231.73,108.74 232.08,108.64 232.43,108.54 232.77,108.44 233.12,108.34 233.46,108.23 233.81,108.13 234.15,108.02 234.50,107.92 234.85,107.81 235.19,107.70 235.54,107.59 235.88,107.48 236.23,107.37 236.57,107.25 236.92,107.14 237.27,107.02 237.61,106.91 237.96,106.79 238.30,106.67 238.65,106.55 238.99,106.43 239.34,106.30 239.69,106.18 240.03,106.05 240.38,105.93 240.72,105.80 241.07,105.67 241.41,105.54 241.76,105.41 242.11,105.27 242.45,105.14 242.80,105.00 243.14,104.86 243.49,104.73 243.83,104.58 244.18,104.44 244.53,104.30 244.87,104.15 245.22,104.01 245.56,103.86 245.91,103.71 246.25,103.55 246.60,103.40 246.95,103.25 247.29,103.09 247.64,102.93 247.98,102.77 248.33,102.61 248.67,102.44 249.02,102.28 249.37,102.11 249.71,101.94 250.06,101.77 250.40,101.59 250.75,101.41 251.09,101.24 251.44,101.06 251.79,100.87 252.13,100.69 252.48,100.50 252.82,100.31 253.17,100.12 253.51,99.93 253.86,99.73 254.21,99.53 254.55,99.33 254.90,99.13 255.24,98.92 255.59,98.71 255.93,98.50 256.28,98.28 256.63,98.07 256.97,97.85 257.32,97.62 257.66,97.40 258.01,97.17 258.35,96.93 258.70,96.70 259.05,96.46 259.39,96.22 259.74,95.97 260.08,95.72 260.43,95.47 260.77,95.21 261.12,94.95 261.47,94.69 261.81,94.42 262.16,94.15 262.50,93.87 262.85,93.59 263.19,93.30 263.54,93.01 263.89,92.72 264.23,92.42 264.58,92.11 264.92,91.81 265.27,91.49 265.61,91.17 265.96,90.85 266.31,90.52 266.65,90.18 267.00,89.84 267.34,89.49 267.69,89.13 268.03,88.77 268.38,88.40 268.73,88.03 269.07,87.64 269.42,87.25 269.76,86.86 270.11,86.45 270.45,86.04 270.80,85.61 271.15,85.18 271.49,84.74 271.84,84.29 272.18,83.83 272.53,83.36 272.87,82.87 273.22,82.38 273.57,81.87 273.91,81.35 274.26,80.82 274.60,80.27 274.95,79.71 275.29,79.14 275.64,78.54 275.99,77.93 276.33,77.31 276.68,76.66 277.02,75.99 277.37,75.30 277.71,74.59 278.06,73.86 278.41,73.10 278.75,72.31 279.10,71.49 279.44,70.64 279.79,69.75 280.13,68.83 280.48,67.87 280.83,66.86 281.17,65.81 281.52,64.71 281.86,63.55 282.21,62.33 282.55,61.04 282.90,59.69 283.25,58.25 283.59,56.74 283.94,55.14 284.28,53.46 284.63,51.70 284.97,49.89 285.32,48.07 285.67,46.32 286.01,44.75 286.36,43.54 286.70,42.85 287.05,42.80 287.39,43.38 287.74,44.45 288.09,45.84 288.43,47.39 288.78,48.99 289.12,50.56 289.47,52.07 289.81,53.51 290.16,54.86 290.51,56.13 290.85,57.31 291.20,58.42 291.54,59.46 291.89,60.43 292.23,61.35 292.58,62.20 292.93,63.01 293.27,63.76 293.62,64.47 293.96,65.14 294.31,65.78 294.65,66.37 295.00,66.93 295.35,67.47 295.69,67.97 296.04,68.44 296.38,68.89 296.73,69.31 297.07,69.71 297.42,70.08 297.77,70.44 298.11,70.77 298.46,71.08 298.80,71.37 299.15,71.65 299.49,71.90 299.84,72.14 300.19,72.36 300.53,72.57 300.88,72.75 301.22,72.92 301.57,73.08 301.91,73.22 302.26,73.34 302.61,73.45 302.95,73.55 303.30,73.63 303.64,73.69 303.99,73.74 304.33,73.78 304.68,73.80 305.03,73.81 305.37,73.80 305.72,73.77 306.06,73.73 306.41,73.68 306.75,73.61 307.10,73.53 307.45,73.42 307.79,73.31 308.14,73.17 308.48,73.02 308.83,72.85 309.17,72.67 309.52,72.46 309.87,72.24 310.21,72.00 310.56,71.73 310.90,71.45 311.25,71.14 311.59,70.81 311.94,70.45 312.29,70.07 312.63,69.67 312.98,69.23 313.32,68.77 313.67,68.27 314.01,67.74 314.36,67.18 314.71,66.57 315.05,65.93 315.40,65.24 315.74,64.50 316.09,63.72 316.43,62.88 316.78,61.98 317.13,61.02 317.47,60.00 317.82,58.91 318.16,57.74 318.51,56.50 318.85,55.20 319.20,53.84 319.55,52.45 319.89,51.07 320.24,49.78 320.58,48.68 320.93,47.90 321.27,47.57 321.62,47.85 321.97,48.65 322.31,49.88 322.66,51.41 323.00,53.12 323.35,54.90 323.69,56.69 324.04,58.45 324.39,60.14 324.73,61.77 325.08,63.33 325.42,64.82 325.77,66.24 326.11,67.59 326.46,68.89 326.81,70.13 327.15,71.31 327.50,72.45 327.84,73.54 328.19,74.59 328.53,75.52 328.88,76.42 329.23,77.28 329.57,78.11 329.92,78.90 330.26,79.68 330.61,80.42 330.95,81.14 331.30,81.84 331.65,82.51 331.99,83.17 332.34,83.80 332.68,84.42 333.03,85.02 333.37,85.60 333.72,86.16 334.07,86.71 334.41,87.25 334.76,87.77 335.10,88.28 335.45,88.77 335.79,89.25 336.14,89.72 336.49,90.18 336.83,90.63 337.18,91.06 337.52,91.49 337.87,91.90 338.21,92.31 338.56,92.70 338.91,93.09 339.25,93.47 339.60,93.84 339.94,94.20 340.29,94.56 340.63,94.90 340.98,95.24 341.33,95.57 341.67,95.89 342.02,96.21 342.36,96.52 342.71,96.82 343.05,97.12 343.40,97.41 343.75,97.68 344.09,97.93 344.44,98.19 344.78,98.43 345.13,98.67 345.47,98.91 345.82,99.14 346.17,99.36 346.51,99.58 346.86,99.80 347.20,100.01 347.55,100.21 347.89,100.41 348.24,100.61 348.59,100.80 348.93,100.98 349.28,101.17 349.62,101.34 349.97,101.52 350.31,101.69 350.66,101.85 351.01,102.01 351.35,102.17 351.70,102.32 352.04,102.47 352.39,102.62 352.73,102.76 353.08,102.90 353.43,103.04 353.77,103.17 354.12,103.30 354.46,103.42 354.81,103.54 355.15,103.66 355.50,103.78 355.85,103.89 356.19,104.00 356.54,104.10 356.88,104.21 357.23,104.31 357.57,104.40 357.92,104.50 358.27,104.59 358.61,104.68 358.96,104.77 359.30,104.85 359.65,104.93 359.99,105.01 360.34,105.08 360.69,105.16 361.03,105.23 361.38,105.30 361.72,105.36 362.07,105.43 362.41,105.49 362.76,105.55 363.11,105.60 363.45,105.66 363.80,105.71 364.14,105.76 364.49,105.81 364.83,105.85 365.18,105.90 365.53,105.94 365.87,105.98 366.22,106.02 366.56,106.05 366.91,106.09 367.25,106.12 367.60,106.15 367.95,106.18 368.29,106.20 368.64,106.23 368.98,106.25 369.33,106.27 369.67,106.29 370.02,106.31 370.37,106.32 370.71,106.34 371.06,106.35 371.40,106.38 371.75,106.41 372.09,106.43 372.44,106.46 372.79,106.48 373.13,106.51 373.48,106.53 373.82,106.55 374.17,106.57 374.51,106.58 374.86,106.60 375.21,106.61 375.55,106.62 375.90,106.63 376.24,106.64 376.59,106.65 376.93,106.66 377.28,106.66 377.63,106.67 377.97,106.67 378.32,106.67 378.66,106.67 379.01,106.67 379.35,106.67 379.70,106.67 380.05,106.66 380.39,106.66 380.74,106.65 381.08,106.64 381.43,106.63 381.77,106.62 382.12,106.61 382.47,106.60 382.81,106.58 383.16,106.57 383.50,106.55 383.85,106.53 384.19,106.51 384.54,106.49 384.89,106.47 385.23,106.45 385.58,106.43 385.92,106.41 386.27,106.38 386.61,106.36 386.96,106.33 387.31,106.30 387.65,106.27 388.00,106.24 388.34,106.21 388.69,106.18 389.03,106.15 389.38,106.11 389.73,106.08 390.07,106.04 390.42,106.01 390.76,105.97 391.11,105.93 391.45,105.89 391.80,105.85 392.15,105.81 392.49,105.77 392.84,105.73 393.18,105.69 393.53,105.64 393.87,105.60 394.22,105.55 394.57,105.50 394.91,105.46 395.26,105.41 395.60,105.36 395.95,105.31 396.29,105.26 396.64,105.21 396.99,105.15 397.33,105.10 397.68,105.05 398.02,104.99 398.37,104.94 398.71,104.88 399.06,104.82 399.41,104.77 399.75,104.71 400.10,104.65 400.44,104.59 400.79,104.53 401.13,104.46 401.48,104.40 401.83,104.34 402.17,104.27 402.52,104.21 402.86,104.14 403.21,104.08 403.55,104.01 403.90,103.94 404.25,103.88 404.59,103.81 404.94,103.74 405.28,103.67 405.63,103.60 405.97,103.52 406.32,103.45 406.67,103.38 407.01,103.30 407.36,103.23 407.70,103.15 408.05,103.08 408.39,103.00 408.74,102.92 409.09,102.84 409.43,102.76 409.78,102.68 410.12,102.60 410.47,102.52 410.81,102.44 411.16,102.36 411.51,102.28 411.85,102.19 412.20,102.11 412.54,102.02 412.89,101.94 413.23,101.85 413.58,101.76 413.93,101.67 414.27,101.59 414.62,101.50 414.96,101.41 415.31,101.31 415.65,101.22 416.00,101.13 416.35,101.04 416.69,100.94 417.04,100.85 417.38,100.75 417.73,100.66 418.07,100.56 418.42,100.46 418.77,100.37 419.11,100.27 419.46,100.17 419.80,100.07 420.15,99.97 420.49,99.87 420.84,99.76 421.19,99.66 421.53,99.56 421.88,99.45 422.22,99.35 422.57,99.24 422.91,99.13 423.26,99.03 423.61,98.92 423.95,98.81 424.30,98.70 424.64,98.59 424.99,98.48 425.33,98.37 425.68,98.25 426.03,98.14 426.37,98.03 426.72,97.91 427.06,97.79 427.41,97.68 427.75,97.56 428.10,97.44 428.45,97.32 428.79,97.20 429.14,97.08 429.48,96.96 429.83,96.84 430.17,96.71 430.52,96.59 430.87,96.47 431.21,96.34 431.56,96.21 431.90,96.09 432.25,95.96 432.59,95.83 432.94,95.70 433.29,95.57 433.63,95.43 433.98,95.30 434.32,95.17 434.67,95.03 435.01,94.90 435.36,94.76 435.71,94.62 436.05,94.48 436.40,94.34 436.74,94.20 437.09,94.06 437.43,93.92 437.78,93.78 438.13,93.63 438.47,93.49 438.82,93.34 439.16,93.19 439.51,93.04 439.85,92.89 440.20,92.74 440.55,92.59 440.89,92.44 441.24,92.28 441.58,92.13 441.93,91.97 442.27,91.81 442.62,91.65 442.97,91.49 443.31,91.33 443.66,91.17 444.00,91.01 444.35,90.84 444.69,90.67 445.04,90.51 445.39,90.34 445.73,90.17 446.08,90.00 446.42,89.82 446.77,89.65 447.11,89.47 447.46,89.29 447.81,89.12 448.15,88.94 448.50,88.75 448.84,88.57 449.19,88.39 449.53,88.20 449.88,88.01 450.23,87.82 450.57,87.63 450.92,87.44 451.26,87.24 451.61,87.05 451.95,86.85 452.30,86.65 452.65,86.45 452.99,86.25 453.34,86.04 453.68,85.83 454.03,85.62 454.37,85.41 454.72,85.20 455.07,84.99 455.41,84.77 455.76,84.55 456.10,84.33 456.45,84.10 456.79,83.88 457.14,83.65 457.49,83.42 457.83,83.19 458.18,82.95 458.52,82.71 458.87,82.47 459.21,82.23 459.56,81.99 459.91,81.74 460.25,81.49 460.60,81.23 460.94,80.98 461.29,80.72 461.63,80.45 461.98,80.19 462.33,79.92 462.67,79.65 463.02,79.37 463.36,79.09 463.71,78.81 464.05,78.52 464.40,78.23 464.75,77.94 465.09,77.64 465.44,77.34 465.78,77.04 466.13,76.73 466.47,76.41 466.82,76.09 467.17,75.77 467.51,75.44 467.86,75.11 468.20,74.77 468.55,74.43 468.89,74.08 469.24,73.72 469.59,73.36 469.93,73.00 470.28,72.63 470.62,72.25 470.97,71.86 471.31,71.47 471.66,71.07 472.01,70.66 472.35,70.25 472.70,69.83 473.04,69.39 473.39,68.96 473.73,68.51 474.08,68.05 474.43,67.58 474.77,67.10 475.12,66.61 475.46,66.11 475.81,65.60 476.15,65.08 476.50,64.54 476.85,63.99 477.19,63.43 477.54,62.85 477.88,62.25 478.23,61.64 478.57,61.01 478.92,60.37 479.27,59.70 479.61,59.01 479.96,58.31 480.30,57.58 480.65,56.82 480.99,56.04 481.34,55.23 481.69,54.40 482.03,53.53 482.38,52.63 482.72,51.70 483.07,50.74 483.41,49.75 483.76,48.72 484.11,47.65 484.45,46.56 484.80,45.44 485.14,44.30 485.49,43.15 485.83,42.02 486.18,40.91 486.53,39.87 486.87,38.94 487.22,38.15 487.56,37.57 487.91,37.22 488.25,37.13 488.60,37.32 488.95,37.75 489.29,38.39 489.64,39.20 489.98,40.13 490.33,41.13 490.67,42.17 491.02,43.22 491.37,44.28 491.71,45.44 492.06,46.55 492.40,47.62 492.75,48.65 493.09,49.64 493.44,50.60 493.79,51.52 494.13,52.40 494.48,53.26 494.82,54.08 495.17,54.87 495.51,55.63 495.86,56.37 496.21,57.08 496.55,57.76 496.90,58.42 497.24,59.07 497.59,59.69 497.93,60.29 498.28,60.87 498.63,61.44 498.97,61.99 499.32,62.52 499.66,63.04 500.01,63.55 500.35,64.04 500.70,64.52 501.05,64.98 501.39,65.44 501.74,65.88 502.08,66.31 502.43,66.74 502.77,67.15 503.12,67.55 503.47,67.95 503.81,68.28 504.16,68.61 504.50,68.93 504.85,69.24 505.19,69.54 505.54,69.84 505.89,70.13 506.23,70.42 506.58,70.69 506.92,70.96 507.27,71.23 507.61,71.49 507.96,71.75 508.31,71.99 508.65,72.24 509.00,72.48 509.34,72.71 509.69,72.94 510.03,73.17 510.38,73.39 510.73,73.60 511.07,73.82 511.42,74.02 511.76,74.23 512.11,74.43 512.45,74.62 512.80,74.82 513.15,75.00 513.49,75.19 513.84,75.37 514.18,75.55 514.53,75.73 514.87,75.90 515.22,76.07 515.57,76.23 515.91,76.40 516.26,76.56 516.60,76.71 516.95,76.87 517.29,77.02 517.64,77.17 517.99,77.31 518.33,77.46 518.68,77.60 519.02,77.74 519.37,77.87 519.71,78.01 520.06,78.14 520.41,78.27 520.75,78.40 521.10,78.52 521.44,78.64 521.79,78.76 522.13,78.88 522.48,79.00 522.83,79.11 523.17,79.23 523.52,79.34 523.86,79.45 524.21,79.55 524.55,79.66 524.90,79.76 525.25,79.86 525.59,79.96 525.94,80.06 526.28,80.15 526.63,80.25 526.97,80.34 527.32,80.43 527.67,80.52 528.01,80.61 528.36,80.69 528.70,80.78 529.05,80.86 529.39,80.94 529.74,81.02 530.09,81.10 530.43,81.18 530.78,81.25 531.12,81.33 531.47,81.40 531.81,81.47 532.16,81.54 532.51,81.61 532.85,81.68 533.20,81.74 533.54,81.81 533.89,81.87 534.23,81.93 534.58,81.99 534.93,82.05 535.27,82.11 535.62,82.17 535.96,82.22 536.31,82.28 536.65,82.33 537.00,82.38"/>
<polyline fill="none" stroke="#00f" stroke-width="1.8" stroke-linejoin="round" stroke-dasharray="4 1.6 1.2 1.6" points="53.00,189.20 53.35,189.04 53.69,188.88 54.04,188.71 54.38,188.53 54.73,188.35 55.07,188.16 55.42,187.97 55.77,187.76 56.11,187.55 56.46,187.33 56.80,187.11 57.15,186.88 57.49,186.65 57.84,186.40 58.19,186.16 58.53,185.90 58.88,185.64 59.22,185.38 59.57,185.11 59.91,184.83 60.26,184.55 60.61,184.26 60.95,183.97 61.30,183.68 61.64,183.38 61.99,183.07 62.33,182.77 62.68,182.45 63.03,182.14 63.37,181.82 63.72,181.50 64.06,181.17 64.41,180.84 64.75,180.51 65.10,180.18 65.45,179.84 65.79,179.50 66.14,179.15 66.48,178.81 66.83,178.46 67.17,178.11 67.52,177.75 67.87,177.40 68.21,177.04 68.56,176.68 68.90,176.32 69.25,175.95 69.59,175.58 69.94,175.22 70.29,174.84 70.63,174.47 70.98,174.10 71.32,173.72 71.67,173.34 72.01,172.96 72.36,172.58 72.71,172.19 73.05,171.81 73.40,171.42 73.74,171.03 74.09,170.63 74.43,170.24 74.78,169.84 75.13,169.44 75.47,169.04 75.82,168.63 76.16,168.23 76.51,167.82 76.85,167.41 77.20,167.00 77.55,166.58 77.89,166.16 78.24,165.74 78.58,165.32 78.93,164.89 79.27,164.46 79.62,164.03 79.97,163.59 80.31,163.16 80.66,162.72 81.00,162.27 81.35,161.82 81.69,161.37 82.04,160.92 82.39,160.46 82.73,159.99 83.08,159.53 83.42,159.06 83.77,158.58 84.11,158.10 84.46,157.62 84.81,157.13 85.15,156.63 85.50,156.13 85.84,155.63 86.19,155.12 86.53,154.60 86.88,154.08 87.23,153.55 87.57,153.02 87.92,152.48 88.26,151.93 88.61,151.37 88.95,150.81 89.30,150.24 89.65,149.66 89.99,149.07 90.34,148.47 90.68,147.86 91.03,147.24 91.37,146.61 91.72,145.97 92.07,145.32 92.41,144.66 92.76,143.98 93.10,143.29 93.45,142.58 93.79,141.86 94.14,141.12 94.49,140.36 94.83,139.58 95.18,138.79 95.52,137.97 95.87,137.13 96.21,136.27 96.56,135.37 96.91,134.45 97.25,133.50 97.60,132.51 97.94,131.49 98.29,130.42 98.63,129.31 98.98,128.15 99.33,126.94 99.67,125.67 100.02,124.32 100.36,122.90 100.71,121.40 101.05,119.79 101.40,118.07 101.75,116.22 102.09,114.21 102.44,112.03 102.78,109.63 103.13,107.00 103.47,104.09 103.82,100.92 104.17,97.59 104.51,94.46 104.86,92.26 105.20,92.13 105.55,93.90 105.89,96.69 106.24,99.69 106.59,102.54 106.93,105.13 107.28,107.59 107.62,109.82 107.97,111.83 108.31,113.66 108.66,115.35 109.01,116.90 109.35,118.34 109.70,119.68 110.04,120.93 110.39,122.11 110.73,123.22 111.08,124.27 111.43,125.27 111.77,126.22 112.12,127.12 112.46,127.98 112.81,128.81 113.15,129.60 113.50,130.36 113.85,131.10 114.19,131.67 114.54,132.23 114.88,132.76 115.23,133.26 115.57,133.75 115.92,134.22 116.27,134.67 116.61,135.11 116.96,135.53 117.30,135.94 117.65,136.33 117.99,136.71 118.34,137.07 118.69,137.43 119.03,137.77 119.38,138.10 119.72,138.42 120.07,138.73 120.41,139.04 120.76,139.33 121.11,139.62 121.45,139.90 121.80,140.17 122.14,140.43 122.49,140.68 122.83,140.93 123.18,141.17 123.53,141.41 123.87,141.64 124.22,141.86 124.56,142.08 124.91,142.29 125.25,142.50 125.60,142.70 125.95,142.86 126.29,143.02 126.64,143.17 126.98,143.31 127.33,143.45 127.67,143.59 128.02,143.72 128.37,143.85 128.71,143.98 129.06,144.10 129.40,144.22 129.75,144.33 130.09,144.44 130.44,144.55 130.79,144.65 131.13,144.75 131.48,144.85 131.82,144.95 132.17,145.04 132.51,145.13 132.86,145.22 133.21,145.30 133.55,145.38 133.90,145.46 134.24,145.54 134.59,145.61 134.93,145.68 135.28,145.75 135.63,145.82 135.97,145.88 136.32,145.94 136.66,146.00 137.01,146.06 137.35,146.12 137.70,146.17 138.05,146.22 138.39,146.27 138.74,146.32 139.08,146.36 139.43,146.41 139.77,146.45 140.12,146.49 140.47,146.53 140.81,146.57 141.16,146.60 141.50,146.64 141.85,146.67 142.19,146.70 142.54,146.73 142.89,146.76 143.23,146.78 143.58,146.81 143.92,146.83 144.27,146.85 144.61,146.87 144.96,146.89 145.31,146.91 145.65,146.93 146.00,146.94 146.34,146.96 146.69,146.97 147.03,146.98 147.38,146.99 147.73,147.00 148.07,147.01 148.42,147.02 148.76,147.02 149.11,147.03 149.45,147.03 149.80,147.03 150.15,147.07 150.49,147.11 150.84,147.14 151.18,147.18 151.53,147.21 151.87,147.24 152.22,147.28 152.57,147.31 152.91,147.34 153.26,147.37 153.60,147.40 153.95,147.42 154.29,147.45 154.64,147.47 154.99,147.50 155.33,147.52 155.68,147.54 156.02,147.57 156.37,147.59 156.71,147.61 157.06,147.63 157.41,147.64 157.75,147.66 158.10,147.68 158.44,147.70 158.79,147.71 159.13,147.72 159.48,147.74 159.83,147.75 160.17,147.76 160.52,147.77 160.86,147.78 161.21,147.79 161.55,147.80 161.90,147.81 162.25,147.82 162.59,147.83 162.94,147.83 163.28,147.84 163.63,147.84 163.97,147.85 164.32,147.85 164.67,147.85 165.01,147.85 165.36,147.86 165.70,147.86 166.05,147.86 166.39,147.86 166.74,147.85 167.09,147.85 167.43,147.85 167.78,147.85 168.12,147.84 168.47,147.84 168.81,147.83 169.16,147.83 169.51,147.82 169.85,147.81 170.20,147.81 170.54,147.80 170.89,147.79 171.23,147.78 171.58,147.77 171.93,147.76 172.27,147.75 172.62,147.74 172.96,147.72 173.31,147.71 173.65,147.70 174.00,147.68 174.35,147.67 174.69,147.65 175.04,147.64 175.38,147.62 175.73,147.60 176.07,147.59 176.42,147.57 176.77,147.55 177.11,147.53 177.46,147.51 177.80,147.49 178.15,147.47 178.49,147.45 178.84,147.43 179.19,147.41 179.53,147.38 179.88,147.36 180.22,147.34 180.57,147.31 180.91,147.29 181.26,147.26 181.61,147.24 181.95,147.21 182.30,147.18 182.64,147.16 182.99,147.13 183.33,147.10 183.68,147.07 184.03,147.04 184.37,147.01 184.72,146.98 185.06,146.95 185.41,146.92 185.75,146.89 186.10,146.85 186.45,146.82 186.79,146.79 187.14,146.75 187.48,146.72 187.83,146.68 188.17,146.65 188.52,146.61 188.87,146.57 189.21,146.54 189.56,146.50 189.90,146.46 190.25,146.42 190.59,146.38 190.94,146.35 191.29,146.31 191.63,146.26 191.98,146.22 192.32,146.18 192.67,146.14 193.01,146.10 193.36,146.05 193.71,146.01 194.05,145.97 194.40,145.92 194.74,145.88 195.09,145.83 195.43,145.79 195.78,145.74 196.13,145.69 196.47,145.64 196.82,145.60 197.16,145.55 197.51,145.50 197.85,145.45 198.20,145.40 198.55,145.35 198.89,145.30 199.24,145.25 199.58,145.19 199.93,145.14 200.27,145.09 200.62,145.03 200.97,144.98 201.31,144.92 201.66,144.87 202.00,144.81 202.35,144.76 202.69,144.70 203.04,144.64 203.39,144.58 203.73,144.53 204.08,144.47 204.42,144.41 204.77,144.35 205.11,144.29 205.46,144.23 205.81,144.16 206.15,144.10 206.50,144.04 206.84,143.98 207.19,143.91 207.53,143.85 207.88,143.78 208.23,143.72 208.57,143.65 208.92,143.58 209.26,143.52 209.61,143.45 209.95,143.38 210.30,143.31 210.65,143.24 210.99,143.17 211.34,143.10 211.68,143.03 212.03,142.96 212.37,142.88 212.72,142.81 213.07,142.74 213.41,142.66 213.76,142.59 214.10,142.51 214.45,142.43 214.79,142.36 215.14,142.28 215.49,142.20 215.83,142.12 216.18,142.04 216.52,141.96 216.87,141.88 217.21,141.80 217.56,141.72 217.91,141.64 218.25,141.55 218.60,141.47 218.94,141.38 219.29,141.30 219.63,141.21 219.98,141.12 220.33,141.04 220.67,140.95 221.02,140.86 221.36,140.77 221.71,140.68 222.05,140.59 222.40,140.49 222.75,140.40 223.09,140.31 223.44,140.21 223.78,140.12 224.13,140.02 224.47,139.93 224.82,139.83 225.17,139.73 225.51,139.63 225.86,139.53 226.20,139.43 226.55,139.33 226.89,139.23 227.24,139.12 227.59,139.02 227.93,138.91 228.28,138.81 228.62,138.70 228.97,138.59 229.31,138.48 229.66,138.37 230.01,138.26 230.35,138.15 230.70,138.04 231.04,137.93 231.39,137.81 231.73,137.70 232.08,137.58 232.43,137.47 232.77,137.35 233.12,137.23 233.46,137.11 233.81,136.99 234.15,136.86 234.50,136.74 234.85,136.62 235.19,136.49 235.54,136.36 235.88,136.24 236.23,136.11 236.57,135.98 236.92,135.85 237.27,135.71 237.61,135.58 237.96,135.45 238.30,135.31 238.65,135.17 238.99,135.03 239.34,134.89 239.69,134.75 240.03,134.61 240.38,134.47 240.72,134.32 241.07,134.18 241.41,134.03 241.76,133.88 242.11,133.73 242.45,133.58 242.80,133.42 243.14,133.27 243.49,133.11 243.83,132.96 244.18,132.80 244.53,132.63 244.87,132.47 245.22,132.31 245.56,132.14 245.91,131.97 246.25,131.81 246.60,131.63 246.95,131.46 247.29,131.29 247.64,131.11 247.98,130.93 248.33,130.75 248.67,130.57 249.02,130.39 249.37,130.20 249.71,130.01 250.06,129.83 250.40,129.63 250.75,129.44 251.09,129.24 251.44,129.05 251.79,128.84 252.13,128.64 252.48,128.44 252.82,128.23 253.17,128.02 253.51,127.81 253.86,127.59 254.21,127.38 254.55,127.16 254.90,126.93 255.24,126.71 255.59,126.48 255.93,126.25 256.28,126.02 256.63,125.78 256.97,125.54 257.32,125.30 257.66,125.05 258.01,124.81 258.35,124.55 258.70,124.30 259.05,124.04 259.39,123.78 259.74,123.51 260.08,123.24 260.43,122.97 260.77,122.69 261.12,122.41 261.47,122.13 261.81,121.84 262.16,121.54 262.50,121.25 262.85,120.95 263.19,120.64 263.54,120.33 263.89,120.01 264.23,119.69 264.58,119.36 264.92,119.03 265.27,118.70 265.61,118.35 265.96,118.00 266.31,117.65 266.65,117.29 267.00,116.92 267.34,116.55 267.69,116.17 268.03,115.78 268.38,115.39 268.73,114.99 269.07,114.58 269.42,114.16 269.76,113.74 270.11,113.30 270.45,112.86 270.80,112.41 271.15,111.94 271.49,111.47 271.84,110.99 272.18,110.50 272.53,109.99 272.87,109.47 273.22,108.94 273.57,108.40 273.91,107.84 274.26,107.27 274.60,106.69 274.95,106.08 275.29,105.46 275.64,104.83 275.99,104.17 276.33,103.49 276.68,102.80 277.02,102.08 277.37,101.33 277.71,100.56 278.06,99.77 278.41,98.94 278.75,98.08 279.10,97.19 279.44,96.26 279.79,95.30 280.13,94.29 280.48,93.24 280.83,92.13 281.17,90.98 281.52,89.76 281.86,88.49 282.21,87.15 282.55,85.74 282.90,84.25 283.25,82.70 283.59,81.08 283.94,79.40 284.28,77.69 284.63,76.00 284.97,74.40 285.32,73.01 285.67,71.97 286.01,71.40 286.36,71.38 286.70,71.89 287.05,72.84 287.39,74.08 287.74,75.47 288.09,76.92 288.43,78.37 288.78,79.78 289.12,81.13 289.47,82.41 289.81,83.61 290.16,84.74 290.51,85.80 290.85,86.80 291.20,87.73 291.54,88.61 291.89,89.43 292.23,90.21 292.58,90.93 292.93,91.62 293.27,92.27 293.62,92.88 293.96,93.45 294.31,94.00 294.65,94.51 295.00,94.99 295.35,95.44 295.69,95.87 296.04,96.28 296.38,96.66 296.73,97.02 297.07,97.35 297.42,97.67 297.77,97.97 298.11,98.24 298.46,98.50 298.80,98.74 299.15,98.96 299.49,99.17 299.84,99.36 300.19,99.53 300.53,99.69 300.88,99.83 301.22,99.95 301.57,100.06 301.91,100.16 302.26,100.24 302.61,100.30 302.95,100.35 303.30,100.38 303.64,100.40 303.99,100.41 304.33,100.40 304.68,100.38 305.03,100.34 305.37,100.28 305.72,100.21 306.06,100.13 306.41,100.03 306.75,99.91 307.10,99.77 307.45,99.62 307.79,99.45 308.14,99.27 308.48,99.06 308.83,98.84 309.17,98.60 309.52,98.34 309.87,98.05 310.21,97.75 310.56,97.42 310.90,97.07 311.25,96.70 311.59,96.29 311.94,95.87 312.29,95.41 312.63,94.92 312.98,94.40 313.32,93.85 313.67,93.26 314.01,92.63 314.36,91.96 314.71,91.25 315.05,90.49 315.40,89.68 315.74,88.82 316.09,87.90 316.43,86.93 316.78,85.89 317.13,84.80 317.47,83.65 317.82,82.45 318.16,81.21 318.51,79.96 318.85,78.74 319.20,77.61 319.55,76.65 319.89,75.96 320.24,75.64 320.58,75.76 320.93,76.31 321.27,77.25 321.62,78.56 321.97,80.05 322.31,81.65 322.66,83.29 323.00,84.92 323.35,86.52 323.69,88.07 324.04,89.57 324.39,91.00 324.73,92.38 325.08,93.70 325.42,94.96 325.77,96.18 326.11,97.34 326.46,98.46 326.81,99.54 327.15,100.57 327.50,101.57 327.84,102.53 328.19,103.46 328.53,104.28 328.88,105.07 329.23,105.83 329.57,106.57 329.92,107.28 330.26,107.97 330.61,108.64 330.95,109.28 331.30,109.91 331.65,110.52 331.99,111.11 332.34,111.69 332.68,112.25 333.03,112.79 333.37,113.32 333.72,113.83 334.07,114.33 334.41,114.82 334.76,115.30 335.10,115.76 335.45,116.21 335.79,116.65 336.14,117.08 336.49,117.50 336.83,117.91 337.18,118.31 337.52,118.70 337.87,119.09 338.21,119.46 338.56,119.82 338.91,120.18 339.25,120.53 339.60,120.87 339.94,121.20 340.29,121.52 340.63,121.84 340.98,122.15 341.33,122.45 341.67,122.75 342.02,123.04 342.36,123.33 342.71,123.60 343.05,123.88 343.40,124.14 343.75,124.38 344.09,124.62 344.44,124.85 344.78,125.07 345.13,125.29 345.47,125.50 345.82,125.71 346.17,125.91 346.51,126.11 346.86,126.30 347.20,126.49 347.55,126.67 347.89,126.85 348.24,127.03 348.59,127.20 348.93,127.37 349.28,127.53 349.62,127.69 349.97,127.84 350.31,127.99 350.66,128.14 351.01,128.28 351.35,128.42 351.70,128.55 352.04,128.68 352.39,128.81 352.73,128.94 353.08,129.06 353.43,129.18 353.77,129.29 354.12,129.40 354.46,129.51 354.81,129.61 355.15,129.71 355.50,129.81 355.85,129.91 356.19,130.00 356.54,130.09 356.88,130.18 357.23,130.26 357.57,130.34 357.92,130.42 358.27,130.50 358.61,130.57 358.96,130.64 359.30,130.71 359.65,130.77 359.99,130.83 360.34,130.89 360.69,130.95 361.03,131.01 361.38,131.06 361.72,131.11 362.07,131.16 362.41,131.20 362.76,131.25 363.11,131.29 363.45,131.33 363.80,131.37 364.14,131.40 364.49,131.43 364.83,131.46 365.18,131.49 365.53,131.52 365.87,131.54 366.22,131.57 366.56,131.59 366.91,131.61 367.25,131.62 367.60,131.64 367.95,131.65 368.29,131.67 368.64,131.68 368.98,131.68 369.33,131.69 369.67,131.69 370.02,131.70 370.37,131.70 370.71,131.70 371.06,131.70 371.40,131.71 371.75,131.73 372.09,131.74 372.44,131.75 372.79,131.76 373.13,131.77 373.48,131.78 373.82,131.79 374.17,131.79 374.51,131.79 374.86,131.79 375.21,131.79 375.55,131.79 375.90,131.79 376.24,131.79 376.59,131.78 376.93,131.77 377.28,131.77 377.63,131.76 377.97,131.75 378.32,131.73 378.66,131.72 379.01,131.71 379.35,131.69 379.70,131.67 380.05,131.66 380.39,131.64 380.74,131.62 381.08,131.59 381.43,131.57 381.77,131.55 382.12,131.52 382.47,131.50 382.81,131.47 383.16,131.44 383.50,131.41 383.85,131.38 384.19,131.35 384.54,131.32 384.89,131.28 385.23,131.25 385.58,131.21 385.92,131.18 386.27,131.14 386.61,131.10 386.96,131.06 387.31,131.02 387.65,130.98 388.00,130.94 388.34,130.89 388.69,130.85 389.03,130.80 389.38,130.76 389.73,130.71 390.07,130.66 390.42,130.61 390.76,130.56 391.11,130.51 391.45,130.46 391.80,130.41 392.15,130.36 392.49,130.30 392.84,130.25 393.18,130.19 393.53,130.13 393.87,130.08 394.22,130.02 394.57,129.96 394.91,129.90 395.26,129.84 395.60,129.77 395.95,129.71 396.29,129.65 396.64,129.58 396.99,129.52 397.33,129.45 397.68,129.39 398.02,129.32 398.37,129.25 398.71,129.18 399.06,129.11 399.41,129.04 399.75,128.97 400.10,128.90 400.44,128.83 400.79,128.75 401.13,128.68 401.48,128.60 401.83,128.53 402.17,128.45 402.52,128.37 402.86,128.30 403.21,128.22 403.55,128.14 403.90,128.06 404.25,127.98 404.59,127.90 404.94,127.81 405.28,127.73 405.63,127.65 405.97,127.56 406.32,127.48 406.67,127.39 407.01,127.31 407.36,127.22 407.70,127.13 408.05,127.04 408.39,126.95 408.74,126.86 409.09,126.77 409.43,126.68 409.78,126.59 410.12,126.49 410.47,126.40 410.81,126.31 411.16,126.21 411.51,126.12 411.85,126.02 412.20,125.92 412.54,125.82 412.89,125.73 413.23,125.63 413.58,125.53 413.93,125.43 414.27,125.32 414.62,125.22 414.96,125.12 415.31,125.02 415.65,124.91 416.00,124.81 416.35,124.70 416.69,124.60 417.04,124.49 417.38,124.38 417.73,124.27 418.07,124.16 418.42,124.05 418.77,123.94 419.11,123.83 419.46,123.72 419.80,123.61 420.15,123.49 420.49,123.38 420.84,123.26 421.19,123.15 421.53,123.03 421.88,122.91 422.22,122.80 422.57,122.68 422.91,122.56 423.26,122.44 423.61,122.32 423.95,122.20 424.30,122.07 424.64,121.95 424.99,121.83 425.33,121.70 425.68,121.57 426.03,121.45 426.37,121.32 426.72,121.19 427.06,121.06 427.41,120.93 427.75,120.80 428.10,120.67 428.45,120.54 428.79,120.41 429.14,120.27 429.48,120.14 429.83,120.00 430.17,119.87 430.52,119.73 430.87,119.59 431.21,119.45 431.56,119.31 431.90,119.17 432.25,119.03 432.59,118.89 432.94,118.74 433.29,118.60 433.63,118.45 433.98,118.31 434.32,118.16 434.67,118.01 435.01,117.86 435.36,117.71 435.71,117.56 436.05,117.41 436.40,117.26 436.74,117.10 437.09,116.95 437.43,116.79 437.78,116.63 438.13,116.47 438.47,116.31 438.82,116.15 439.16,115.99 439.51,115.83 439.85,115.67 440.20,115.50 440.55,115.33 440.89,115.17 441.24,115.00 441.58,114.83 441.93,114.66 442.27,114.49 442.62,114.31 442.97,114.14 443.31,113.96 443.66,113.78 444.00,113.61 444.35,113.43 444.69,113.25 445.04,113.06 445.39,112.88 445.73,112.69 446.08,112.51 446.42,112.32 446.77,112.13 447.11,111.94 447.46,111.75 447.81,111.55 448.15,111.36 448.50,111.16 448.84,110.96 449.19,110.76 449.53,110.56 449.88,110.35 450.23,110.15 450.57,109.94 450.92,109.73 451.26,109.52 451.61,109.31 451.95,109.10 452.30,108.88 452.65,108.66 452.99,108.44 453.34,108.22 453.68,108.00 454.03,107.77 454.37,107.54 454.72,107.31 455.07,107.08 455.41,106.84 455.76,106.61 456.10,106.37 456.45,106.13 456.79,105.88 457.14,105.63 457.49,105.39 457.83,105.13 458.18,104.88 458.52,104.62 458.87,104.36 459.21,104.10 459.56,103.83 459.91,103.57 460.25,103.30 460.60,103.02 460.94,102.74 461.29,102.46 461.63,102.18 461.98,101.89 462.33,101.60 462.67,101.31 463.02,101.01 463.36,100.71 463.71,100.40 464.05,100.09 464.40,99.78 464.75,99.46 465.09,99.14 465.44,98.81 465.78,98.48 466.13,98.14 466.47,97.80 466.82,97.46 467.17,97.10 467.51,96.75 467.86,96.39 468.20,96.02 468.55,95.65 468.89,95.27 469.24,94.88 469.59,94.49 469.93,94.09 470.28,93.68 470.62,93.27 470.97,92.85 471.31,92.42 471.66,91.98 472.01,91.54 472.35,91.09 472.70,90.62 473.04,90.15 473.39,89.67 473.73,89.18 474.08,88.67 474.43,88.16 474.77,87.63 475.12,87.10 475.46,86.54 475.81,85.98 476.15,85.40 476.50,84.81 476.85,84.20 477.19,83.57 477.54,82.93 477.88,82.27 478.23,81.59 478.57,80.89 478.92,80.18 479.27,79.44 479.61,78.67 479.96,77.89 480.30,77.08 480.65,76.24 480.99,75.38 481.34,74.49 481.69,73.58 482.03,72.64 482.38,71.68 482.72,70.70 483.07,69.70 483.41,68.68 483.76,67.67 484.11,66.66 484.45,65.68 484.80,64.75 485.14,63.89 485.49,63.13 485.83,62.51 486.18,62.05 486.53,61.78 486.87,61.72 487.22,61.86 487.56,62.19 487.91,62.68 488.25,63.32 488.60,64.06 488.95,64.88 489.29,65.75 489.64,66.65 489.98,67.55 490.33,68.46 490.67,69.36 491.02,70.24 491.37,71.10 491.71,72.06 492.06,72.96 492.40,73.83 492.75,74.67 493.09,75.48 493.44,76.26 493.79,77.01 494.13,77.74 494.48,78.44 494.82,79.12 495.17,79.78 495.51,80.42 495.86,81.04 496.21,81.64 496.55,82.22 496.90,82.78 497.24,83.33 497.59,83.86 497.93,84.38 498.28,84.88 498.63,85.37 498.97,85.84 499.32,86.31 499.66,86.76 500.01,87.20 500.35,87.63 500.70,88.05 501.05,88.46 501.39,88.86 501.74,89.25 502.08,89.63 502.43,90.01 502.77,90.37 503.12,90.73 503.47,91.08 503.81,91.37 504.16,91.66 504.50,91.94 504.85,92.21 505.19,92.48 505.54,92.74 505.89,92.99 506.23,93.24 506.58,93.49 506.92,93.73 507.27,93.96 507.61,94.19 507.96,94.41 508.31,94.63 508.65,94.85 509.00,95.06 509.34,95.26 509.69,95.47 510.03,95.66 510.38,95.86 510.73,96.05 511.07,96.24 511.42,96.42 511.76,96.60 512.11,96.77 512.45,96.95 512.80,97.12 513.15,97.28 513.49,97.44 513.84,97.60 514.18,97.76 514.53,97.92 514.87,98.07 515.22,98.21 515.57,98.36 515.91,98.50 516.26,98.64 516.60,98.78 516.95,98.92 517.29,99.05 517.64,99.18 517.99,99.31 518.33,99.43 518.68,99.55 519.02,99.67 519.37,99.79 519.71,99.91 520.06,100.02 520.41,100.14 520.75,100.25 521.10,100.35 521.44,100.46 521.79,100.56 522.13,100.67 522.48,100.77 522.83,100.86 523.17,100.96 523.52,101.05 523.86,101.15 524.21,101.24 524.55,101.33 524.90,101.42 525.25,101.50 525.59,101.59 525.94,101.67 526.28,101.75 526.63,101.83 526.97,101.91 527.32,101.98 527.67,102.06 528.01,102.13 528.36,102.20 528.70,102.27 529.05,102.34 529.39,102.41 529.74,102.47 530.09,102.54 530.43,102.60 530.78,102.66 531.12,102.72 531.47,102.78 531.81,102.84 532.16,102.90 532.51,102.95 532.85,103.01 533.20,103.06 533.54,103.11 533.89,103.16 534.23,103.21 534.58,103.26 534.93,103.30 535.27,103.35 535.62,103.39 535.96,103.44 536.31,103.48 536.65,103.52 537.00,103.56"/>
<polyline fill="none" stroke="#00f" stroke-width="1.8" stroke-linejoin="round" stroke-dasharray="4 1.6 1.2 1.6" points="53.00,230.51 53.35,230.36 53.69,230.20 54.04,230.03 54.38,229.85 54.73,229.67 55.07,229.48 55.42,229.29 55.77,229.08 56.11,228.87 56.46,228.66 56.80,228.44 57.15,228.21 57.49,227.97 57.84,227.73 58.19,227.48 58.53,227.23 58.88,226.97 59.22,226.71 59.57,226.44 59.91,226.16 60.26,225.88 60.61,225.60 60.95,225.31 61.30,225.01 61.64,224.71 61.99,224.41 62.33,224.10 62.68,223.79 63.03,223.48 63.37,223.16 63.72,222.84 64.06,222.51 64.41,222.19 64.75,221.85 65.10,221.52 65.45,221.18 65.79,220.84 66.14,220.50 66.48,220.15 66.83,219.81 67.17,219.46 67.52,219.10 67.87,218.75 68.21,218.39 68.56,218.03 68.90,217.67 69.25,217.31 69.59,216.94 69.94,216.57 70.29,216.20 70.63,215.83 70.98,215.46 71.32,215.08 71.67,214.70 72.01,214.32 72.36,213.94 72.71,213.56 73.05,213.17 73.40,212.78 73.74,212.39 74.09,212.00 74.43,211.60 74.78,211.21 75.13,210.81 75.47,210.41 75.82,210.01 76.16,209.60 76.51,209.19 76.85,208.78 77.20,208.37 77.55,207.96 77.89,207.54 78.24,207.12 78.58,206.70 78.93,206.27 79.27,205.84 79.62,205.41 79.97,204.98 80.31,204.54 80.66,204.10 81.00,203.66 81.35,203.21 81.69,202.76 82.04,202.30 82.39,201.85 82.73,201.38 83.08,200.92 83.42,200.45 83.77,199.97 84.11,199.49 84.46,199.01 84.81,198.52 85.15,198.03 85.50,197.53 85.84,197.03 86.19,196.52 86.53,196.00 86.88,195.48 87.23,194.95 87.57,194.42 87.92,193.88 88.26,193.33 88.61,192.78 88.95,192.21 89.30,191.64 89.65,191.06 89.99,190.48 90.34,189.88 90.68,189.27 91.03,188.65 91.37,188.03 91.72,187.39 92.07,186.74 92.41,186.07 92.76,185.40 93.10,184.70 93.45,184.00 93.79,183.28 94.14,182.54 94.49,181.78 94.83,181.01 95.18,180.21 95.52,179.40 95.87,178.56 96.21,177.69 96.56,176.80 96.91,175.88 97.25,174.93 97.60,173.94 97.94,172.92 98.29,171.85 98.63,170.74 98.98,169.59 99.33,168.37 99.67,167.10 100.02,165.75 100.36,164.33 100.71,162.83 101.05,161.22 101.40,159.50 101.75,157.64 102.09,155.63 102.44,153.44 102.78,151.03 103.13,148.38 103.47,145.45 103.82,142.25 104.17,138.87 104.51,135.67 104.86,133.43 105.20,133.31 105.55,135.15 105.89,138.00 106.24,141.05 106.59,143.94 106.93,146.56 107.28,149.03 107.62,151.26 107.97,153.28 108.31,155.12 108.66,156.80 109.01,158.36 109.35,159.80 109.70,161.14 110.04,162.40 110.39,163.58 110.73,164.69 111.08,165.74 111.43,166.73 111.77,167.68 112.12,168.59 112.46,169.45 112.81,170.28 113.15,171.07 113.50,171.83 113.85,172.56 114.19,173.14 114.54,173.69 114.88,174.22 115.23,174.73 115.57,175.22 115.92,175.69 116.27,176.14 116.61,176.57 116.96,176.99 117.30,177.40 117.65,177.79 117.99,178.17 118.34,178.53 118.69,178.89 119.03,179.23 119.38,179.56 119.72,179.88 120.07,180.20 120.41,180.50 120.76,180.79 121.11,181.08 121.45,181.36 121.80,181.63 122.14,181.89 122.49,182.14 122.83,182.39 123.18,182.63 123.53,182.87 123.87,183.10 124.22,183.32 124.56,183.54 124.91,183.75 125.25,183.96 125.60,184.16 125.95,184.32 126.29,184.47 126.64,184.62 126.98,184.77 127.33,184.91 127.67,185.04 128.02,185.18 128.37,185.30 128.71,185.43 129.06,185.55 129.40,185.67 129.75,185.78 130.09,185.89 130.44,186.00 130.79,186.10 131.13,186.21 131.48,186.30 131.82,186.40 132.17,186.49 132.51,186.58 132.86,186.66 133.21,186.75 133.55,186.83 133.90,186.91 134.24,186.98 134.59,187.06 134.93,187.13 135.28,187.19 135.63,187.26 135.97,187.32 136.32,187.39 136.66,187.45 137.01,187.50 137.35,187.56 137.70,187.61 138.05,187.66 138.39,187.71 138.74,187.76 139.08,187.81 139.43,187.85 139.77,187.89 140.12,187.93 140.47,187.97 140.81,188.01 141.16,188.04 141.50,188.08 141.85,188.11 142.19,188.14 142.54,188.17 142.89,188.20 143.23,188.22 143.58,188.25 143.92,188.27 144.27,188.29 144.61,188.31 144.96,188.33 145.31,188.35 145.65,188.36 146.00,188.38 146.34,188.39 146.69,188.40 147.03,188.41 147.38,188.42 147.73,188.43 148.07,188.44 148.42,188.45 148.76,188.45 149.11,188.46 149.45,188.46 149.80,188.46 150.15,188.50 150.49,188.54 150.84,188.57 151.18,188.61 151.53,188.64 151.87,188.67 152.22,188.70 152.57,188.73 152.91,188.76 153.26,188.79 153.60,188.82 153.95,188.85 154.29,188.87 154.64,188.90 154.99,188.92 155.33,188.95 155.68,188.97 156.02,188.99 156.37,189.01 156.71,189.03 157.06,189.05 157.41,189.07 157.75,189.08 158.10,189.10 158.44,189.11 158.79,189.13 159.13,189.14 159.48,189.16 159.83,189.17 160.17,189.18 160.52,189.19 160.86,189.20 161.21,189.21 161.55,189.22 161.90,189.23 162.25,189.23 162.59,189.24 162.94,189.25 163.28,189.25 163.63,189.26 163.97,189.26 164.32,189.26 164.67,189.26 165.01,189.27 165.36,189.27 165.70,189.27 166.05,189.27 166.39,189.27 166.74,189.26 167.09,189.26 167.43,189.26 167.78,189.25 168.12,189.25 168.47,189.24 168.81,189.24 169.16,189.23 169.51,189.23 169.85,189.22 170.20,189.21 170.54,189.20 170.89,189.19 171.23,189.18 171.58,189.17 171.93,189.16 172.27,189.15 172.62,189.14 172.96,189.13 173.31,189.11 173.65,189.10 174.00,189.08 174.35,189.07 174.69,189.05 175.04,189.04 175.38,189.02 175.73,189.00 176.07,188.99 176.42,188.97 176.77,188.95 177.11,188.93 177.46,188.91 177.80,188.89 178.15,188.87 178.49,188.85 178.84,188.82 179.19,188.80 179.53,188.78 179.88,188.75 180.22,188.73 180.57,188.70 180.91,188.68 181.26,188.65 181.61,188.63 181.95,188.60 182.30,188.57 182.64,188.54 182.99,188.52 183.33,188.49 183.68,188.46 184.03,188.43 184.37,188.40 184.72,188.37 185.06,188.34 185.41,188.30 185.75,188.27 186.10,188.24 186.45,188.20 186.79,188.17 187.14,188.14 187.48,188.10 187.83,188.07 188.17,188.03 188.52,187.99 188.87,187.96 189.21,187.92 189.56,187.88 189.90,187.84 190.25,187.80 190.59,187.76 190.94,187.72 191.29,187.68 191.63,187.64 191.98,187.60 192.32,187.56 192.67,187.52 193.01,187.47 193.36,187.43 193.71,187.38 194.05,187.34 194.40,187.30 194.74,187.25 195.09,187.20 195.43,187.16 195.78,187.11 196.13,187.06 196.47,187.01 196.82,186.97 197.16,186.92 197.51,186.87 197.85,186.82 198.20,186.77 198.55,186.72 198.89,186.66 199.24,186.61 199.58,186.56 199.93,186.51 200.27,186.45 200.62,186.40 200.97,186.34 201.31,186.29 201.66,186.23 202.00,186.18 202.35,186.12 202.69,186.06 203.04,186.00 203.39,185.94 203.73,185.89 204.08,185.83 204.42,185.77 204.77,185.71 205.11,185.64 205.46,185.58 205.81,185.52 206.15,185.46 206.50,185.39 206.84,185.33 207.19,185.27 207.53,185.20 207.88,185.14 208.23,185.07 208.57,185.00 208.92,184.94 209.26,184.87 209.61,184.80 209.95,184.73 210.30,184.66 210.65,184.59 210.99,184.52 211.34,184.45 211.68,184.38 212.03,184.30 212.37,184.23 212.72,184.16 213.07,184.08 213.41,184.01 213.76,183.93 214.10,183.85 214.45,183.78 214.79,183.70 215.14,183.62 215.49,183.54 215.83,183.46 216.18,183.38 216.52,183.30 216.87,183.22 217.21,183.14 217.56,183.06 217.91,182.97 218.25,182.89 218.60,182.80 218.94,182.72 219.29,182.63 219.63,182.55 219.98,182.46 220.33,182.37 220.67,182.28 221.02,182.19 221.36,182.10 221.71,182.01 222.05,181.92 222.40,181.82 222.75,181.73 223.09,181.64 223.44,181.54 223.78,181.45 224.13,181.35 224.47,181.25 224.82,181.15 225.17,181.06 225.51,180.96 225.86,180.86 226.20,180.75 226.55,180.65 226.89,180.55 227.24,180.44 227.59,180.34 227.93,180.23 228.28,180.13 228.62,180.02 228.97,179.91 229.31,179.80 229.66,179.69 230.01,179.58 230.35,179.47 230.70,179.36 231.04,179.24 231.39,179.13 231.73,179.01 232.08,178.90 232.43,178.78 232.77,178.66 233.12,178.54 233.46,178.42 233.81,178.30 234.15,178.17 234.50,178.05 234.85,177.93 235.19,177.80 235.54,177.67 235.88,177.54 236.23,177.41 236.57,177.28 236.92,177.15 237.27,177.02 237.61,176.88 237.96,176.75 238.30,176.61 238.65,176.47 238.99,176.34 239.34,176.20 239.69,176.05 240.03,175.91 240.38,175.77 240.72,175.62 241.07,175.47 241.41,175.33 241.76,175.18 242.11,175.02 242.45,174.87 242.80,174.72 243.14,174.56 243.49,174.41 243.83,174.25 244.18,174.09 244.53,173.92 244.87,173.76 245.22,173.60 245.56,173.43 245.91,173.26 246.25,173.09 246.60,172.92 246.95,172.75 247.29,172.57 247.64,172.40 247.98,172.22 248.33,172.04 248.67,171.85 249.02,171.67 249.37,171.48 249.71,171.29 250.06,171.10 250.40,170.91 250.75,170.72 251.09,170.52 251.44,170.32 251.79,170.12 252.13,169.92 252.48,169.71 252.82,169.50 253.17,169.29 253.51,169.08 253.86,168.86 254.21,168.64 254.55,168.42 254.90,168.20 255.24,167.97 255.59,167.75 255.93,167.51 256.28,167.28 256.63,167.04 256.97,166.80 257.32,166.56 257.66,166.31 258.01,166.06 258.35,165.81 258.70,165.55 259.05,165.29 259.39,165.03 259.74,164.76 260.08,164.49 260.43,164.22 260.77,163.94 261.12,163.66 261.47,163.37 261.81,163.08 262.16,162.79 262.50,162.49 262.85,162.19 263.19,161.88 263.54,161.57 263.89,161.25 264.23,160.93 264.58,160.60 264.92,160.27 265.27,159.93 265.61,159.59 265.96,159.24 266.31,158.88 266.65,158.52 267.00,158.15 267.34,157.78 267.69,157.39 268.03,157.01 268.38,156.61 268.73,156.21 269.07,155.80 269.42,155.38 269.76,154.95 270.11,154.51 270.45,154.07 270.80,153.61 271.15,153.15 271.49,152.67 271.84,152.19 272.18,151.69 272.53,151.18 272.87,150.66 273.22,150.13 273.57,149.59 273.91,149.03 274.26,148.45 274.60,147.86 274.95,147.25 275.29,146.63 275.64,145.99 275.99,145.33 276.33,144.65 276.68,143.94 277.02,143.22 277.37,142.47 277.71,141.69 278.06,140.89 278.41,140.05 278.75,139.18 279.10,138.28 279.44,137.34 279.79,136.36 280.13,135.34 280.48,134.27 280.83,133.15 281.17,131.97 281.52,130.73 281.86,129.42 282.21,128.05 282.55,126.59 282.90,125.06 283.25,123.44 283.59,121.74 283.94,119.97 284.28,118.16 284.63,116.35 284.97,114.62 285.32,113.11 285.67,111.97 286.01,111.39 286.36,111.43 286.70,112.08 287.05,113.19 287.39,114.58 287.74,116.12 288.09,117.69 288.43,119.23 288.78,120.72 289.12,122.12 289.47,123.44 289.81,124.67 290.16,125.83 290.51,126.91 290.85,127.93 291.20,128.87 291.54,129.76 291.89,130.59 292.23,131.38 292.58,132.11 292.93,132.80 293.27,133.45 293.62,134.07 293.96,134.64 294.31,135.19 294.65,135.70 295.00,136.18 295.35,136.64 295.69,137.07 296.04,137.47 296.38,137.85 296.73,138.21 297.07,138.55 297.42,138.86 297.77,139.16 298.11,139.44 298.46,139.69 298.80,139.93 299.15,140.15 299.49,140.36 299.84,140.54 300.19,140.71 300.53,140.87 300.88,141.01 301.22,141.13 301.57,141.24 301.91,141.33 302.26,141.41 302.61,141.47 302.95,141.52 303.30,141.55 303.64,141.57 303.99,141.57 304.33,141.56 304.68,141.53 305.03,141.49 305.37,141.43 305.72,141.36 306.06,141.27 306.41,141.17 306.75,141.05 307.10,140.91 307.45,140.75 307.79,140.58 308.14,140.39 308.48,140.18 308.83,139.95 309.17,139.71 309.52,139.44 309.87,139.15 310.21,138.84 310.56,138.50 310.90,138.14 311.25,137.76 311.59,137.35 311.94,136.91 312.29,136.44 312.63,135.94 312.98,135.41 313.32,134.84 313.67,134.24 314.01,133.59 314.36,132.90 314.71,132.16 315.05,131.38 315.40,130.54 315.74,129.64 316.09,128.68 316.43,127.66 316.78,126.57 317.13,125.40 317.47,124.17 317.82,122.88 318.16,121.53 318.51,120.15 318.85,118.78 319.20,117.50 319.55,116.40 319.89,115.62 320.24,115.27 320.58,115.44 320.93,116.12 321.27,117.23 321.62,118.73 321.97,120.41 322.31,122.16 322.66,123.93 323.00,125.67 323.35,127.35 323.69,128.97 324.04,130.52 324.39,132.00 324.73,133.41 325.08,134.75 325.42,136.04 325.77,137.27 326.11,138.45 326.46,139.58 326.81,140.67 327.15,141.71 327.50,142.72 327.84,143.69 328.19,144.62 328.53,145.44 328.88,146.24 329.23,147.00 329.57,147.74 329.92,148.46 330.26,149.15 330.61,149.82 330.95,150.47 331.30,151.09 331.65,151.70 331.99,152.30 332.34,152.87 332.68,153.43 333.03,153.97 333.37,154.50 333.72,155.02 334.07,155.52 334.41,156.01 334.76,156.48 335.10,156.94 335.45,157.40 335.79,157.84 336.14,158.27 336.49,158.69 336.83,159.09 337.18,159.49 337.52,159.88 337.87,160.27 338.21,160.64 338.56,161.00 338.91,161.36 339.25,161.70 339.60,162.04 339.94,162.37 340.29,162.70 340.63,163.01 340.98,163.32 341.33,163.63 341.67,163.92 342.02,164.21 342.36,164.50 342.71,164.77 343.05,165.04 343.40,165.31 343.75,165.55 344.09,165.78 344.44,166.01 344.78,166.23 345.13,166.45 345.47,166.66 345.82,166.87 346.17,167.07 346.51,167.27 346.86,167.46 347.20,167.65 347.55,167.83 347.89,168.01 348.24,168.18 348.59,168.35 348.93,168.52 349.28,168.68 349.62,168.84 349.97,168.99 350.31,169.14 350.66,169.29 351.01,169.43 351.35,169.57 351.70,169.70 352.04,169.83 352.39,169.96 352.73,170.08 353.08,170.20 353.43,170.32 353.77,170.43 354.12,170.54 354.46,170.65 354.81,170.75 355.15,170.85 355.50,170.95 355.85,171.05 356.19,171.14 356.54,171.23 356.88,171.31 357.23,171.39 357.57,171.47 357.92,171.55 358.27,171.63 358.61,171.70 358.96,171.77 359.30,171.84 359.65,171.90 359.99,171.96 360.34,172.02 360.69,172.08 361.03,172.13 361.38,172.18 361.72,172.23 362.07,172.28 362.41,172.33 362.76,172.37 363.11,172.41 363.45,172.45 363.80,172.48 364.14,172.52 364.49,172.55 364.83,172.58 365.18,172.61 365.53,172.63 365.87,172.66 366.22,172.68 366.56,172.70 366.91,172.72 367.25,172.73 367.60,172.75 367.95,172.76 368.29,172.77 368.64,172.78 368.98,172.79 369.33,172.79 369.67,172.80 370.02,172.80 370.37,172.80 370.71,172.80 371.06,172.80 371.40,172.81 371.75,172.83 372.09,172.84 372.44,172.85 372.79,172.86 373.13,172.87 373.48,172.87 373.82,172.88 374.17,172.88 374.51,172.89 374.86,172.89 375.21,172.88 375.55,172.88 375.90,172.88 376.24,172.87 376.59,172.87 376.93,172.86 377.28,172.85 377.63,172.84 377.97,172.83 378.32,172.82 378.66,172.80 379.01,172.79 379.35,172.77 379.70,172.75 380.05,172.74 380.39,172.72 380.74,172.69 381.08,172.67 381.43,172.65 381.77,172.62 382.12,172.60 382.47,172.57 382.81,172.54 383.16,172.51 383.50,172.48 383.85,172.45 384.19,172.42 384.54,172.39 384.89,172.35 385.23,172.32 385.58,172.28 385.92,172.24 386.27,172.20 386.61,172.16 386.96,172.12 387.31,172.08 387.65,172.04 388.00,172.00 388.34,171.95 388.69,171.91 389.03,171.86 389.38,171.81 389.73,171.77 390.07,171.72 390.42,171.67 390.76,171.62 391.11,171.56 391.45,171.51 391.80,171.46 392.15,171.40 392.49,171.35 392.84,171.29 393.18,171.24 393.53,171.18 393.87,171.12 394.22,171.06 394.57,171.00 394.91,170.94 395.26,170.88 395.60,170.82 395.95,170.75 396.29,170.69 396.64,170.62 396.99,170.56 397.33,170.49 397.68,170.42 398.02,170.35 398.37,170.29 398.71,170.22 399.06,170.14 399.41,170.07 399.75,170.00 400.10,169.93 400.44,169.85 400.79,169.78 401.13,169.71 401.48,169.63 401.83,169.55 402.17,169.48 402.52,169.40 402.86,169.32 403.21,169.24 403.55,169.16 403.90,169.08 404.25,169.00 404.59,168.91 404.94,168.83 405.28,168.75 405.63,168.66 405.97,168.58 406.32,168.49 406.67,168.40 407.01,168.32 407.36,168.23 407.70,168.14 408.05,168.05 408.39,167.96 408.74,167.87 409.09,167.78 409.43,167.68 409.78,167.59 410.12,167.50 410.47,167.40 410.81,167.31 411.16,167.21 411.51,167.12 411.85,167.02 412.20,166.92 412.54,166.82 412.89,166.72 413.23,166.62 413.58,166.52 413.93,166.42 414.27,166.32 414.62,166.21 414.96,166.11 415.31,166.01 415.65,165.90 416.00,165.79 416.35,165.69 416.69,165.58 417.04,165.47 417.38,165.36 417.73,165.25 418.07,165.14 418.42,165.03 418.77,164.92 419.11,164.81 419.46,164.70 419.80,164.58 420.15,164.47 420.49,164.35 420.84,164.24 421.19,164.12 421.53,164.00 421.88,163.88 422.22,163.77 422.57,163.65 422.91,163.53 423.26,163.40 423.61,163.28 423.95,163.16 424.30,163.04 424.64,162.91 424.99,162.79 425.33,162.66 425.68,162.53 426.03,162.41 426.37,162.28 426.72,162.15 427.06,162.02 427.41,161.89 427.75,161.76 428.10,161.62 428.45,161.49 428.79,161.36 429.14,161.22 429.48,161.09 429.83,160.95 430.17,160.81 430.52,160.67 430.87,160.53 431.21,160.39 431.56,160.25 431.90,160.11 432.25,159.97 432.59,159.82 432.94,159.68 433.29,159.53 433.63,159.39 433.98,159.24 434.32,159.09 434.67,158.94 435.01,158.79 435.36,158.64 435.71,158.49 436.05,158.33 436.40,158.18 436.74,158.02 437.09,157.87 437.43,157.71 437.78,157.55 438.13,157.39 438.47,157.23 438.82,157.07 439.16,156.91 439.51,156.74 439.85,156.58 440.20,156.41 440.55,156.24 440.89,156.08 441.24,155.91 441.58,155.73 441.93,155.56 442.27,155.39 442.62,155.21 442.97,155.04 443.31,154.86 443.66,154.68 444.00,154.50 444.35,154.32 444.69,154.14 445.04,153.96 445.39,153.77 445.73,153.58 446.08,153.40 446.42,153.21 446.77,153.02 447.11,152.82 447.46,152.63 447.81,152.43 448.15,152.24 448.50,152.04 448.84,151.84 449.19,151.64 449.53,151.43 449.88,151.23 450.23,151.02 450.57,150.81 450.92,150.60 451.26,150.39 451.61,150.17 451.95,149.96 452.30,149.74 452.65,149.52 452.99,149.30 453.34,149.07 453.68,148.85 454.03,148.62 454.37,148.39 454.72,148.16 455.07,147.92 455.41,147.69 455.76,147.45 456.10,147.21 456.45,146.96 456.79,146.72 457.14,146.47 457.49,146.22 457.83,145.96 458.18,145.71 458.52,145.45 458.87,145.19 459.21,144.92 459.56,144.65 459.91,144.38 460.25,144.11 460.60,143.83 460.94,143.55 461.29,143.27 461.63,142.98 461.98,142.69 462.33,142.40 462.67,142.10 463.02,141.80 463.36,141.49 463.71,141.18 464.05,140.87 464.40,140.55 464.75,140.23 465.09,139.91 465.44,139.58 465.78,139.24 466.13,138.90 466.47,138.56 466.82,138.21 467.17,137.85 467.51,137.49 467.86,137.12 468.20,136.75 468.55,136.37 468.89,135.99 469.24,135.60 469.59,135.20 469.93,134.80 470.28,134.38 470.62,133.96 470.97,133.54 471.31,133.10 471.66,132.66 472.01,132.21 472.35,131.74 472.70,131.27 473.04,130.79 473.39,130.30 473.73,129.80 474.08,129.28 474.43,128.76 474.77,128.22 475.12,127.67 475.46,127.11 475.81,126.53 476.15,125.93 476.50,125.32 476.85,124.70 477.19,124.05 477.54,123.39 477.88,122.71 478.23,122.00 478.57,121.28 478.92,120.53 479.27,119.76 479.61,118.96 479.96,118.13 480.30,117.28 480.65,116.40 480.99,115.48 481.34,114.54 481.69,113.56 482.03,112.55 482.38,111.50 482.72,110.43 483.07,109.32 483.41,108.20 483.76,107.06 484.11,105.92 484.45,104.81 484.80,103.74 485.14,102.75 485.49,101.88 485.83,101.18 486.18,100.69 486.53,100.45 486.87,100.47 487.22,100.74 487.56,101.24 487.91,101.93 488.25,102.76 488.60,103.69 488.95,104.68 489.29,105.70 489.64,106.73 489.98,107.76 490.33,108.76 490.67,109.74 491.02,110.69 491.37,111.61 491.71,112.63 492.06,113.58 492.40,114.48 492.75,115.35 493.09,116.19 493.44,116.99 493.79,117.76 494.13,118.51 494.48,119.22 494.82,119.92 495.17,120.59 495.51,121.23 495.86,121.86 496.21,122.46 496.55,123.05 496.90,123.62 497.24,124.17 497.59,124.71 497.93,125.23 498.28,125.73 498.63,126.22 498.97,126.70 499.32,127.17 499.66,127.62 500.01,128.06 500.35,128.49 500.70,128.91 501.05,129.32 501.39,129.72 501.74,130.12 502.08,130.50 502.43,130.87 502.77,131.24 503.12,131.59 503.47,131.94 503.81,132.24 504.16,132.52 504.50,132.80 504.85,133.07 505.19,133.34 505.54,133.60 505.89,133.85 506.23,134.10 506.58,134.34 506.92,134.58 507.27,134.81 507.61,135.04 507.96,135.27 508.31,135.48 508.65,135.70 509.00,135.91 509.34,136.11 509.69,136.31 510.03,136.51 510.38,136.70 510.73,136.89 511.07,137.08 511.42,137.26 511.76,137.44 512.11,137.61 512.45,137.79 512.80,137.95 513.15,138.12 513.49,138.28 513.84,138.44 514.18,138.59 514.53,138.75 514.87,138.90 515.22,139.04 515.57,139.19 515.91,139.33 516.26,139.47 516.60,139.61 516.95,139.74 517.29,139.87 517.64,140.00 517.99,140.13 518.33,140.25 518.68,140.37 519.02,140.49 519.37,140.61 519.71,140.72 520.06,140.84 520.41,140.95 520.75,141.06 521.10,141.16 521.44,141.27 521.79,141.37 522.13,141.47 522.48,141.57 522.83,141.67 523.17,141.76 523.52,141.86 523.86,141.95 524.21,142.04 524.55,142.13 524.90,142.21 525.25,142.30 525.59,142.38 525.94,142.46 526.28,142.54 526.63,142.62 526.97,142.70 527.32,142.77 527.67,142.85 528.01,142.92 528.36,142.99 528.70,143.06 529.05,143.13 529.39,143.19 529.74,143.26 530.09,143.32 530.43,143.38 530.78,143.44 531.12,143.50 531.47,143.56 531.81,143.62 532.16,143.67 532.51,143.73 532.85,143.78 533.20,143.83 533.54,143.88 533.89,143.93 534.23,143.98 534.58,144.02 534.93,144.07 535.27,144.11 535.62,144.16 535.96,144.20 536.31,144.24 536.65,144.28 537.00,144.32"/>
</g></g>
<g fill="none">
<line x1="52.65" y1="9" x2="538.65" y2="9" stroke="#909090" stroke-width="1.5"/>
<line x1="52.65" y1="257.75" x2="538.65" y2="257.75" stroke="#8c8c8c" stroke-width="1.5"/>
<line x1="53.4" y1="8.25" x2="53.4" y2="258.5" stroke="#8c8c8c" stroke-width="1.5"/>
<line x1="537.9" y1="8.25" x2="537.9" y2="258.5" stroke="#909090" stroke-width="1.5"/>
<g stroke="#999" stroke-width="1.4">
<line x1="122.61" y1="257" x2="122.61" y2="252"/><line x1="122.61" y1="9.7" x2="122.61" y2="13.9"/>
<line x1="191.83" y1="257" x2="191.83" y2="252"/><line x1="191.83" y1="9.7" x2="191.83" y2="13.9"/>
<line x1="261.04" y1="257" x2="261.04" y2="252"/><line x1="261.04" y1="9.7" x2="261.04" y2="13.9"/>
<line x1="330.26" y1="257" x2="330.26" y2="252"/><line x1="330.26" y1="9.7" x2="330.26" y2="13.9"/>
<line x1="399.47" y1="257" x2="399.47" y2="252"/><line x1="399.47" y1="9.7" x2="399.47" y2="13.9"/>
<line x1="468.69" y1="257" x2="468.69" y2="252"/><line x1="468.69" y1="9.7" x2="468.69" y2="13.9"/>
<line x1="54.10" y1="91.67" x2="58.60" y2="91.67"/><line x1="537.20" y1="91.67" x2="532.70" y2="91.67"/>
<line x1="54.10" y1="174.33" x2="58.60" y2="174.33"/><line x1="537.20" y1="174.33" x2="532.70" y2="174.33"/>
</g></g>
<g font-family="Liberation Serif" fill="#000" font-size="16">
<text x="53.7" y="275" text-anchor="middle">40</text>
<text x="122.9" y="275" text-anchor="middle">60</text>
<text x="192.1" y="275" text-anchor="middle">80</text>
<text x="261.3" y="275" text-anchor="middle">100</text>
<text x="330.6" y="275" text-anchor="middle">120</text>
<text x="399.8" y="275" text-anchor="middle">140</text>
<text x="469.0" y="275" text-anchor="middle">160</text>
<text x="538.2" y="275" text-anchor="middle">180</text>
<text x="41.4" y="17.3" text-anchor="end">10</text>
<text x="41.6" y="8.7" font-size="11.6">2</text>
<text x="41.4" y="100.0" text-anchor="end">10</text>
<text x="41.6" y="91.4" font-size="11.6">0</text>
<text x="38.4" y="182.6" text-anchor="end">10</text>
<text x="37.8" y="174.0" font-size="11.6">-2</text>
<text x="38.4" y="265.3" text-anchor="end">10</text>
<text x="37.8" y="256.7" font-size="11.6">-4</text>
</g>
<text x="295.3" y="293.8" text-anchor="middle" font-family="Liberation Serif" font-size="17">Frequency[Hz]</text>
<text transform="translate(13.2,133.2) rotate(-90)" text-anchor="middle" font-family="Liberation Serif" font-size="17">|Voltage FRF| [V/N]</text>
<line x1="152.9" y1="222.6" x2="177.1" y2="91" stroke="#000" stroke-width="1.3"/>
<polygon points="178.4,83.3 180.5,94.8 177.0,91.8 172.7,93.3" fill="#000"/>
<g font-family="Liberation Serif"><text x="124.6" y="234.5" font-size="12.5">R</text><text x="133" y="238.8" font-size="9.5">1</text><text x="138.8" y="234.5" font-size="12.2">increases</text></g>
<rect x="270.1" y="200.2" width="259.5" height="49.2" fill="#fff" stroke="#8a8a8a" stroke-width="1.2"/>
<line x1="273.7" y1="209.2" x2="298.8" y2="209.2" stroke="#000" stroke-width="1.7"/>
<circle cx="286.5" cy="224.5" r="2.3" fill="none" stroke="#f00" stroke-width="1.6"/>
<line x1="273.7" y1="240" x2="298.8" y2="240" stroke="#00f" stroke-width="1.8" stroke-dasharray="4 1.6 1.2 1.6"/>
<g font-family="Liberation Serif" font-size="14" fill="#000">
<text x="300.6" y="214.8">Analytical Distributed-Parameter Model</text>
<text x="300.6" y="230.3">System Level FE Analysis</text>
<text x="300.6" y="245.6">ECM from FE model</text>
</g>
</svg></body></html>
